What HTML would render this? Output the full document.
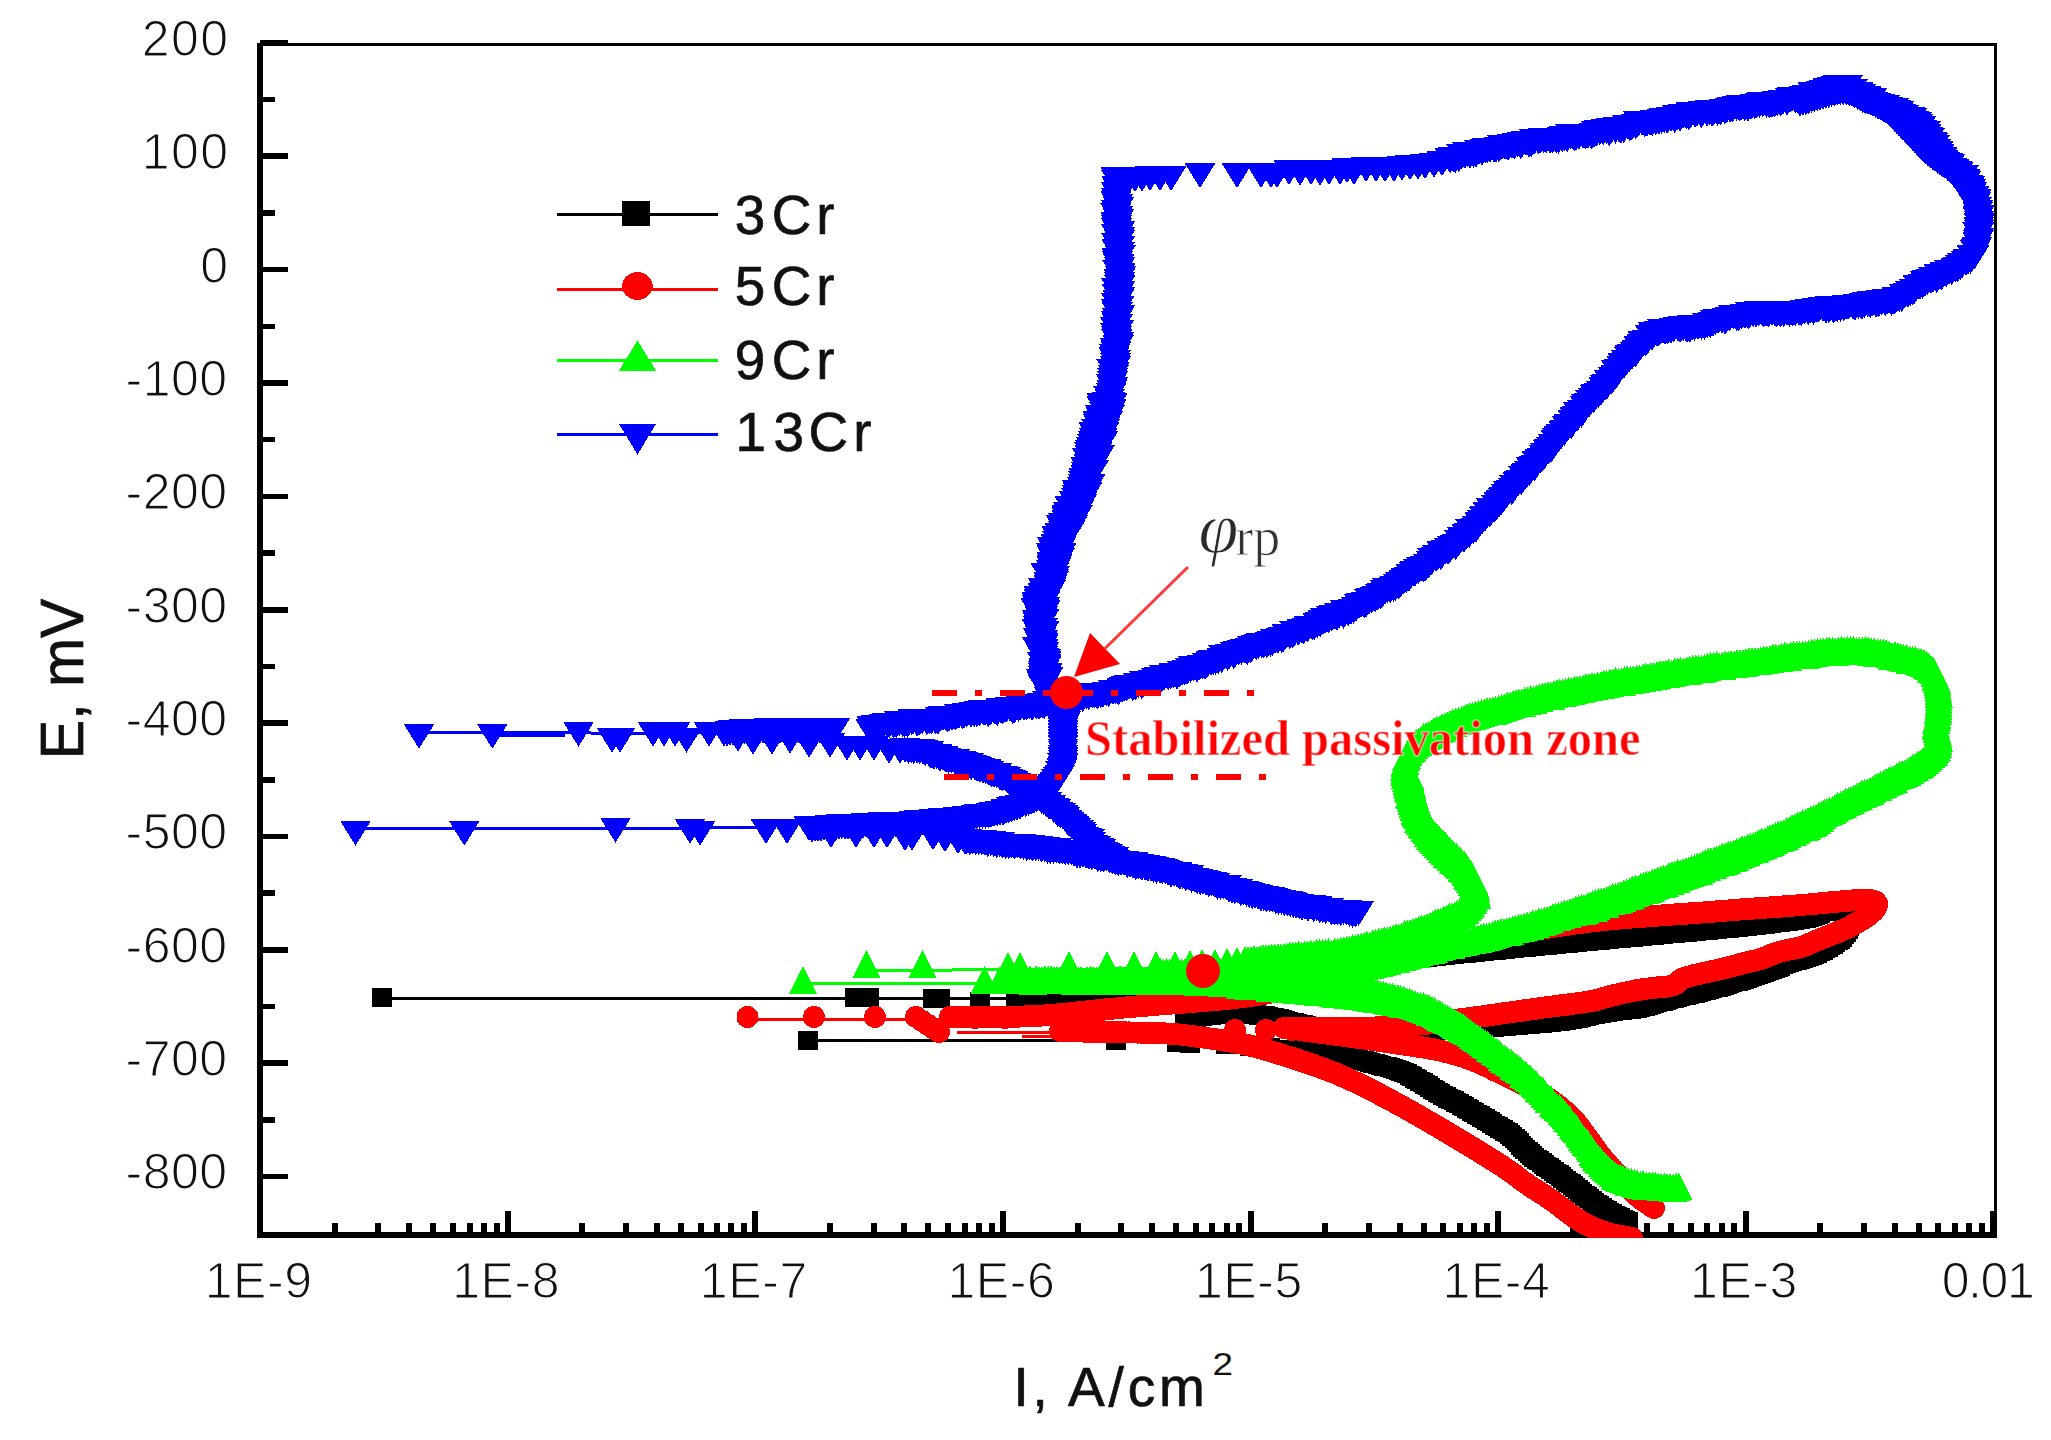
<!DOCTYPE html><html><head><meta charset="utf-8"><title>Polarization curves</title>
<style>html,body{margin:0;padding:0;background:#fff}svg{display:block}text{font-family:"Liberation Sans",sans-serif;fill:#111;stroke:#fff;stroke-width:1.2px}.se{font-family:"Liberation Serif",serif;stroke:none}.b{stroke:#111;stroke-width:.7px}</style></head><body>
<svg width="2051" height="1440" viewBox="0 0 2051 1440">
<rect width="2051" height="1440" fill="#fff"/>
<g fill="#000" shape-rendering="crispEdges"><rect x="256.8" y="42.5" width="6" height="1195.8"/><rect x="256.8" y="1231.8" width="1740.4" height="6.5"/><rect x="256.8" y="42.5" width="1740.4" height="3.5"/><rect x="1994" y="42.5" width="3.2" height="1195.8"/><rect x="260" y="40.1" width="27.5" height="5.6"/><rect x="260" y="96.8" width="15" height="5.6"/><rect x="260" y="153.4" width="27.5" height="5.6"/><rect x="260" y="210.1" width="15" height="5.6"/><rect x="260" y="266.8" width="27.5" height="5.6"/><rect x="260" y="323.5" width="15" height="5.6"/><rect x="260" y="380.1" width="27.5" height="5.6"/><rect x="260" y="436.8" width="15" height="5.6"/><rect x="260" y="493.5" width="27.5" height="5.6"/><rect x="260" y="550.2" width="15" height="5.6"/><rect x="260" y="606.9" width="27.5" height="5.6"/><rect x="260" y="663.5" width="15" height="5.6"/><rect x="260" y="720.2" width="27.5" height="5.6"/><rect x="260" y="776.9" width="15" height="5.6"/><rect x="260" y="833.5" width="27.5" height="5.6"/><rect x="260" y="890.2" width="15" height="5.6"/><rect x="260" y="946.9" width="27.5" height="5.6"/><rect x="260" y="1003.6" width="15" height="5.6"/><rect x="260" y="1060.2" width="27.5" height="5.6"/><rect x="260" y="1116.9" width="15" height="5.6"/><rect x="260" y="1173.6" width="27.5" height="5.6"/><rect x="257.3" y="1211" width="6" height="22"/><rect x="331.8" y="1222.8" width="6" height="10.7"/><rect x="375.4" y="1222.8" width="6" height="10.7"/><rect x="406.3" y="1222.8" width="6" height="10.7"/><rect x="430.3" y="1222.8" width="6" height="10.7"/><rect x="449.9" y="1222.8" width="6" height="10.7"/><rect x="466.5" y="1222.8" width="6" height="10.7"/><rect x="480.9" y="1222.8" width="6" height="10.7"/><rect x="493.5" y="1222.8" width="6" height="10.7"/><rect x="504.9" y="1211" width="6" height="22"/><rect x="579.4" y="1222.8" width="6" height="10.7"/><rect x="623" y="1222.8" width="6" height="10.7"/><rect x="653.9" y="1222.8" width="6" height="10.7"/><rect x="677.9" y="1222.8" width="6" height="10.7"/><rect x="697.5" y="1222.8" width="6" height="10.7"/><rect x="714.1" y="1222.8" width="6" height="10.7"/><rect x="728.4" y="1222.8" width="6" height="10.7"/><rect x="741.1" y="1222.8" width="6" height="10.7"/><rect x="752.4" y="1211" width="6" height="22"/><rect x="826.9" y="1222.8" width="6" height="10.7"/><rect x="870.5" y="1222.8" width="6" height="10.7"/><rect x="901.4" y="1222.8" width="6" height="10.7"/><rect x="925.4" y="1222.8" width="6" height="10.7"/><rect x="945" y="1222.8" width="6" height="10.7"/><rect x="961.6" y="1222.8" width="6" height="10.7"/><rect x="976" y="1222.8" width="6" height="10.7"/><rect x="988.6" y="1222.8" width="6" height="10.7"/><rect x="1000" y="1211" width="6" height="22"/><rect x="1074.5" y="1222.8" width="6" height="10.7"/><rect x="1118.1" y="1222.8" width="6" height="10.7"/><rect x="1149" y="1222.8" width="6" height="10.7"/><rect x="1173" y="1222.8" width="6" height="10.7"/><rect x="1192.6" y="1222.8" width="6" height="10.7"/><rect x="1209.2" y="1222.8" width="6" height="10.7"/><rect x="1223.5" y="1222.8" width="6" height="10.7"/><rect x="1236.2" y="1222.8" width="6" height="10.7"/><rect x="1247.5" y="1211" width="6" height="22"/><rect x="1322" y="1222.8" width="6" height="10.7"/><rect x="1365.6" y="1222.8" width="6" height="10.7"/><rect x="1396.5" y="1222.8" width="6" height="10.7"/><rect x="1420.5" y="1222.8" width="6" height="10.7"/><rect x="1440.1" y="1222.8" width="6" height="10.7"/><rect x="1456.7" y="1222.8" width="6" height="10.7"/><rect x="1471.1" y="1222.8" width="6" height="10.7"/><rect x="1483.7" y="1222.8" width="6" height="10.7"/><rect x="1495" y="1211" width="6" height="22"/><rect x="1569.6" y="1222.8" width="6" height="10.7"/><rect x="1613.2" y="1222.8" width="6" height="10.7"/><rect x="1644.1" y="1222.8" width="6" height="10.7"/><rect x="1668.1" y="1222.8" width="6" height="10.7"/><rect x="1687.7" y="1222.8" width="6" height="10.7"/><rect x="1704.3" y="1222.8" width="6" height="10.7"/><rect x="1718.6" y="1222.8" width="6" height="10.7"/><rect x="1731.3" y="1222.8" width="6" height="10.7"/><rect x="1742.6" y="1211" width="6" height="22"/><rect x="1817.1" y="1222.8" width="6" height="10.7"/><rect x="1860.7" y="1222.8" width="6" height="10.7"/><rect x="1891.6" y="1222.8" width="6" height="10.7"/><rect x="1915.6" y="1222.8" width="6" height="10.7"/><rect x="1935.2" y="1222.8" width="6" height="10.7"/><rect x="1951.8" y="1222.8" width="6" height="10.7"/><rect x="1966.2" y="1222.8" width="6" height="10.7"/><rect x="1978.8" y="1222.8" width="6" height="10.7"/><rect x="1990.2" y="1211" width="6" height="22"/></g>
<g font-size="50" letter-spacing="1.5"><text x="229.6" y="55.8" text-anchor="end">200</text><text x="229.6" y="169.2" text-anchor="end">100</text><text x="229.6" y="282.5" text-anchor="end">0</text><text x="227.6" y="395.8" text-anchor="end" letter-spacing="0.5">-100</text><text x="227.6" y="509.2" text-anchor="end" letter-spacing="0.5">-200</text><text x="227.6" y="622.5" text-anchor="end" letter-spacing="0.5">-300</text><text x="227.6" y="735.9" text-anchor="end" letter-spacing="0.5">-400</text><text x="227.6" y="849.2" text-anchor="end" letter-spacing="0.5">-500</text><text x="227.6" y="962.6" text-anchor="end" letter-spacing="0.5">-600</text><text x="227.6" y="1076" text-anchor="end" letter-spacing="0.5">-700</text><text x="227.6" y="1189.3" text-anchor="end" letter-spacing="0.5">-800</text><text x="258.7" y="1298" text-anchor="middle" letter-spacing="0.6">1E-9</text><text x="506.2" y="1298" text-anchor="middle" letter-spacing="0.6">1E-8</text><text x="753.8" y="1298" text-anchor="middle" letter-spacing="0.6">1E-7</text><text x="1001.4" y="1298" text-anchor="middle" letter-spacing="0.6">1E-6</text><text x="1248.9" y="1298" text-anchor="middle" letter-spacing="0.6">1E-5</text><text x="1496.5" y="1298" text-anchor="middle" letter-spacing="0.6">1E-4</text><text x="1744" y="1298" text-anchor="middle" letter-spacing="0.6">1E-3</text><text x="1987.5" y="1298" text-anchor="middle" letter-spacing="-1.4">0.01</text></g>
<text class="b" font-size="59" transform="translate(83.4,759.2) rotate(-90) scale(1,1.035)">E, mV</text>
<text class="b" font-size="55" x="1013.4" y="1405.8" letter-spacing="3.9">I, A/cm</text>
<text font-size="31" x="1212.5" y="1375" textLength="20.5" lengthAdjust="spacingAndGlyphs" style="stroke:none">2</text>
<defs><clipPath id="cp"><rect x="260" y="44" width="1737" height="1194"/></clipPath></defs>
<g clip-path="url(#cp)" shape-rendering="crispEdges">
<polyline points="382,998.3 1040,998.3" fill="none" stroke="#000" stroke-width="3"/>
<polyline points="808,1040.3 1110,1040.3" fill="none" stroke="#000" stroke-width="3"/>
<path fill="#000" d="M1030,987.5h20v19h-20zM1033,987.5h20v19h-20zM1036,987.5h20v19h-20zM1039,987.4h20v19h-20zM1042,987.4h20v19h-20zM1045,987.4h20v19h-20zM1048,987.4h20v19h-20zM1051,987.3h20v19h-20zM1054,987.3h20v19h-20zM1057,987.3h20v19h-20zM1060,987.3h20v19h-20zM1063,987.2h20v19h-20zM1066,987.2h20v19h-20zM1069,987.2h20v19h-20zM1072,987.1h20v19h-20zM1075,987.1h20v19h-20zM1078,987.1h20v19h-20zM1081,987h20v19h-20zM1084,987h20v19h-20zM1087,986.9h20v19h-20zM1090,986.9h20v19h-20zM1093,986.9h20v19h-20zM1096,986.8h20v19h-20zM1099,986.8h20v19h-20zM1102,986.7h20v19h-20zM1105,986.7h20v19h-20zM1108,986.6h20v19h-20zM1111,986.6h20v19h-20zM1114,986.5h20v19h-20zM1117,986.5h20v19h-20zM1120,986.4h20v19h-20zM1123,986.4h20v19h-20zM1126,986.3h20v19h-20zM1129,986.2h20v19h-20zM1132,986.2h20v19h-20zM1135,986.1h20v19h-20zM1138,986.1h20v19h-20zM1141,985.9h20v19h-20zM1144,985.7h20v19h-20zM1147,985.5h20v19h-20zM1150,985.2h20v19h-20zM1153,985h20v19h-20zM1155.9,984.8h20v19h-20zM1158.9,984.6h20v19h-20zM1161.9,984.4h20v19h-20zM1164.9,984h20v19h-20zM1167.9,983.7h20v19h-20zM1170.9,983.4h20v19h-20zM1173.9,983.1h20v19h-20zM1176.8,982.7h20v19h-20zM1179.8,982.4h20v19h-20zM1182.8,982.1h20v19h-20zM1185.8,981.8h20v19h-20zM1188.8,981.4h20v19h-20zM1191.7,981h20v19h-20zM1194.7,980.5h20v19h-20zM1197.7,980.1h20v19h-20zM1200.6,979.7h20v19h-20zM1203.6,979.3h20v19h-20zM1206.6,978.9h20v19h-20zM1209.6,978.5h20v19h-20zM1212.5,978.1h20v19h-20zM1215.5,977.6h20v19h-20zM1218.5,977.1h20v19h-20zM1221.4,976.7h20v19h-20zM1224.4,976.2h20v19h-20zM1227.3,975.7h20v19h-20zM1230.3,975.2h20v19h-20zM1233.3,974.7h20v19h-20zM1236.2,974.2h20v19h-20zM1239.2,973.8h20v19h-20zM1242.1,973.3h20v19h-20zM1245.1,972.8h20v19h-20zM1248.1,972.3h20v19h-20zM1251,971.8h20v19h-20zM1254,971.4h20v19h-20zM1257,970.9h20v19h-20zM1259.9,970.4h20v19h-20zM1262.9,969.9h20v19h-20zM1265.8,969.4h20v19h-20zM1268.8,968.9h20v19h-20zM1271.8,968.5h20v19h-20zM1274.7,968h20v19h-20zM1277.7,967.5h20v19h-20zM1280.6,967h20v19h-20zM1283.6,966.5h20v19h-20zM1286.6,966.1h20v19h-20zM1289.5,965.6h20v19h-20zM1292.5,965.1h20v19h-20zM1295.4,964.6h20v19h-20zM1298.4,964.1h20v19h-20zM1301.4,963.7h20v19h-20zM1304.3,963.2h20v19h-20zM1307.3,962.7h20v19h-20zM1310.3,962.2h20v19h-20zM1313.2,961.7h20v19h-20zM1316.2,961.2h20v19h-20zM1319.1,960.8h20v19h-20zM1322.1,960.3h20v19h-20zM1325.1,959.8h20v19h-20zM1328,959.3h20v19h-20zM1331,958.8h20v19h-20zM1333.9,958.4h20v19h-20zM1336.9,957.9h20v19h-20zM1339.9,957.4h20v19h-20zM1342.8,956.9h20v19h-20zM1345.8,956.5h20v19h-20zM1348.8,956.1h20v19h-20zM1351.7,955.6h20v19h-20zM1354.7,955.2h20v19h-20zM1357.7,954.7h20v19h-20zM1360.6,954.3h20v19h-20zM1363.6,953.9h20v19h-20zM1366.6,953.5h20v19h-20zM1369.6,953.1h20v19h-20zM1372.5,952.7h20v19h-20zM1375.5,952.3h20v19h-20zM1378.5,951.9h20v19h-20zM1381.4,951.5h20v19h-20zM1384.4,951.1h20v19h-20zM1387.4,950.8h20v19h-20zM1390.4,950.4h20v19h-20zM1393.4,950h20v19h-20zM1396.3,949.7h20v19h-20zM1399.3,949.4h20v19h-20zM1402.3,949.1h20v19h-20zM1405.3,948.8h20v19h-20zM1408.3,948.4h20v19h-20zM1411.3,948.1h20v19h-20zM1414.2,947.8h20v19h-20zM1417.2,947.5h20v19h-20zM1420.2,947.2h20v19h-20zM1423.2,946.9h20v19h-20zM1426.2,946.6h20v19h-20zM1429.2,946.3h20v19h-20zM1432.1,945.9h20v19h-20zM1435.1,945.6h20v19h-20zM1438.1,945.3h20v19h-20zM1441.1,945h20v19h-20zM1444.1,944.7h20v19h-20zM1447.1,944.4h20v19h-20zM1450,944.1h20v19h-20zM1453,943.8h20v19h-20zM1456,943.5h20v19h-20zM1459,943.2h20v19h-20zM1462,942.9h20v19h-20zM1465,942.6h20v19h-20zM1468,942.3h20v19h-20zM1470.9,942h20v19h-20zM1473.9,941.7h20v19h-20zM1476.9,941.4h20v19h-20zM1479.9,941.1h20v19h-20zM1482.9,940.8h20v19h-20zM1485.9,940.5h20v19h-20zM1488.8,940.2h20v19h-20zM1491.8,939.9h20v19h-20zM1494.8,939.6h20v19h-20zM1497.8,939.3h20v19h-20zM1500.8,939h20v19h-20zM1503.8,938.7h20v19h-20zM1506.8,938.4h20v19h-20zM1509.7,938.1h20v19h-20zM1512.7,937.8h20v19h-20zM1515.7,937.5h20v19h-20zM1518.7,937.2h20v19h-20zM1521.7,936.9h20v19h-20zM1524.7,936.6h20v19h-20zM1527.7,936.3h20v19h-20zM1530.6,936h20v19h-20zM1533.6,935.7h20v19h-20zM1536.6,935.5h20v19h-20zM1539.6,935.2h20v19h-20zM1542.6,934.9h20v19h-20zM1545.6,934.6h20v19h-20zM1548.6,934.3h20v19h-20zM1551.5,934h20v19h-20zM1554.5,933.8h20v19h-20zM1557.5,933.5h20v19h-20zM1560.5,933.2h20v19h-20zM1563.5,932.9h20v19h-20zM1566.5,932.6h20v19h-20zM1569.5,932.4h20v19h-20zM1572.5,932.1h20v19h-20zM1575.4,931.8h20v19h-20zM1578.4,931.6h20v19h-20zM1581.4,931.3h20v19h-20zM1584.4,931h20v19h-20zM1587.4,930.8h20v19h-20zM1590.4,930.5h20v19h-20zM1593.4,930.2h20v19h-20zM1596.4,930h20v19h-20zM1599.4,929.7h20v19h-20zM1602.3,929.4h20v19h-20zM1605.3,929.1h20v19h-20zM1608.3,928.9h20v19h-20zM1611.3,928.6h20v19h-20zM1614.3,928.3h20v19h-20zM1617.3,928h20v19h-20zM1620.3,927.8h20v19h-20zM1623.3,927.5h20v19h-20zM1626.2,927.2h20v19h-20zM1629.2,926.9h20v19h-20zM1632.2,926.7h20v19h-20zM1635.2,926.4h20v19h-20zM1638.2,926.1h20v19h-20zM1641.2,925.8h20v19h-20zM1644.2,925.6h20v19h-20zM1647.1,925.3h20v19h-20zM1650.1,925h20v19h-20zM1653.1,924.7h20v19h-20zM1656.1,924.4h20v19h-20zM1659.1,924.2h20v19h-20zM1662.1,923.9h20v19h-20zM1665.1,923.6h20v19h-20zM1668.1,923.3h20v19h-20zM1671,923h20v19h-20zM1674,922.8h20v19h-20zM1677,922.5h20v19h-20zM1680,922.2h20v19h-20zM1683,921.9h20v19h-20zM1686,921.6h20v19h-20zM1689,921.3h20v19h-20zM1692,921.1h20v19h-20zM1694.9,920.8h20v19h-20zM1697.9,920.5h20v19h-20zM1700.9,920.2h20v19h-20zM1703.9,919.9h20v19h-20zM1706.9,919.6h20v19h-20zM1709.9,919.4h20v19h-20zM1712.9,919.1h20v19h-20zM1715.8,918.8h20v19h-20zM1718.8,918.5h20v19h-20zM1721.8,918.2h20v19h-20zM1724.8,917.9h20v19h-20zM1727.8,917.6h20v19h-20zM1730.8,917.3h20v19h-20zM1733.8,917h20v19h-20zM1736.7,916.7h20v19h-20zM1739.7,916.3h20v19h-20zM1742.7,916h20v19h-20zM1745.7,915.7h20v19h-20zM1748.7,915.3h20v19h-20zM1751.6,914.9h20v19h-20zM1754.6,914.6h20v19h-20zM1757.6,914.2h20v19h-20zM1760.6,913.8h20v19h-20zM1763.5,913.4h20v19h-20zM1766.5,913h20v19h-20zM1769.5,912.6h20v19h-20zM1772.5,912.3h20v19h-20zM1775.4,911.9h20v19h-20zM1778.4,911.5h20v19h-20zM1781.4,911.2h20v19h-20zM1784.4,910.8h20v19h-20zM1787.3,910.4h20v19h-20zM1790.3,909.9h20v19h-20zM1793.2,909.3h20v19h-20zM1796.2,908.6h20v19h-20zM1799.1,907.8h20v19h-20zM1801.9,906.9h20v19h-20zM1804.7,905.9h20v19h-20zM1807.5,904.8h20v19h-20zM1810.3,903.6h20v19h-20zM1813,902.3h20v19h-20zM1815.6,900.8h20v19h-20zM1818.2,899.4h20v19h-20zM1820.9,898h20v19h-20zM1823.8,897.6h20v19h-20zM1826.6,898.6h20v19h-20zM1829.3,900h20v19h-20zM1831.7,901.7h20v19h-20zM1834,903.7h20v19h-20zM1835.8,906.1h20v19h-20zM1837.3,908.7h20v19h-20zM1838.3,911.5h20v19h-20zM1838.8,914.4h20v19h-20zM1838.6,917.4h20v19h-20zM1837.7,920.3h20v19h-20zM1836.2,922.8h20v19h-20zM1834.4,925.2h20v19h-20zM1832.4,927.5h20v19h-20zM1830.2,929.5h20v19h-20zM1827.9,931.4h20v19h-20zM1825.4,933.1h20v19h-20zM1822.9,934.8h20v19h-20zM1820.4,936.4h20v19h-20zM1817.8,937.9h20v19h-20zM1815.2,939.4h20v19h-20zM1812.5,940.8h20v19h-20zM1809.9,942.2h20v19h-20zM1807.2,943.5h20v19h-20zM1804.4,944.7h20v19h-20zM1801.6,945.8h20v19h-20zM1798.8,946.8h20v19h-20zM1796,947.9h20v19h-20zM1793.1,948.7h20v19h-20zM1790.2,949.6h20v19h-20zM1787.4,950.5h20v19h-20zM1784.5,951.4h20v19h-20zM1781.7,952.4h20v19h-20zM1778.9,953.4h20v19h-20zM1776,954.4h20v19h-20zM1773.2,955.4h20v19h-20zM1770.4,956.5h20v19h-20zM1767.6,957.5h20v19h-20zM1764.8,958.6h20v19h-20zM1762,959.6h20v19h-20zM1759.2,960.7h20v19h-20zM1756.4,961.7h20v19h-20zM1753.6,962.8h20v19h-20zM1750.7,963.8h20v19h-20zM1747.9,964.8h20v19h-20zM1745.1,965.8h20v19h-20zM1742.2,966.8h20v19h-20zM1739.4,967.7h20v19h-20zM1736.6,968.7h20v19h-20zM1733.7,969.6h20v19h-20zM1730.9,970.6h20v19h-20zM1728,971.5h20v19h-20zM1725.1,972.4h20v19h-20zM1722.3,973.3h20v19h-20zM1719.4,974.2h20v19h-20zM1716.5,975.1h20v19h-20zM1713.7,975.9h20v19h-20zM1710.8,976.8h20v19h-20zM1707.9,977.6h20v19h-20zM1705,978.4h20v19h-20zM1702.1,979.2h20v19h-20zM1699.2,979.9h20v19h-20zM1696.3,980.7h20v19h-20zM1693.4,981.4h20v19h-20zM1690.5,982.1h20v19h-20zM1687.6,982.8h20v19h-20zM1684.7,983.6h20v19h-20zM1681.8,984.3h20v19h-20zM1678.8,985h20v19h-20zM1675.9,985.7h20v19h-20zM1673,986.4h20v19h-20zM1670.1,987.1h20v19h-20zM1667.2,987.8h20v19h-20zM1664.3,988.6h20v19h-20zM1661.4,989.3h20v19h-20zM1658.4,990h20v19h-20zM1655.5,990.7h20v19h-20zM1652.6,991.5h20v19h-20zM1649.7,992.3h20v19h-20zM1646.8,993h20v19h-20zM1643.9,993.9h20v19h-20zM1641.1,994.7h20v19h-20zM1638.2,995.6h20v19h-20zM1635.4,996.5h20v19h-20zM1632.5,997.3h20v19h-20zM1629.5,998h20v19h-20zM1626.6,998.6h20v19h-20zM1623.6,999.1h20v19h-20zM1620.7,999.6h20v19h-20zM1617.7,1000h20v19h-20zM1614.7,1000.4h20v19h-20zM1611.8,1000.7h20v19h-20zM1608.8,1001h20v19h-20zM1605.8,1001.3h20v19h-20zM1602.8,1001.7h20v19h-20zM1599.8,1002.1h20v19h-20zM1596.9,1002.5h20v19h-20zM1593.9,1003h20v19h-20zM1590.9,1003.5h20v19h-20zM1588,1004h20v19h-20zM1585.1,1004.6h20v19h-20zM1582.1,1005.3h20v19h-20zM1579.2,1005.9h20v19h-20zM1576.3,1006.7h20v19h-20zM1573.4,1007.4h20v19h-20zM1570.5,1008.1h20v19h-20zM1567.5,1008.7h20v19h-20zM1564.6,1009.2h20v19h-20zM1561.6,1009.8h20v19h-20zM1558.7,1010.2h20v19h-20zM1555.7,1010.6h20v19h-20zM1552.7,1011.1h20v19h-20zM1549.7,1011.5h20v19h-20zM1546.8,1011.9h20v19h-20zM1543.8,1012.2h20v19h-20zM1540.8,1012.5h20v19h-20zM1537.8,1012.8h20v19h-20zM1534.8,1013.2h20v19h-20zM1531.9,1013.5h20v19h-20zM1528.9,1013.8h20v19h-20zM1525.9,1014.1h20v19h-20zM1522.9,1014.3h20v19h-20zM1519.9,1014.6h20v19h-20zM1516.9,1014.9h20v19h-20zM1513.9,1015.1h20v19h-20zM1511,1015.4h20v19h-20zM1508,1015.6h20v19h-20zM1505,1015.9h20v19h-20zM1502,1016.1h20v19h-20zM1499,1016.4h20v19h-20zM1496,1016.6h20v19h-20zM1493,1016.9h20v19h-20zM1490,1017.1h20v19h-20zM1487,1017.3h20v19h-20zM1484,1017.5h20v19h-20zM1481,1017.8h20v19h-20zM1478.1,1018h20v19h-20zM1475.1,1018.2h20v19h-20zM1472.1,1018.4h20v19h-20zM1469.1,1018.6h20v19h-20zM1466.1,1018.8h20v19h-20zM1463.1,1019h20v19h-20zM1460.1,1019.2h20v19h-20zM1457.1,1019.4h20v19h-20zM1454.1,1019.6h20v19h-20zM1451.1,1019.8h20v19h-20zM1448.1,1020h20v19h-20zM1445.1,1020.2h20v19h-20zM1442.1,1020.4h20v19h-20zM1439.1,1020.6h20v19h-20zM1436.1,1020.7h20v19h-20zM1433.1,1020.9h20v19h-20zM1430.2,1021.1h20v19h-20zM1427.2,1021.3h20v19h-20zM1424.2,1021.5h20v19h-20zM1421.2,1021.6h20v19h-20zM1418.2,1021.7h20v19h-20zM1415.2,1021.8h20v19h-20zM1412.2,1022h20v19h-20zM1409.2,1022.1h20v19h-20zM1406.2,1022.2h20v19h-20zM1403.2,1022.4h20v19h-20zM1400.2,1022.4h20v19h-20zM1397.2,1022.5h20v19h-20zM1394.2,1022.6h20v19h-20zM1391.2,1022.6h20v19h-20zM1388.2,1022.7h20v19h-20zM1385.2,1022.8h20v19h-20zM1382.2,1022.8h20v19h-20zM1379.2,1022.8h20v19h-20zM1376.2,1022.8h20v19h-20zM1373.2,1022.8h20v19h-20zM1370.2,1022.8h20v19h-20zM1367.2,1022.7h20v19h-20zM1364.2,1022.6h20v19h-20zM1361.2,1022.5h20v19h-20zM1358.2,1022.4h20v19h-20zM1355.2,1022.3h20v19h-20zM1352.2,1022.2h20v19h-20zM1349.2,1022.1h20v19h-20zM1346.2,1021.9h20v19h-20zM1343.2,1021.7h20v19h-20zM1340.2,1021.6h20v19h-20zM1337.2,1021.4h20v19h-20zM1334.2,1021.1h20v19h-20zM1331.2,1020.9h20v19h-20zM1328.3,1020.7h20v19h-20zM1325.3,1020.4h20v19h-20zM1322.3,1020.1h20v19h-20zM1319.3,1019.7h20v19h-20zM1316.3,1019.4h20v19h-20zM1313.3,1019h20v19h-20zM1310.4,1018.6h20v19h-20zM1307.4,1018.1h20v19h-20zM1304.4,1017.7h20v19h-20zM1301.5,1017.1h20v19h-20zM1298.5,1016.6h20v19h-20zM1295.6,1016.1h20v19h-20zM1292.7,1015.4h20v19h-20zM1289.7,1014.8h20v19h-20zM1286.8,1014.2h20v19h-20zM1283.9,1013.4h20v19h-20zM1281,1012.7h20v19h-20zM1278.1,1011.9h20v19h-20zM1275.2,1011h20v19h-20zM1272.3,1010.1h20v19h-20zM1269.4,1009.4h20v19h-20zM1266.5,1008.7h20v19h-20zM1263.6,1008h20v19h-20zM1260.7,1007.5h20v19h-20zM1257.7,1006.9h20v19h-20zM1254.7,1006.4h20v19h-20zM1251.8,1006h20v19h-20zM1248.8,1005.6h20v19h-20zM1245.8,1005.2h20v19h-20zM1242.8,1004.9h20v19h-20zM1239.9,1004.7h20v19h-20zM1236.9,1004.5h20v19h-20zM1233.9,1004.3h20v19h-20zM1230.9,1004.2h20v19h-20zM1227.9,1004.1h20v19h-20zM1224.9,1004.1h20v19h-20zM1221.9,1004.2h20v19h-20zM1218.9,1004.2h20v19h-20zM1215.9,1004.4h20v19h-20zM1212.9,1004.6h20v19h-20zM1209.9,1004.8h20v19h-20zM1206.9,1005h20v19h-20zM1203.9,1005.3h20v19h-20zM1200.9,1005.6h20v19h-20zM1197.9,1005.9h20v19h-20zM1195,1006.2h20v19h-20zM1192,1006.6h20v19h-20zM1189,1007.1h20v19h-20zM1186.1,1007.6h20v19h-20zM1183.1,1008.1h20v19h-20zM1180.2,1008.6h20v19h-20zM1177.2,1009.1h20v19h-20zM1175,1009.5h20v19h-20zM1280,1039.5h20v19h-20zM1283,1039.7h20v19h-20zM1286,1039.8h20v19h-20zM1289,1040h20v19h-20zM1292,1040.2h20v19h-20zM1295,1040.3h20v19h-20zM1298,1040.5h20v19h-20zM1301,1040.7h20v19h-20zM1304,1040.9h20v19h-20zM1306.9,1041.2h20v19h-20zM1309.9,1041.5h20v19h-20zM1312.9,1041.9h20v19h-20zM1315.9,1042.4h20v19h-20zM1318.8,1042.9h20v19h-20zM1321.8,1043.4h20v19h-20zM1324.7,1044h20v19h-20zM1327.6,1044.6h20v19h-20zM1330.6,1045.4h20v19h-20zM1333.5,1046.1h20v19h-20zM1336.4,1046.9h20v19h-20zM1339.3,1047.6h20v19h-20zM1342.2,1048.4h20v19h-20zM1345.1,1049.2h20v19h-20zM1348,1049.9h20v19h-20zM1350.9,1050.7h20v19h-20zM1353.8,1051.4h20v19h-20zM1356.7,1052.1h20v19h-20zM1359.6,1052.9h20v19h-20zM1362.5,1053.6h20v19h-20zM1365.4,1054.4h20v19h-20zM1368.3,1055.1h20v19h-20zM1371.2,1055.8h20v19h-20zM1374.1,1056.5h20v19h-20zM1377,1057.3h20v19h-20zM1379.9,1058.2h20v19h-20zM1382.8,1059h20v19h-20zM1385.6,1060h20v19h-20zM1388.5,1061h20v19h-20zM1391.3,1062h20v19h-20zM1394.1,1063.1h20v19h-20zM1396.8,1064.3h20v19h-20zM1399.5,1065.7h20v19h-20zM1402.1,1067.2h20v19h-20zM1404.7,1068.6h20v19h-20zM1407.3,1070.1h20v19h-20zM1409.9,1071.7h20v19h-20zM1412.5,1073.2h20v19h-20zM1415,1074.8h20v19h-20zM1417.5,1076.4h20v19h-20zM1420.1,1078h20v19h-20zM1422.6,1079.7h20v19h-20zM1425.1,1081.2h20v19h-20zM1427.7,1082.8h20v19h-20zM1430.3,1084.3h20v19h-20zM1432.9,1085.8h20v19h-20zM1435.5,1087.2h20v19h-20zM1438.2,1088.6h20v19h-20zM1440.9,1089.9h20v19h-20zM1443.6,1091.3h20v19h-20zM1446.2,1092.7h20v19h-20zM1448.9,1094.1h20v19h-20zM1451.5,1095.6h20v19h-20zM1454.1,1097h20v19h-20zM1456.7,1098.5h20v19h-20zM1459.3,1100.1h20v19h-20zM1461.8,1101.6h20v19h-20zM1464.4,1103.2h20v19h-20zM1467,1104.7h20v19h-20zM1469.6,1106.2h20v19h-20zM1472.1,1107.8h20v19h-20zM1474.7,1109.3h20v19h-20zM1477.3,1110.9h20v19h-20zM1479.9,1112.4h20v19h-20zM1482.4,1114h20v19h-20zM1485,1115.5h20v19h-20zM1487.6,1117h20v19h-20zM1490.1,1118.6h20v19h-20zM1492.7,1120.1h20v19h-20zM1495.3,1121.7h20v19h-20zM1497.7,1123.4h20v19h-20zM1500.1,1125.3h20v19h-20zM1502.3,1127.2h20v19h-20zM1504.6,1129.3h20v19h-20zM1506.7,1131.3h20v19h-20zM1508.9,1133.4h20v19h-20zM1511,1135.5h20v19h-20zM1513.1,1137.6h20v19h-20zM1515.3,1139.7h20v19h-20zM1517.5,1141.7h20v19h-20zM1519.8,1143.7h20v19h-20zM1522.1,1145.7h20v19h-20zM1524.4,1147.6h20v19h-20zM1526.7,1149.5h20v19h-20zM1529.1,1151.3h20v19h-20zM1531.5,1153.1h20v19h-20zM1533.9,1154.9h20v19h-20zM1536.3,1156.7h20v19h-20zM1538.7,1158.4h20v19h-20zM1541.2,1160.1h20v19h-20zM1543.7,1161.9h20v19h-20zM1546.1,1163.6h20v19h-20zM1548.5,1165.4h20v19h-20zM1550.9,1167.2h20v19h-20zM1553.3,1168.9h20v19h-20zM1555.7,1170.8h20v19h-20zM1558.1,1172.6h20v19h-20zM1560.5,1174.4h20v19h-20zM1562.9,1176.2h20v19h-20zM1565.2,1178.1h20v19h-20zM1567.6,1179.9h20v19h-20zM1570,1181.8h20v19h-20zM1572.3,1183.7h20v19h-20zM1574.6,1185.6h20v19h-20zM1577,1187.4h20v19h-20zM1579.3,1189.2h20v19h-20zM1581.7,1191.1h20v19h-20zM1584.1,1192.9h20v19h-20zM1586.6,1194.6h20v19h-20zM1589.1,1196.3h20v19h-20zM1591.5,1198h20v19h-20zM1594.1,1199.6h20v19h-20zM1596.6,1201.2h20v19h-20zM1599.2,1202.7h20v19h-20zM1601.9,1204.1h20v19h-20zM1604.5,1205.5h20v19h-20zM1607.2,1206.9h20v19h-20zM1609.8,1208.3h20v19h-20zM1612.5,1209.7h20v19h-20zM1615.1,1211.1h20v19h-20zM1617.8,1212.4h20v19h-20zM1618,1212.5h20v19h-20zM372,988h20v19h-20zM845,988h20v19h-20zM859,988h20v19h-20zM922.6,989h20v19h-20zM930.4,989h20v19h-20zM970,991.5h20v19h-20zM1006,989h20v19h-20zM1020,988h20v19h-20zM798,1030.8h20v19h-20zM1106,1031h20v19h-20zM1167,1033h20v19h-20zM1180,1033.5h20v19h-20zM1216,1034.5h20v19h-20zM1240,1036.5h20v19h-20zM1260,1038h20v19h-20z"/>
<polyline points="747.5,1019.3 950,1019.3" fill="none" stroke="#f00" stroke-width="3"/>
<polyline points="957,1032.6 1090,1032.6" fill="none" stroke="#f00" stroke-width="3"/>
<polyline points="1022,1036 1086,1036" fill="none" stroke="#f00" stroke-width="3"/>
<path fill="#f00" d="M939,1017a11,11 0 1,0 22,0a11,11 0 1,0 -22,0zM942,1017a11,11 0 1,0 22,0a11,11 0 1,0 -22,0zM945,1017a11,11 0 1,0 22,0a11,11 0 1,0 -22,0zM948,1017a11,11 0 1,0 22,0a11,11 0 1,0 -22,0zM951,1017a11,11 0 1,0 22,0a11,11 0 1,0 -22,0zM954,1017a11,11 0 1,0 22,0a11,11 0 1,0 -22,0zM957,1017a11,11 0 1,0 22,0a11,11 0 1,0 -22,0zM960,1017a11,11 0 1,0 22,0a11,11 0 1,0 -22,0zM963,1017a11,11 0 1,0 22,0a11,11 0 1,0 -22,0zM966,1017a11,11 0 1,0 22,0a11,11 0 1,0 -22,0zM969,1017a11,11 0 1,0 22,0a11,11 0 1,0 -22,0zM972,1017a11,11 0 1,0 22,0a11,11 0 1,0 -22,0zM975,1017a11,11 0 1,0 22,0a11,11 0 1,0 -22,0zM978,1017a11,11 0 1,0 22,0a11,11 0 1,0 -22,0zM981,1017a11,11 0 1,0 22,0a11,11 0 1,0 -22,0zM984,1017a11,11 0 1,0 22,0a11,11 0 1,0 -22,0zM987,1017a11,11 0 1,0 22,0a11,11 0 1,0 -22,0zM990,1017a11,11 0 1,0 22,0a11,11 0 1,0 -22,0zM993,1017a11,11 0 1,0 22,0a11,11 0 1,0 -22,0zM996,1016.9a11,11 0 1,0 22,0a11,11 0 1,0 -22,0zM999,1016.8a11,11 0 1,0 22,0a11,11 0 1,0 -22,0zM1002,1016.8a11,11 0 1,0 22,0a11,11 0 1,0 -22,0zM1005,1016.7a11,11 0 1,0 22,0a11,11 0 1,0 -22,0zM1008,1016.6a11,11 0 1,0 22,0a11,11 0 1,0 -22,0zM1011,1016.5a11,11 0 1,0 22,0a11,11 0 1,0 -22,0zM1014,1016.4a11,11 0 1,0 22,0a11,11 0 1,0 -22,0zM1017,1016.3a11,11 0 1,0 22,0a11,11 0 1,0 -22,0zM1020,1016.1a11,11 0 1,0 22,0a11,11 0 1,0 -22,0zM1023,1016a11,11 0 1,0 22,0a11,11 0 1,0 -22,0zM1026,1015.8a11,11 0 1,0 22,0a11,11 0 1,0 -22,0zM1029,1015.7a11,11 0 1,0 22,0a11,11 0 1,0 -22,0zM1032,1015.5a11,11 0 1,0 22,0a11,11 0 1,0 -22,0zM1035,1015.3a11,11 0 1,0 22,0a11,11 0 1,0 -22,0zM1038,1015.1a11,11 0 1,0 22,0a11,11 0 1,0 -22,0zM1040.9,1014.8a11,11 0 1,0 22,0a11,11 0 1,0 -22,0zM1043.9,1014.6a11,11 0 1,0 22,0a11,11 0 1,0 -22,0zM1046.9,1014.4a11,11 0 1,0 22,0a11,11 0 1,0 -22,0zM1049.9,1014.1a11,11 0 1,0 22,0a11,11 0 1,0 -22,0zM1052.9,1013.8a11,11 0 1,0 22,0a11,11 0 1,0 -22,0zM1055.9,1013.5a11,11 0 1,0 22,0a11,11 0 1,0 -22,0zM1058.9,1013.1a11,11 0 1,0 22,0a11,11 0 1,0 -22,0zM1061.8,1012.8a11,11 0 1,0 22,0a11,11 0 1,0 -22,0zM1064.8,1012.5a11,11 0 1,0 22,0a11,11 0 1,0 -22,0zM1067.8,1012.2a11,11 0 1,0 22,0a11,11 0 1,0 -22,0zM1070.8,1011.9a11,11 0 1,0 22,0a11,11 0 1,0 -22,0zM1073.8,1011.6a11,11 0 1,0 22,0a11,11 0 1,0 -22,0zM1076.8,1011.3a11,11 0 1,0 22,0a11,11 0 1,0 -22,0zM1079.8,1011a11,11 0 1,0 22,0a11,11 0 1,0 -22,0zM1082.7,1010.7a11,11 0 1,0 22,0a11,11 0 1,0 -22,0zM1085.7,1010.4a11,11 0 1,0 22,0a11,11 0 1,0 -22,0zM1088.7,1010.1a11,11 0 1,0 22,0a11,11 0 1,0 -22,0zM1091.7,1009.8a11,11 0 1,0 22,0a11,11 0 1,0 -22,0zM1094.7,1009.4a11,11 0 1,0 22,0a11,11 0 1,0 -22,0zM1097.7,1009.1a11,11 0 1,0 22,0a11,11 0 1,0 -22,0zM1100.6,1008.8a11,11 0 1,0 22,0a11,11 0 1,0 -22,0zM1103.6,1008.5a11,11 0 1,0 22,0a11,11 0 1,0 -22,0zM1106.6,1008.2a11,11 0 1,0 22,0a11,11 0 1,0 -22,0zM1109.6,1007.9a11,11 0 1,0 22,0a11,11 0 1,0 -22,0zM1112.6,1007.6a11,11 0 1,0 22,0a11,11 0 1,0 -22,0zM1115.6,1007.4a11,11 0 1,0 22,0a11,11 0 1,0 -22,0zM1118.6,1007.1a11,11 0 1,0 22,0a11,11 0 1,0 -22,0zM1121.5,1006.8a11,11 0 1,0 22,0a11,11 0 1,0 -22,0zM1124.5,1006.5a11,11 0 1,0 22,0a11,11 0 1,0 -22,0zM1127.5,1006.3a11,11 0 1,0 22,0a11,11 0 1,0 -22,0zM1130.5,1006a11,11 0 1,0 22,0a11,11 0 1,0 -22,0zM1133.5,1005.7a11,11 0 1,0 22,0a11,11 0 1,0 -22,0zM1136.5,1005.5a11,11 0 1,0 22,0a11,11 0 1,0 -22,0zM1139.5,1005.2a11,11 0 1,0 22,0a11,11 0 1,0 -22,0zM1142.5,1005a11,11 0 1,0 22,0a11,11 0 1,0 -22,0zM1145.5,1004.8a11,11 0 1,0 22,0a11,11 0 1,0 -22,0zM1148.4,1004.5a11,11 0 1,0 22,0a11,11 0 1,0 -22,0zM1151.4,1004.3a11,11 0 1,0 22,0a11,11 0 1,0 -22,0zM1154.4,1004.1a11,11 0 1,0 22,0a11,11 0 1,0 -22,0zM1157.4,1003.9a11,11 0 1,0 22,0a11,11 0 1,0 -22,0zM1160.4,1003.6a11,11 0 1,0 22,0a11,11 0 1,0 -22,0zM1163.4,1003.4a11,11 0 1,0 22,0a11,11 0 1,0 -22,0zM1166.4,1003.2a11,11 0 1,0 22,0a11,11 0 1,0 -22,0zM1169.4,1002.9a11,11 0 1,0 22,0a11,11 0 1,0 -22,0zM1172.4,1002.7a11,11 0 1,0 22,0a11,11 0 1,0 -22,0zM1175.4,1002.4a11,11 0 1,0 22,0a11,11 0 1,0 -22,0zM1178.4,1002.2a11,11 0 1,0 22,0a11,11 0 1,0 -22,0zM1181.3,1002a11,11 0 1,0 22,0a11,11 0 1,0 -22,0zM1184.3,1001.7a11,11 0 1,0 22,0a11,11 0 1,0 -22,0zM1187.3,1001.5a11,11 0 1,0 22,0a11,11 0 1,0 -22,0zM1190.3,1001.2a11,11 0 1,0 22,0a11,11 0 1,0 -22,0zM1193.3,1001a11,11 0 1,0 22,0a11,11 0 1,0 -22,0zM1196.3,1000.7a11,11 0 1,0 22,0a11,11 0 1,0 -22,0zM1199.3,1000.5a11,11 0 1,0 22,0a11,11 0 1,0 -22,0zM1202.3,1000.2a11,11 0 1,0 22,0a11,11 0 1,0 -22,0zM1205.3,1000a11,11 0 1,0 22,0a11,11 0 1,0 -22,0zM1208.2,999.7a11,11 0 1,0 22,0a11,11 0 1,0 -22,0zM1211.2,999.4a11,11 0 1,0 22,0a11,11 0 1,0 -22,0zM1214.2,999.1a11,11 0 1,0 22,0a11,11 0 1,0 -22,0zM1217.2,998.8a11,11 0 1,0 22,0a11,11 0 1,0 -22,0zM1220.2,998.4a11,11 0 1,0 22,0a11,11 0 1,0 -22,0zM1223.2,998.1a11,11 0 1,0 22,0a11,11 0 1,0 -22,0zM1226.1,997.7a11,11 0 1,0 22,0a11,11 0 1,0 -22,0zM1229.1,997.4a11,11 0 1,0 22,0a11,11 0 1,0 -22,0zM1232.1,997a11,11 0 1,0 22,0a11,11 0 1,0 -22,0zM1235.1,996.6a11,11 0 1,0 22,0a11,11 0 1,0 -22,0zM1238,996.2a11,11 0 1,0 22,0a11,11 0 1,0 -22,0zM1241,995.8a11,11 0 1,0 22,0a11,11 0 1,0 -22,0zM1244,995.3a11,11 0 1,0 22,0a11,11 0 1,0 -22,0zM1247,994.9a11,11 0 1,0 22,0a11,11 0 1,0 -22,0zM1249.9,994.5a11,11 0 1,0 22,0a11,11 0 1,0 -22,0zM1252.9,994a11,11 0 1,0 22,0a11,11 0 1,0 -22,0zM1255.8,993.5a11,11 0 1,0 22,0a11,11 0 1,0 -22,0zM1258.8,993a11,11 0 1,0 22,0a11,11 0 1,0 -22,0zM1261.8,992.5a11,11 0 1,0 22,0a11,11 0 1,0 -22,0zM1264.7,992a11,11 0 1,0 22,0a11,11 0 1,0 -22,0zM1267.7,991.5a11,11 0 1,0 22,0a11,11 0 1,0 -22,0zM1270.6,990.9a11,11 0 1,0 22,0a11,11 0 1,0 -22,0zM1273.5,990.3a11,11 0 1,0 22,0a11,11 0 1,0 -22,0zM1276.5,989.7a11,11 0 1,0 22,0a11,11 0 1,0 -22,0zM1279.4,989.1a11,11 0 1,0 22,0a11,11 0 1,0 -22,0zM1282.4,988.5a11,11 0 1,0 22,0a11,11 0 1,0 -22,0zM1285.3,987.8a11,11 0 1,0 22,0a11,11 0 1,0 -22,0zM1288.2,987.1a11,11 0 1,0 22,0a11,11 0 1,0 -22,0zM1291.1,986.4a11,11 0 1,0 22,0a11,11 0 1,0 -22,0zM1294,985.7a11,11 0 1,0 22,0a11,11 0 1,0 -22,0zM1297,985a11,11 0 1,0 22,0a11,11 0 1,0 -22,0zM1299.9,984.3a11,11 0 1,0 22,0a11,11 0 1,0 -22,0zM1302.8,983.5a11,11 0 1,0 22,0a11,11 0 1,0 -22,0zM1305.7,982.8a11,11 0 1,0 22,0a11,11 0 1,0 -22,0zM1308.6,982a11,11 0 1,0 22,0a11,11 0 1,0 -22,0zM1311.5,981.2a11,11 0 1,0 22,0a11,11 0 1,0 -22,0zM1314.4,980.4a11,11 0 1,0 22,0a11,11 0 1,0 -22,0zM1317.3,979.6a11,11 0 1,0 22,0a11,11 0 1,0 -22,0zM1320.1,978.8a11,11 0 1,0 22,0a11,11 0 1,0 -22,0zM1323,978a11,11 0 1,0 22,0a11,11 0 1,0 -22,0zM1325.9,977.1a11,11 0 1,0 22,0a11,11 0 1,0 -22,0zM1328.8,976.3a11,11 0 1,0 22,0a11,11 0 1,0 -22,0zM1331.7,975.4a11,11 0 1,0 22,0a11,11 0 1,0 -22,0zM1334.5,974.6a11,11 0 1,0 22,0a11,11 0 1,0 -22,0zM1337.4,973.7a11,11 0 1,0 22,0a11,11 0 1,0 -22,0zM1340.3,972.9a11,11 0 1,0 22,0a11,11 0 1,0 -22,0zM1343.2,972.1a11,11 0 1,0 22,0a11,11 0 1,0 -22,0zM1346,971.2a11,11 0 1,0 22,0a11,11 0 1,0 -22,0zM1348.9,970.4a11,11 0 1,0 22,0a11,11 0 1,0 -22,0zM1351.8,969.6a11,11 0 1,0 22,0a11,11 0 1,0 -22,0zM1354.7,968.7a11,11 0 1,0 22,0a11,11 0 1,0 -22,0zM1357.6,967.9a11,11 0 1,0 22,0a11,11 0 1,0 -22,0zM1360.5,967.1a11,11 0 1,0 22,0a11,11 0 1,0 -22,0zM1363.3,966.2a11,11 0 1,0 22,0a11,11 0 1,0 -22,0zM1366.2,965.4a11,11 0 1,0 22,0a11,11 0 1,0 -22,0zM1369.1,964.6a11,11 0 1,0 22,0a11,11 0 1,0 -22,0zM1372,963.8a11,11 0 1,0 22,0a11,11 0 1,0 -22,0zM1374.9,963a11,11 0 1,0 22,0a11,11 0 1,0 -22,0zM1377.8,962.2a11,11 0 1,0 22,0a11,11 0 1,0 -22,0zM1380.7,961.3a11,11 0 1,0 22,0a11,11 0 1,0 -22,0zM1383.6,960.5a11,11 0 1,0 22,0a11,11 0 1,0 -22,0zM1386.4,959.7a11,11 0 1,0 22,0a11,11 0 1,0 -22,0zM1389.3,958.9a11,11 0 1,0 22,0a11,11 0 1,0 -22,0zM1392.2,958.1a11,11 0 1,0 22,0a11,11 0 1,0 -22,0zM1395.1,957.3a11,11 0 1,0 22,0a11,11 0 1,0 -22,0zM1398,956.5a11,11 0 1,0 22,0a11,11 0 1,0 -22,0zM1400.9,955.7a11,11 0 1,0 22,0a11,11 0 1,0 -22,0zM1403.8,954.9a11,11 0 1,0 22,0a11,11 0 1,0 -22,0zM1406.7,954.1a11,11 0 1,0 22,0a11,11 0 1,0 -22,0zM1409.6,953.3a11,11 0 1,0 22,0a11,11 0 1,0 -22,0zM1412.5,952.5a11,11 0 1,0 22,0a11,11 0 1,0 -22,0zM1415.4,951.8a11,11 0 1,0 22,0a11,11 0 1,0 -22,0zM1418.3,951a11,11 0 1,0 22,0a11,11 0 1,0 -22,0zM1421.2,950.2a11,11 0 1,0 22,0a11,11 0 1,0 -22,0zM1424.1,949.5a11,11 0 1,0 22,0a11,11 0 1,0 -22,0zM1427,948.8a11,11 0 1,0 22,0a11,11 0 1,0 -22,0zM1429.9,948.1a11,11 0 1,0 22,0a11,11 0 1,0 -22,0zM1432.8,947.4a11,11 0 1,0 22,0a11,11 0 1,0 -22,0zM1435.7,946.6a11,11 0 1,0 22,0a11,11 0 1,0 -22,0zM1438.6,945.9a11,11 0 1,0 22,0a11,11 0 1,0 -22,0zM1441.6,945.2a11,11 0 1,0 22,0a11,11 0 1,0 -22,0zM1444.5,944.6a11,11 0 1,0 22,0a11,11 0 1,0 -22,0zM1447.4,943.9a11,11 0 1,0 22,0a11,11 0 1,0 -22,0zM1450.4,943.3a11,11 0 1,0 22,0a11,11 0 1,0 -22,0zM1453.3,942.7a11,11 0 1,0 22,0a11,11 0 1,0 -22,0zM1456.2,942a11,11 0 1,0 22,0a11,11 0 1,0 -22,0zM1459.1,941.4a11,11 0 1,0 22,0a11,11 0 1,0 -22,0zM1462.1,940.7a11,11 0 1,0 22,0a11,11 0 1,0 -22,0zM1465,940.2a11,11 0 1,0 22,0a11,11 0 1,0 -22,0zM1468,939.6a11,11 0 1,0 22,0a11,11 0 1,0 -22,0zM1470.9,939a11,11 0 1,0 22,0a11,11 0 1,0 -22,0zM1473.9,938.5a11,11 0 1,0 22,0a11,11 0 1,0 -22,0zM1476.8,937.9a11,11 0 1,0 22,0a11,11 0 1,0 -22,0zM1479.8,937.3a11,11 0 1,0 22,0a11,11 0 1,0 -22,0zM1482.7,936.8a11,11 0 1,0 22,0a11,11 0 1,0 -22,0zM1485.7,936.2a11,11 0 1,0 22,0a11,11 0 1,0 -22,0zM1488.6,935.7a11,11 0 1,0 22,0a11,11 0 1,0 -22,0zM1491.6,935.2a11,11 0 1,0 22,0a11,11 0 1,0 -22,0zM1494.5,934.7a11,11 0 1,0 22,0a11,11 0 1,0 -22,0zM1497.5,934.3a11,11 0 1,0 22,0a11,11 0 1,0 -22,0zM1500.4,933.8a11,11 0 1,0 22,0a11,11 0 1,0 -22,0zM1503.4,933.3a11,11 0 1,0 22,0a11,11 0 1,0 -22,0zM1506.4,932.8a11,11 0 1,0 22,0a11,11 0 1,0 -22,0zM1509.3,932.3a11,11 0 1,0 22,0a11,11 0 1,0 -22,0zM1512.3,931.8a11,11 0 1,0 22,0a11,11 0 1,0 -22,0zM1515.2,931.3a11,11 0 1,0 22,0a11,11 0 1,0 -22,0zM1518.2,930.8a11,11 0 1,0 22,0a11,11 0 1,0 -22,0zM1521.2,930.3a11,11 0 1,0 22,0a11,11 0 1,0 -22,0zM1524.1,929.9a11,11 0 1,0 22,0a11,11 0 1,0 -22,0zM1527.1,929.4a11,11 0 1,0 22,0a11,11 0 1,0 -22,0zM1530.1,928.9a11,11 0 1,0 22,0a11,11 0 1,0 -22,0zM1533,928.4a11,11 0 1,0 22,0a11,11 0 1,0 -22,0zM1536,928a11,11 0 1,0 22,0a11,11 0 1,0 -22,0zM1538.9,927.5a11,11 0 1,0 22,0a11,11 0 1,0 -22,0zM1541.9,927a11,11 0 1,0 22,0a11,11 0 1,0 -22,0zM1544.9,926.5a11,11 0 1,0 22,0a11,11 0 1,0 -22,0zM1547.8,926.1a11,11 0 1,0 22,0a11,11 0 1,0 -22,0zM1550.8,925.6a11,11 0 1,0 22,0a11,11 0 1,0 -22,0zM1553.8,925.2a11,11 0 1,0 22,0a11,11 0 1,0 -22,0zM1556.7,924.7a11,11 0 1,0 22,0a11,11 0 1,0 -22,0zM1559.7,924.3a11,11 0 1,0 22,0a11,11 0 1,0 -22,0zM1562.7,923.8a11,11 0 1,0 22,0a11,11 0 1,0 -22,0zM1565.6,923.4a11,11 0 1,0 22,0a11,11 0 1,0 -22,0zM1568.6,923a11,11 0 1,0 22,0a11,11 0 1,0 -22,0zM1571.6,922.6a11,11 0 1,0 22,0a11,11 0 1,0 -22,0zM1574.5,922.2a11,11 0 1,0 22,0a11,11 0 1,0 -22,0zM1577.5,921.8a11,11 0 1,0 22,0a11,11 0 1,0 -22,0zM1580.5,921.4a11,11 0 1,0 22,0a11,11 0 1,0 -22,0zM1583.5,921.1a11,11 0 1,0 22,0a11,11 0 1,0 -22,0zM1586.5,920.8a11,11 0 1,0 22,0a11,11 0 1,0 -22,0zM1589.4,920.4a11,11 0 1,0 22,0a11,11 0 1,0 -22,0zM1592.4,920.1a11,11 0 1,0 22,0a11,11 0 1,0 -22,0zM1595.4,919.8a11,11 0 1,0 22,0a11,11 0 1,0 -22,0zM1598.4,919.5a11,11 0 1,0 22,0a11,11 0 1,0 -22,0zM1601.4,919.2a11,11 0 1,0 22,0a11,11 0 1,0 -22,0zM1604.4,919a11,11 0 1,0 22,0a11,11 0 1,0 -22,0zM1607.4,918.7a11,11 0 1,0 22,0a11,11 0 1,0 -22,0zM1610.3,918.4a11,11 0 1,0 22,0a11,11 0 1,0 -22,0zM1613.3,918.2a11,11 0 1,0 22,0a11,11 0 1,0 -22,0zM1616.3,917.9a11,11 0 1,0 22,0a11,11 0 1,0 -22,0zM1619.3,917.7a11,11 0 1,0 22,0a11,11 0 1,0 -22,0zM1622.3,917.5a11,11 0 1,0 22,0a11,11 0 1,0 -22,0zM1625.3,917.3a11,11 0 1,0 22,0a11,11 0 1,0 -22,0zM1628.3,917a11,11 0 1,0 22,0a11,11 0 1,0 -22,0zM1631.3,916.8a11,11 0 1,0 22,0a11,11 0 1,0 -22,0zM1634.3,916.6a11,11 0 1,0 22,0a11,11 0 1,0 -22,0zM1637.3,916.4a11,11 0 1,0 22,0a11,11 0 1,0 -22,0zM1640.3,916.1a11,11 0 1,0 22,0a11,11 0 1,0 -22,0zM1643.2,915.9a11,11 0 1,0 22,0a11,11 0 1,0 -22,0zM1646.2,915.7a11,11 0 1,0 22,0a11,11 0 1,0 -22,0zM1649.2,915.5a11,11 0 1,0 22,0a11,11 0 1,0 -22,0zM1652.2,915.2a11,11 0 1,0 22,0a11,11 0 1,0 -22,0zM1655.2,915a11,11 0 1,0 22,0a11,11 0 1,0 -22,0zM1658.2,914.8a11,11 0 1,0 22,0a11,11 0 1,0 -22,0zM1661.2,914.6a11,11 0 1,0 22,0a11,11 0 1,0 -22,0zM1664.2,914.4a11,11 0 1,0 22,0a11,11 0 1,0 -22,0zM1667.2,914.2a11,11 0 1,0 22,0a11,11 0 1,0 -22,0zM1670.2,914a11,11 0 1,0 22,0a11,11 0 1,0 -22,0zM1673.2,913.8a11,11 0 1,0 22,0a11,11 0 1,0 -22,0zM1676.2,913.6a11,11 0 1,0 22,0a11,11 0 1,0 -22,0zM1679.2,913.3a11,11 0 1,0 22,0a11,11 0 1,0 -22,0zM1682.1,913.1a11,11 0 1,0 22,0a11,11 0 1,0 -22,0zM1685.1,912.9a11,11 0 1,0 22,0a11,11 0 1,0 -22,0zM1688.1,912.7a11,11 0 1,0 22,0a11,11 0 1,0 -22,0zM1691.1,912.5a11,11 0 1,0 22,0a11,11 0 1,0 -22,0zM1694.1,912.3a11,11 0 1,0 22,0a11,11 0 1,0 -22,0zM1697.1,912a11,11 0 1,0 22,0a11,11 0 1,0 -22,0zM1700.1,911.8a11,11 0 1,0 22,0a11,11 0 1,0 -22,0zM1703.1,911.6a11,11 0 1,0 22,0a11,11 0 1,0 -22,0zM1706.1,911.3a11,11 0 1,0 22,0a11,11 0 1,0 -22,0zM1709.1,911.1a11,11 0 1,0 22,0a11,11 0 1,0 -22,0zM1712.1,910.9a11,11 0 1,0 22,0a11,11 0 1,0 -22,0zM1715.1,910.6a11,11 0 1,0 22,0a11,11 0 1,0 -22,0zM1718,910.4a11,11 0 1,0 22,0a11,11 0 1,0 -22,0zM1721,910.1a11,11 0 1,0 22,0a11,11 0 1,0 -22,0zM1724,909.9a11,11 0 1,0 22,0a11,11 0 1,0 -22,0zM1727,909.7a11,11 0 1,0 22,0a11,11 0 1,0 -22,0zM1730,909.4a11,11 0 1,0 22,0a11,11 0 1,0 -22,0zM1733,909.2a11,11 0 1,0 22,0a11,11 0 1,0 -22,0zM1736,909a11,11 0 1,0 22,0a11,11 0 1,0 -22,0zM1739,908.8a11,11 0 1,0 22,0a11,11 0 1,0 -22,0zM1742,908.6a11,11 0 1,0 22,0a11,11 0 1,0 -22,0zM1745,908.3a11,11 0 1,0 22,0a11,11 0 1,0 -22,0zM1748,908.1a11,11 0 1,0 22,0a11,11 0 1,0 -22,0zM1751,907.9a11,11 0 1,0 22,0a11,11 0 1,0 -22,0zM1753.9,907.7a11,11 0 1,0 22,0a11,11 0 1,0 -22,0zM1756.9,907.5a11,11 0 1,0 22,0a11,11 0 1,0 -22,0zM1759.9,907.3a11,11 0 1,0 22,0a11,11 0 1,0 -22,0zM1762.9,907.1a11,11 0 1,0 22,0a11,11 0 1,0 -22,0zM1765.9,906.9a11,11 0 1,0 22,0a11,11 0 1,0 -22,0zM1768.9,906.7a11,11 0 1,0 22,0a11,11 0 1,0 -22,0zM1771.9,906.4a11,11 0 1,0 22,0a11,11 0 1,0 -22,0zM1774.9,906.2a11,11 0 1,0 22,0a11,11 0 1,0 -22,0zM1777.9,906a11,11 0 1,0 22,0a11,11 0 1,0 -22,0zM1780.9,905.8a11,11 0 1,0 22,0a11,11 0 1,0 -22,0zM1783.9,905.5a11,11 0 1,0 22,0a11,11 0 1,0 -22,0zM1786.9,905.3a11,11 0 1,0 22,0a11,11 0 1,0 -22,0zM1789.8,905a11,11 0 1,0 22,0a11,11 0 1,0 -22,0zM1792.8,904.8a11,11 0 1,0 22,0a11,11 0 1,0 -22,0zM1795.8,904.5a11,11 0 1,0 22,0a11,11 0 1,0 -22,0zM1798.8,904.3a11,11 0 1,0 22,0a11,11 0 1,0 -22,0zM1801.8,904a11,11 0 1,0 22,0a11,11 0 1,0 -22,0zM1804.8,903.7a11,11 0 1,0 22,0a11,11 0 1,0 -22,0zM1807.8,903.4a11,11 0 1,0 22,0a11,11 0 1,0 -22,0zM1810.8,903.2a11,11 0 1,0 22,0a11,11 0 1,0 -22,0zM1813.7,902.9a11,11 0 1,0 22,0a11,11 0 1,0 -22,0zM1816.7,902.6a11,11 0 1,0 22,0a11,11 0 1,0 -22,0zM1819.7,902.3a11,11 0 1,0 22,0a11,11 0 1,0 -22,0zM1822.7,902.1a11,11 0 1,0 22,0a11,11 0 1,0 -22,0zM1825.7,901.8a11,11 0 1,0 22,0a11,11 0 1,0 -22,0zM1828.7,901.5a11,11 0 1,0 22,0a11,11 0 1,0 -22,0zM1831.7,901.2a11,11 0 1,0 22,0a11,11 0 1,0 -22,0zM1834.7,900.9a11,11 0 1,0 22,0a11,11 0 1,0 -22,0zM1837.6,900.7a11,11 0 1,0 22,0a11,11 0 1,0 -22,0zM1840.6,900.5a11,11 0 1,0 22,0a11,11 0 1,0 -22,0zM1843.6,900.3a11,11 0 1,0 22,0a11,11 0 1,0 -22,0zM1846.6,900.2a11,11 0 1,0 22,0a11,11 0 1,0 -22,0zM1849.6,900.1a11,11 0 1,0 22,0a11,11 0 1,0 -22,0zM1852.6,900a11,11 0 1,0 22,0a11,11 0 1,0 -22,0zM1855.6,900a11,11 0 1,0 22,0a11,11 0 1,0 -22,0zM1858.6,900a11,11 0 1,0 22,0a11,11 0 1,0 -22,0zM1861.6,900.5a11,11 0 1,0 22,0a11,11 0 1,0 -22,0zM1864.4,901.5a11,11 0 1,0 22,0a11,11 0 1,0 -22,0zM1866.2,903.7a11,11 0 1,0 22,0a11,11 0 1,0 -22,0zM1865.6,906.6a11,11 0 1,0 22,0a11,11 0 1,0 -22,0zM1864.1,909.2a11,11 0 1,0 22,0a11,11 0 1,0 -22,0zM1862.2,911.5a11,11 0 1,0 22,0a11,11 0 1,0 -22,0zM1860,913.5a11,11 0 1,0 22,0a11,11 0 1,0 -22,0zM1857.6,915.3a11,11 0 1,0 22,0a11,11 0 1,0 -22,0zM1855.1,917a11,11 0 1,0 22,0a11,11 0 1,0 -22,0zM1852.6,918.7a11,11 0 1,0 22,0a11,11 0 1,0 -22,0zM1850.1,920.3a11,11 0 1,0 22,0a11,11 0 1,0 -22,0zM1847.5,921.8a11,11 0 1,0 22,0a11,11 0 1,0 -22,0zM1844.9,923.4a11,11 0 1,0 22,0a11,11 0 1,0 -22,0zM1842.3,924.8a11,11 0 1,0 22,0a11,11 0 1,0 -22,0zM1839.7,926.3a11,11 0 1,0 22,0a11,11 0 1,0 -22,0zM1837,927.6a11,11 0 1,0 22,0a11,11 0 1,0 -22,0zM1834.3,929a11,11 0 1,0 22,0a11,11 0 1,0 -22,0zM1831.6,930.2a11,11 0 1,0 22,0a11,11 0 1,0 -22,0zM1828.8,931.4a11,11 0 1,0 22,0a11,11 0 1,0 -22,0zM1826,932.5a11,11 0 1,0 22,0a11,11 0 1,0 -22,0zM1823.3,933.7a11,11 0 1,0 22,0a11,11 0 1,0 -22,0zM1820.4,934.7a11,11 0 1,0 22,0a11,11 0 1,0 -22,0zM1817.6,935.8a11,11 0 1,0 22,0a11,11 0 1,0 -22,0zM1814.8,936.9a11,11 0 1,0 22,0a11,11 0 1,0 -22,0zM1812.1,938a11,11 0 1,0 22,0a11,11 0 1,0 -22,0zM1809.3,939.1a11,11 0 1,0 22,0a11,11 0 1,0 -22,0zM1806.5,940.2a11,11 0 1,0 22,0a11,11 0 1,0 -22,0zM1803.7,941.4a11,11 0 1,0 22,0a11,11 0 1,0 -22,0zM1801,942.6a11,11 0 1,0 22,0a11,11 0 1,0 -22,0zM1798.3,943.8a11,11 0 1,0 22,0a11,11 0 1,0 -22,0zM1795.5,945a11,11 0 1,0 22,0a11,11 0 1,0 -22,0zM1792.7,946.1a11,11 0 1,0 22,0a11,11 0 1,0 -22,0zM1789.8,947a11,11 0 1,0 22,0a11,11 0 1,0 -22,0zM1787,947.9a11,11 0 1,0 22,0a11,11 0 1,0 -22,0zM1784,948.6a11,11 0 1,0 22,0a11,11 0 1,0 -22,0zM1781.1,949.2a11,11 0 1,0 22,0a11,11 0 1,0 -22,0zM1778.1,949.6a11,11 0 1,0 22,0a11,11 0 1,0 -22,0zM1775.2,950.2a11,11 0 1,0 22,0a11,11 0 1,0 -22,0zM1772.3,950.8a11,11 0 1,0 22,0a11,11 0 1,0 -22,0zM1769.4,951.6a11,11 0 1,0 22,0a11,11 0 1,0 -22,0zM1766.5,952.5a11,11 0 1,0 22,0a11,11 0 1,0 -22,0zM1763.7,953.5a11,11 0 1,0 22,0a11,11 0 1,0 -22,0zM1760.9,954.6a11,11 0 1,0 22,0a11,11 0 1,0 -22,0zM1758.2,955.8a11,11 0 1,0 22,0a11,11 0 1,0 -22,0zM1755.4,956.9a11,11 0 1,0 22,0a11,11 0 1,0 -22,0zM1752.6,958a11,11 0 1,0 22,0a11,11 0 1,0 -22,0zM1749.7,958.9a11,11 0 1,0 22,0a11,11 0 1,0 -22,0zM1746.8,959.8a11,11 0 1,0 22,0a11,11 0 1,0 -22,0zM1743.9,960.6a11,11 0 1,0 22,0a11,11 0 1,0 -22,0zM1741,961.2a11,11 0 1,0 22,0a11,11 0 1,0 -22,0zM1738.1,961.9a11,11 0 1,0 22,0a11,11 0 1,0 -22,0zM1735.2,962.6a11,11 0 1,0 22,0a11,11 0 1,0 -22,0zM1732.3,963.3a11,11 0 1,0 22,0a11,11 0 1,0 -22,0zM1729.4,964a11,11 0 1,0 22,0a11,11 0 1,0 -22,0zM1726.5,964.8a11,11 0 1,0 22,0a11,11 0 1,0 -22,0zM1723.6,965.6a11,11 0 1,0 22,0a11,11 0 1,0 -22,0zM1720.7,966.4a11,11 0 1,0 22,0a11,11 0 1,0 -22,0zM1717.8,967.1a11,11 0 1,0 22,0a11,11 0 1,0 -22,0zM1714.9,967.9a11,11 0 1,0 22,0a11,11 0 1,0 -22,0zM1711.9,968.6a11,11 0 1,0 22,0a11,11 0 1,0 -22,0zM1709,969.3a11,11 0 1,0 22,0a11,11 0 1,0 -22,0zM1706.1,970a11,11 0 1,0 22,0a11,11 0 1,0 -22,0zM1703.2,970.6a11,11 0 1,0 22,0a11,11 0 1,0 -22,0zM1700.2,971.3a11,11 0 1,0 22,0a11,11 0 1,0 -22,0zM1697.3,971.9a11,11 0 1,0 22,0a11,11 0 1,0 -22,0zM1694.4,972.6a11,11 0 1,0 22,0a11,11 0 1,0 -22,0zM1691.5,973.2a11,11 0 1,0 22,0a11,11 0 1,0 -22,0zM1688.5,973.9a11,11 0 1,0 22,0a11,11 0 1,0 -22,0zM1685.6,974.5a11,11 0 1,0 22,0a11,11 0 1,0 -22,0zM1682.7,975.2a11,11 0 1,0 22,0a11,11 0 1,0 -22,0zM1679.8,976a11,11 0 1,0 22,0a11,11 0 1,0 -22,0zM1676.9,976.7a11,11 0 1,0 22,0a11,11 0 1,0 -22,0zM1674,977.6a11,11 0 1,0 22,0a11,11 0 1,0 -22,0zM1671.2,978.7a11,11 0 1,0 22,0a11,11 0 1,0 -22,0zM1668.7,980.3a11,11 0 1,0 22,0a11,11 0 1,0 -22,0zM1666.6,982.4a11,11 0 1,0 22,0a11,11 0 1,0 -22,0zM1664.3,984.3a11,11 0 1,0 22,0a11,11 0 1,0 -22,0zM1661.5,985.4a11,11 0 1,0 22,0a11,11 0 1,0 -22,0zM1658.6,986.1a11,11 0 1,0 22,0a11,11 0 1,0 -22,0zM1655.7,986.6a11,11 0 1,0 22,0a11,11 0 1,0 -22,0zM1652.7,986.9a11,11 0 1,0 22,0a11,11 0 1,0 -22,0zM1649.7,987.1a11,11 0 1,0 22,0a11,11 0 1,0 -22,0zM1646.7,987.4a11,11 0 1,0 22,0a11,11 0 1,0 -22,0zM1643.7,987.7a11,11 0 1,0 22,0a11,11 0 1,0 -22,0zM1640.7,988a11,11 0 1,0 22,0a11,11 0 1,0 -22,0zM1637.8,988.4a11,11 0 1,0 22,0a11,11 0 1,0 -22,0zM1634.8,988.8a11,11 0 1,0 22,0a11,11 0 1,0 -22,0zM1631.8,989.2a11,11 0 1,0 22,0a11,11 0 1,0 -22,0zM1628.9,989.7a11,11 0 1,0 22,0a11,11 0 1,0 -22,0zM1625.9,990.2a11,11 0 1,0 22,0a11,11 0 1,0 -22,0zM1623,990.8a11,11 0 1,0 22,0a11,11 0 1,0 -22,0zM1620,991.4a11,11 0 1,0 22,0a11,11 0 1,0 -22,0zM1617.1,992a11,11 0 1,0 22,0a11,11 0 1,0 -22,0zM1614.1,992.6a11,11 0 1,0 22,0a11,11 0 1,0 -22,0zM1611.2,993.3a11,11 0 1,0 22,0a11,11 0 1,0 -22,0zM1608.3,993.9a11,11 0 1,0 22,0a11,11 0 1,0 -22,0zM1605.4,994.6a11,11 0 1,0 22,0a11,11 0 1,0 -22,0zM1602.5,995.3a11,11 0 1,0 22,0a11,11 0 1,0 -22,0zM1599.5,996a11,11 0 1,0 22,0a11,11 0 1,0 -22,0zM1596.6,996.8a11,11 0 1,0 22,0a11,11 0 1,0 -22,0zM1593.7,997.5a11,11 0 1,0 22,0a11,11 0 1,0 -22,0zM1590.9,998.4a11,11 0 1,0 22,0a11,11 0 1,0 -22,0zM1588,999.3a11,11 0 1,0 22,0a11,11 0 1,0 -22,0zM1585.1,1000.1a11,11 0 1,0 22,0a11,11 0 1,0 -22,0zM1582.2,1000.7a11,11 0 1,0 22,0a11,11 0 1,0 -22,0zM1579.2,1001.3a11,11 0 1,0 22,0a11,11 0 1,0 -22,0zM1576.3,1001.7a11,11 0 1,0 22,0a11,11 0 1,0 -22,0zM1573.3,1002.2a11,11 0 1,0 22,0a11,11 0 1,0 -22,0zM1570.3,1002.7a11,11 0 1,0 22,0a11,11 0 1,0 -22,0zM1567.4,1003.1a11,11 0 1,0 22,0a11,11 0 1,0 -22,0zM1564.4,1003.5a11,11 0 1,0 22,0a11,11 0 1,0 -22,0zM1561.4,1003.9a11,11 0 1,0 22,0a11,11 0 1,0 -22,0zM1558.4,1004.3a11,11 0 1,0 22,0a11,11 0 1,0 -22,0zM1555.5,1004.7a11,11 0 1,0 22,0a11,11 0 1,0 -22,0zM1552.5,1005.1a11,11 0 1,0 22,0a11,11 0 1,0 -22,0zM1549.5,1005.4a11,11 0 1,0 22,0a11,11 0 1,0 -22,0zM1546.5,1005.8a11,11 0 1,0 22,0a11,11 0 1,0 -22,0zM1543.6,1006.2a11,11 0 1,0 22,0a11,11 0 1,0 -22,0zM1540.6,1006.6a11,11 0 1,0 22,0a11,11 0 1,0 -22,0zM1537.6,1007a11,11 0 1,0 22,0a11,11 0 1,0 -22,0zM1534.6,1007.4a11,11 0 1,0 22,0a11,11 0 1,0 -22,0zM1531.7,1007.8a11,11 0 1,0 22,0a11,11 0 1,0 -22,0zM1528.7,1008.2a11,11 0 1,0 22,0a11,11 0 1,0 -22,0zM1525.7,1008.6a11,11 0 1,0 22,0a11,11 0 1,0 -22,0zM1522.8,1009a11,11 0 1,0 22,0a11,11 0 1,0 -22,0zM1519.8,1009.4a11,11 0 1,0 22,0a11,11 0 1,0 -22,0zM1516.8,1009.8a11,11 0 1,0 22,0a11,11 0 1,0 -22,0zM1513.8,1010.2a11,11 0 1,0 22,0a11,11 0 1,0 -22,0zM1510.9,1010.7a11,11 0 1,0 22,0a11,11 0 1,0 -22,0zM1507.9,1011.1a11,11 0 1,0 22,0a11,11 0 1,0 -22,0zM1504.9,1011.5a11,11 0 1,0 22,0a11,11 0 1,0 -22,0zM1502,1011.9a11,11 0 1,0 22,0a11,11 0 1,0 -22,0zM1499,1012.4a11,11 0 1,0 22,0a11,11 0 1,0 -22,0zM1496,1012.8a11,11 0 1,0 22,0a11,11 0 1,0 -22,0zM1493.1,1013.2a11,11 0 1,0 22,0a11,11 0 1,0 -22,0zM1490.1,1013.6a11,11 0 1,0 22,0a11,11 0 1,0 -22,0zM1487.1,1014.1a11,11 0 1,0 22,0a11,11 0 1,0 -22,0zM1484.1,1014.5a11,11 0 1,0 22,0a11,11 0 1,0 -22,0zM1481.2,1014.9a11,11 0 1,0 22,0a11,11 0 1,0 -22,0zM1478.2,1015.3a11,11 0 1,0 22,0a11,11 0 1,0 -22,0zM1475.2,1015.8a11,11 0 1,0 22,0a11,11 0 1,0 -22,0zM1472.3,1016.2a11,11 0 1,0 22,0a11,11 0 1,0 -22,0zM1469.3,1016.6a11,11 0 1,0 22,0a11,11 0 1,0 -22,0zM1466.3,1017a11,11 0 1,0 22,0a11,11 0 1,0 -22,0zM1463.3,1017.4a11,11 0 1,0 22,0a11,11 0 1,0 -22,0zM1460.4,1017.8a11,11 0 1,0 22,0a11,11 0 1,0 -22,0zM1457.4,1018.2a11,11 0 1,0 22,0a11,11 0 1,0 -22,0zM1454.4,1018.6a11,11 0 1,0 22,0a11,11 0 1,0 -22,0zM1451.5,1019a11,11 0 1,0 22,0a11,11 0 1,0 -22,0zM1448.5,1019.4a11,11 0 1,0 22,0a11,11 0 1,0 -22,0zM1445.5,1019.8a11,11 0 1,0 22,0a11,11 0 1,0 -22,0zM1442.5,1020.2a11,11 0 1,0 22,0a11,11 0 1,0 -22,0zM1439.6,1020.6a11,11 0 1,0 22,0a11,11 0 1,0 -22,0zM1436.6,1021a11,11 0 1,0 22,0a11,11 0 1,0 -22,0zM1433.6,1021.4a11,11 0 1,0 22,0a11,11 0 1,0 -22,0zM1430.6,1021.8a11,11 0 1,0 22,0a11,11 0 1,0 -22,0zM1427.7,1022.1a11,11 0 1,0 22,0a11,11 0 1,0 -22,0zM1424.7,1022.5a11,11 0 1,0 22,0a11,11 0 1,0 -22,0zM1421.7,1022.9a11,11 0 1,0 22,0a11,11 0 1,0 -22,0zM1418.7,1023.3a11,11 0 1,0 22,0a11,11 0 1,0 -22,0zM1415.8,1023.7a11,11 0 1,0 22,0a11,11 0 1,0 -22,0zM1412.8,1024a11,11 0 1,0 22,0a11,11 0 1,0 -22,0zM1409.8,1024.4a11,11 0 1,0 22,0a11,11 0 1,0 -22,0zM1406.8,1024.8a11,11 0 1,0 22,0a11,11 0 1,0 -22,0zM1403.8,1025.1a11,11 0 1,0 22,0a11,11 0 1,0 -22,0zM1400.9,1025.4a11,11 0 1,0 22,0a11,11 0 1,0 -22,0zM1397.9,1025.7a11,11 0 1,0 22,0a11,11 0 1,0 -22,0zM1394.9,1025.9a11,11 0 1,0 22,0a11,11 0 1,0 -22,0zM1391.9,1026.2a11,11 0 1,0 22,0a11,11 0 1,0 -22,0zM1388.9,1026.4a11,11 0 1,0 22,0a11,11 0 1,0 -22,0zM1385.9,1026.5a11,11 0 1,0 22,0a11,11 0 1,0 -22,0zM1382.9,1026.7a11,11 0 1,0 22,0a11,11 0 1,0 -22,0zM1379.9,1026.9a11,11 0 1,0 22,0a11,11 0 1,0 -22,0zM1376.9,1027a11,11 0 1,0 22,0a11,11 0 1,0 -22,0zM1373.9,1027.1a11,11 0 1,0 22,0a11,11 0 1,0 -22,0zM1370.9,1027.2a11,11 0 1,0 22,0a11,11 0 1,0 -22,0zM1367.9,1027.3a11,11 0 1,0 22,0a11,11 0 1,0 -22,0zM1364.9,1027.4a11,11 0 1,0 22,0a11,11 0 1,0 -22,0zM1361.9,1027.5a11,11 0 1,0 22,0a11,11 0 1,0 -22,0zM1358.9,1027.5a11,11 0 1,0 22,0a11,11 0 1,0 -22,0zM1355.9,1027.6a11,11 0 1,0 22,0a11,11 0 1,0 -22,0zM1352.9,1027.6a11,11 0 1,0 22,0a11,11 0 1,0 -22,0zM1349.9,1027.6a11,11 0 1,0 22,0a11,11 0 1,0 -22,0zM1346.9,1027.7a11,11 0 1,0 22,0a11,11 0 1,0 -22,0zM1343.9,1027.7a11,11 0 1,0 22,0a11,11 0 1,0 -22,0zM1340.9,1027.7a11,11 0 1,0 22,0a11,11 0 1,0 -22,0zM1337.9,1027.8a11,11 0 1,0 22,0a11,11 0 1,0 -22,0zM1334.9,1027.8a11,11 0 1,0 22,0a11,11 0 1,0 -22,0zM1331.9,1027.8a11,11 0 1,0 22,0a11,11 0 1,0 -22,0zM1328.9,1027.8a11,11 0 1,0 22,0a11,11 0 1,0 -22,0zM1325.9,1027.8a11,11 0 1,0 22,0a11,11 0 1,0 -22,0zM1322.9,1027.8a11,11 0 1,0 22,0a11,11 0 1,0 -22,0zM1319.9,1027.8a11,11 0 1,0 22,0a11,11 0 1,0 -22,0zM1316.9,1027.8a11,11 0 1,0 22,0a11,11 0 1,0 -22,0zM1313.9,1027.8a11,11 0 1,0 22,0a11,11 0 1,0 -22,0zM1310.9,1027.8a11,11 0 1,0 22,0a11,11 0 1,0 -22,0zM1307.9,1027.7a11,11 0 1,0 22,0a11,11 0 1,0 -22,0zM1304.9,1027.7a11,11 0 1,0 22,0a11,11 0 1,0 -22,0zM1301.9,1027.7a11,11 0 1,0 22,0a11,11 0 1,0 -22,0zM1298.9,1027.7a11,11 0 1,0 22,0a11,11 0 1,0 -22,0zM1295.9,1027.6a11,11 0 1,0 22,0a11,11 0 1,0 -22,0zM1292.9,1027.6a11,11 0 1,0 22,0a11,11 0 1,0 -22,0zM1289.9,1027.6a11,11 0 1,0 22,0a11,11 0 1,0 -22,0zM1286.9,1027.6a11,11 0 1,0 22,0a11,11 0 1,0 -22,0zM1283.9,1027.7a11,11 0 1,0 22,0a11,11 0 1,0 -22,0zM1280.9,1027.8a11,11 0 1,0 22,0a11,11 0 1,0 -22,0zM1277.9,1027.8a11,11 0 1,0 22,0a11,11 0 1,0 -22,0zM1274.9,1027.9a11,11 0 1,0 22,0a11,11 0 1,0 -22,0zM1273,1028a11,11 0 1,0 22,0a11,11 0 1,0 -22,0zM1289,1030a11,11 0 1,0 22,0a11,11 0 1,0 -22,0zM1292,1030.4a11,11 0 1,0 22,0a11,11 0 1,0 -22,0zM1294.9,1030.8a11,11 0 1,0 22,0a11,11 0 1,0 -22,0zM1297.9,1031.2a11,11 0 1,0 22,0a11,11 0 1,0 -22,0zM1300.9,1031.6a11,11 0 1,0 22,0a11,11 0 1,0 -22,0zM1303.9,1032a11,11 0 1,0 22,0a11,11 0 1,0 -22,0zM1306.8,1032.4a11,11 0 1,0 22,0a11,11 0 1,0 -22,0zM1309.8,1032.8a11,11 0 1,0 22,0a11,11 0 1,0 -22,0zM1312.8,1033.2a11,11 0 1,0 22,0a11,11 0 1,0 -22,0zM1315.8,1033.6a11,11 0 1,0 22,0a11,11 0 1,0 -22,0zM1318.7,1034a11,11 0 1,0 22,0a11,11 0 1,0 -22,0zM1321.7,1034.4a11,11 0 1,0 22,0a11,11 0 1,0 -22,0zM1324.7,1034.8a11,11 0 1,0 22,0a11,11 0 1,0 -22,0zM1327.7,1035.2a11,11 0 1,0 22,0a11,11 0 1,0 -22,0zM1330.6,1035.6a11,11 0 1,0 22,0a11,11 0 1,0 -22,0zM1333.6,1036a11,11 0 1,0 22,0a11,11 0 1,0 -22,0zM1336.6,1036.4a11,11 0 1,0 22,0a11,11 0 1,0 -22,0zM1339.5,1036.8a11,11 0 1,0 22,0a11,11 0 1,0 -22,0zM1342.5,1037.2a11,11 0 1,0 22,0a11,11 0 1,0 -22,0zM1345.5,1037.6a11,11 0 1,0 22,0a11,11 0 1,0 -22,0zM1348.5,1038a11,11 0 1,0 22,0a11,11 0 1,0 -22,0zM1351.4,1038.4a11,11 0 1,0 22,0a11,11 0 1,0 -22,0zM1354.4,1038.9a11,11 0 1,0 22,0a11,11 0 1,0 -22,0zM1357.4,1039.3a11,11 0 1,0 22,0a11,11 0 1,0 -22,0zM1360.3,1039.7a11,11 0 1,0 22,0a11,11 0 1,0 -22,0zM1363.3,1040.2a11,11 0 1,0 22,0a11,11 0 1,0 -22,0zM1366.3,1040.6a11,11 0 1,0 22,0a11,11 0 1,0 -22,0zM1369.2,1041a11,11 0 1,0 22,0a11,11 0 1,0 -22,0zM1372.2,1041.5a11,11 0 1,0 22,0a11,11 0 1,0 -22,0zM1375.2,1041.9a11,11 0 1,0 22,0a11,11 0 1,0 -22,0zM1378.1,1042.4a11,11 0 1,0 22,0a11,11 0 1,0 -22,0zM1381.1,1042.8a11,11 0 1,0 22,0a11,11 0 1,0 -22,0zM1384.1,1043.3a11,11 0 1,0 22,0a11,11 0 1,0 -22,0zM1387,1043.7a11,11 0 1,0 22,0a11,11 0 1,0 -22,0zM1390,1044.2a11,11 0 1,0 22,0a11,11 0 1,0 -22,0zM1393,1044.6a11,11 0 1,0 22,0a11,11 0 1,0 -22,0zM1395.9,1045a11,11 0 1,0 22,0a11,11 0 1,0 -22,0zM1398.9,1045.5a11,11 0 1,0 22,0a11,11 0 1,0 -22,0zM1401.9,1045.9a11,11 0 1,0 22,0a11,11 0 1,0 -22,0zM1404.8,1046.4a11,11 0 1,0 22,0a11,11 0 1,0 -22,0zM1407.8,1046.8a11,11 0 1,0 22,0a11,11 0 1,0 -22,0zM1410.8,1047.3a11,11 0 1,0 22,0a11,11 0 1,0 -22,0zM1413.7,1047.7a11,11 0 1,0 22,0a11,11 0 1,0 -22,0zM1416.7,1048.2a11,11 0 1,0 22,0a11,11 0 1,0 -22,0zM1419.7,1048.8a11,11 0 1,0 22,0a11,11 0 1,0 -22,0zM1422.6,1049.3a11,11 0 1,0 22,0a11,11 0 1,0 -22,0zM1425.5,1049.9a11,11 0 1,0 22,0a11,11 0 1,0 -22,0zM1428.5,1050.5a11,11 0 1,0 22,0a11,11 0 1,0 -22,0zM1431.4,1051.2a11,11 0 1,0 22,0a11,11 0 1,0 -22,0zM1434.3,1051.9a11,11 0 1,0 22,0a11,11 0 1,0 -22,0zM1437.2,1052.6a11,11 0 1,0 22,0a11,11 0 1,0 -22,0zM1440.1,1053.3a11,11 0 1,0 22,0a11,11 0 1,0 -22,0zM1443,1054.1a11,11 0 1,0 22,0a11,11 0 1,0 -22,0zM1445.9,1055a11,11 0 1,0 22,0a11,11 0 1,0 -22,0zM1448.8,1055.8a11,11 0 1,0 22,0a11,11 0 1,0 -22,0zM1451.6,1056.7a11,11 0 1,0 22,0a11,11 0 1,0 -22,0zM1454.5,1057.7a11,11 0 1,0 22,0a11,11 0 1,0 -22,0zM1457.3,1058.7a11,11 0 1,0 22,0a11,11 0 1,0 -22,0zM1460.1,1059.8a11,11 0 1,0 22,0a11,11 0 1,0 -22,0zM1462.9,1060.9a11,11 0 1,0 22,0a11,11 0 1,0 -22,0zM1465.7,1062a11,11 0 1,0 22,0a11,11 0 1,0 -22,0zM1468.5,1063.1a11,11 0 1,0 22,0a11,11 0 1,0 -22,0zM1471.2,1064.4a11,11 0 1,0 22,0a11,11 0 1,0 -22,0zM1473.9,1065.6a11,11 0 1,0 22,0a11,11 0 1,0 -22,0zM1476.7,1066.8a11,11 0 1,0 22,0a11,11 0 1,0 -22,0zM1479.4,1068.2a11,11 0 1,0 22,0a11,11 0 1,0 -22,0zM1482,1069.5a11,11 0 1,0 22,0a11,11 0 1,0 -22,0zM1484.7,1070.9a11,11 0 1,0 22,0a11,11 0 1,0 -22,0zM1487.4,1072.2a11,11 0 1,0 22,0a11,11 0 1,0 -22,0zM1490.1,1073.5a11,11 0 1,0 22,0a11,11 0 1,0 -22,0zM1492.8,1074.8a11,11 0 1,0 22,0a11,11 0 1,0 -22,0zM1495.5,1076.2a11,11 0 1,0 22,0a11,11 0 1,0 -22,0zM1498.2,1077.5a11,11 0 1,0 22,0a11,11 0 1,0 -22,0zM1500.9,1078.8a11,11 0 1,0 22,0a11,11 0 1,0 -22,0zM1503.6,1080.1a11,11 0 1,0 22,0a11,11 0 1,0 -22,0zM1506.3,1081.4a11,11 0 1,0 22,0a11,11 0 1,0 -22,0zM1509,1082.7a11,11 0 1,0 22,0a11,11 0 1,0 -22,0zM1511.7,1083.9a11,11 0 1,0 22,0a11,11 0 1,0 -22,0zM1514.4,1085.2a11,11 0 1,0 22,0a11,11 0 1,0 -22,0zM1517.2,1086.5a11,11 0 1,0 22,0a11,11 0 1,0 -22,0zM1519.8,1087.9a11,11 0 1,0 22,0a11,11 0 1,0 -22,0zM1522.5,1089.3a11,11 0 1,0 22,0a11,11 0 1,0 -22,0zM1525.1,1090.7a11,11 0 1,0 22,0a11,11 0 1,0 -22,0zM1527.7,1092.3a11,11 0 1,0 22,0a11,11 0 1,0 -22,0zM1530.2,1093.8a11,11 0 1,0 22,0a11,11 0 1,0 -22,0zM1532.8,1095.4a11,11 0 1,0 22,0a11,11 0 1,0 -22,0zM1535.3,1097.1a11,11 0 1,0 22,0a11,11 0 1,0 -22,0zM1537.7,1098.8a11,11 0 1,0 22,0a11,11 0 1,0 -22,0zM1540.2,1100.5a11,11 0 1,0 22,0a11,11 0 1,0 -22,0zM1542.6,1102.2a11,11 0 1,0 22,0a11,11 0 1,0 -22,0zM1545,1104a11,11 0 1,0 22,0a11,11 0 1,0 -22,0zM1547.4,1105.8a11,11 0 1,0 22,0a11,11 0 1,0 -22,0zM1549.8,1107.7a11,11 0 1,0 22,0a11,11 0 1,0 -22,0zM1552.1,1109.7a11,11 0 1,0 22,0a11,11 0 1,0 -22,0zM1554.4,1111.6a11,11 0 1,0 22,0a11,11 0 1,0 -22,0zM1556.6,1113.6a11,11 0 1,0 22,0a11,11 0 1,0 -22,0zM1558.7,1115.7a11,11 0 1,0 22,0a11,11 0 1,0 -22,0zM1560.9,1117.8a11,11 0 1,0 22,0a11,11 0 1,0 -22,0zM1562.9,1120a11,11 0 1,0 22,0a11,11 0 1,0 -22,0zM1564.9,1122.2a11,11 0 1,0 22,0a11,11 0 1,0 -22,0zM1566.8,1124.5a11,11 0 1,0 22,0a11,11 0 1,0 -22,0zM1568.6,1126.9a11,11 0 1,0 22,0a11,11 0 1,0 -22,0zM1570.4,1129.3a11,11 0 1,0 22,0a11,11 0 1,0 -22,0zM1572.2,1131.7a11,11 0 1,0 22,0a11,11 0 1,0 -22,0zM1574,1134.1a11,11 0 1,0 22,0a11,11 0 1,0 -22,0zM1575.8,1136.6a11,11 0 1,0 22,0a11,11 0 1,0 -22,0zM1577.6,1139a11,11 0 1,0 22,0a11,11 0 1,0 -22,0zM1579.3,1141.4a11,11 0 1,0 22,0a11,11 0 1,0 -22,0zM1581.1,1143.8a11,11 0 1,0 22,0a11,11 0 1,0 -22,0zM1582.8,1146.3a11,11 0 1,0 22,0a11,11 0 1,0 -22,0zM1584.6,1148.7a11,11 0 1,0 22,0a11,11 0 1,0 -22,0zM1586.3,1151.2a11,11 0 1,0 22,0a11,11 0 1,0 -22,0zM1588.1,1153.6a11,11 0 1,0 22,0a11,11 0 1,0 -22,0zM1589.9,1155.9a11,11 0 1,0 22,0a11,11 0 1,0 -22,0zM1591.8,1158.3a11,11 0 1,0 22,0a11,11 0 1,0 -22,0zM1593.7,1160.6a11,11 0 1,0 22,0a11,11 0 1,0 -22,0zM1595.7,1162.9a11,11 0 1,0 22,0a11,11 0 1,0 -22,0zM1597.7,1165.1a11,11 0 1,0 22,0a11,11 0 1,0 -22,0zM1599.8,1167.3a11,11 0 1,0 22,0a11,11 0 1,0 -22,0zM1601.9,1169.4a11,11 0 1,0 22,0a11,11 0 1,0 -22,0zM1603.9,1171.6a11,11 0 1,0 22,0a11,11 0 1,0 -22,0zM1606,1173.8a11,11 0 1,0 22,0a11,11 0 1,0 -22,0zM1608,1176a11,11 0 1,0 22,0a11,11 0 1,0 -22,0zM1610,1178.2a11,11 0 1,0 22,0a11,11 0 1,0 -22,0zM1612,1180.5a11,11 0 1,0 22,0a11,11 0 1,0 -22,0zM1613.9,1182.8a11,11 0 1,0 22,0a11,11 0 1,0 -22,0zM1615.9,1185.1a11,11 0 1,0 22,0a11,11 0 1,0 -22,0zM1617.8,1187.4a11,11 0 1,0 22,0a11,11 0 1,0 -22,0zM1619.8,1189.6a11,11 0 1,0 22,0a11,11 0 1,0 -22,0zM1621.8,1191.8a11,11 0 1,0 22,0a11,11 0 1,0 -22,0zM1624,1193.9a11,11 0 1,0 22,0a11,11 0 1,0 -22,0zM1626.2,1195.9a11,11 0 1,0 22,0a11,11 0 1,0 -22,0zM1628.5,1197.8a11,11 0 1,0 22,0a11,11 0 1,0 -22,0zM1630.9,1199.7a11,11 0 1,0 22,0a11,11 0 1,0 -22,0zM1633.3,1201.4a11,11 0 1,0 22,0a11,11 0 1,0 -22,0zM1635.8,1203.1a11,11 0 1,0 22,0a11,11 0 1,0 -22,0zM1638.3,1204.8a11,11 0 1,0 22,0a11,11 0 1,0 -22,0zM1640.8,1206.5a11,11 0 1,0 22,0a11,11 0 1,0 -22,0zM1643,1208a11,11 0 1,0 22,0a11,11 0 1,0 -22,0zM1049,1031a11,11 0 1,0 22,0a11,11 0 1,0 -22,0zM1052,1031.1a11,11 0 1,0 22,0a11,11 0 1,0 -22,0zM1055,1031.1a11,11 0 1,0 22,0a11,11 0 1,0 -22,0zM1058,1031.2a11,11 0 1,0 22,0a11,11 0 1,0 -22,0zM1061,1031.3a11,11 0 1,0 22,0a11,11 0 1,0 -22,0zM1064,1031.4a11,11 0 1,0 22,0a11,11 0 1,0 -22,0zM1067,1031.4a11,11 0 1,0 22,0a11,11 0 1,0 -22,0zM1070,1031.5a11,11 0 1,0 22,0a11,11 0 1,0 -22,0zM1073,1031.6a11,11 0 1,0 22,0a11,11 0 1,0 -22,0zM1076,1031.7a11,11 0 1,0 22,0a11,11 0 1,0 -22,0zM1079,1031.7a11,11 0 1,0 22,0a11,11 0 1,0 -22,0zM1082,1031.8a11,11 0 1,0 22,0a11,11 0 1,0 -22,0zM1085,1031.9a11,11 0 1,0 22,0a11,11 0 1,0 -22,0zM1088,1031.9a11,11 0 1,0 22,0a11,11 0 1,0 -22,0zM1091,1032a11,11 0 1,0 22,0a11,11 0 1,0 -22,0zM1094,1032a11,11 0 1,0 22,0a11,11 0 1,0 -22,0zM1097,1032.1a11,11 0 1,0 22,0a11,11 0 1,0 -22,0zM1100,1032.1a11,11 0 1,0 22,0a11,11 0 1,0 -22,0zM1103,1032.2a11,11 0 1,0 22,0a11,11 0 1,0 -22,0zM1106,1032.2a11,11 0 1,0 22,0a11,11 0 1,0 -22,0zM1109,1032.3a11,11 0 1,0 22,0a11,11 0 1,0 -22,0zM1112,1032.3a11,11 0 1,0 22,0a11,11 0 1,0 -22,0zM1115,1032.4a11,11 0 1,0 22,0a11,11 0 1,0 -22,0zM1118,1032.4a11,11 0 1,0 22,0a11,11 0 1,0 -22,0zM1121,1032.5a11,11 0 1,0 22,0a11,11 0 1,0 -22,0zM1124,1032.5a11,11 0 1,0 22,0a11,11 0 1,0 -22,0zM1127,1032.6a11,11 0 1,0 22,0a11,11 0 1,0 -22,0zM1130,1032.6a11,11 0 1,0 22,0a11,11 0 1,0 -22,0zM1133,1032.7a11,11 0 1,0 22,0a11,11 0 1,0 -22,0zM1136,1032.8a11,11 0 1,0 22,0a11,11 0 1,0 -22,0zM1139,1032.8a11,11 0 1,0 22,0a11,11 0 1,0 -22,0zM1142,1032.9a11,11 0 1,0 22,0a11,11 0 1,0 -22,0zM1145,1033a11,11 0 1,0 22,0a11,11 0 1,0 -22,0zM1148,1033.1a11,11 0 1,0 22,0a11,11 0 1,0 -22,0zM1151,1033.3a11,11 0 1,0 22,0a11,11 0 1,0 -22,0zM1154,1033.4a11,11 0 1,0 22,0a11,11 0 1,0 -22,0zM1157,1033.6a11,11 0 1,0 22,0a11,11 0 1,0 -22,0zM1160,1033.8a11,11 0 1,0 22,0a11,11 0 1,0 -22,0zM1162.9,1034a11,11 0 1,0 22,0a11,11 0 1,0 -22,0zM1165.9,1034.3a11,11 0 1,0 22,0a11,11 0 1,0 -22,0zM1168.9,1034.5a11,11 0 1,0 22,0a11,11 0 1,0 -22,0zM1171.9,1034.9a11,11 0 1,0 22,0a11,11 0 1,0 -22,0zM1174.9,1035.2a11,11 0 1,0 22,0a11,11 0 1,0 -22,0zM1177.9,1035.6a11,11 0 1,0 22,0a11,11 0 1,0 -22,0zM1180.8,1036a11,11 0 1,0 22,0a11,11 0 1,0 -22,0zM1183.8,1036.4a11,11 0 1,0 22,0a11,11 0 1,0 -22,0zM1186.8,1036.8a11,11 0 1,0 22,0a11,11 0 1,0 -22,0zM1189.8,1037.2a11,11 0 1,0 22,0a11,11 0 1,0 -22,0zM1192.7,1037.6a11,11 0 1,0 22,0a11,11 0 1,0 -22,0zM1195.7,1038a11,11 0 1,0 22,0a11,11 0 1,0 -22,0zM1198.7,1038.5a11,11 0 1,0 22,0a11,11 0 1,0 -22,0zM1201.6,1038.9a11,11 0 1,0 22,0a11,11 0 1,0 -22,0zM1204.6,1039.3a11,11 0 1,0 22,0a11,11 0 1,0 -22,0zM1207.6,1039.7a11,11 0 1,0 22,0a11,11 0 1,0 -22,0zM1210.5,1040.2a11,11 0 1,0 22,0a11,11 0 1,0 -22,0zM1213.5,1040.6a11,11 0 1,0 22,0a11,11 0 1,0 -22,0zM1216.5,1041.1a11,11 0 1,0 22,0a11,11 0 1,0 -22,0zM1219.4,1041.6a11,11 0 1,0 22,0a11,11 0 1,0 -22,0zM1222.4,1042.1a11,11 0 1,0 22,0a11,11 0 1,0 -22,0zM1225.3,1042.6a11,11 0 1,0 22,0a11,11 0 1,0 -22,0zM1228.3,1043.2a11,11 0 1,0 22,0a11,11 0 1,0 -22,0zM1231.2,1043.8a11,11 0 1,0 22,0a11,11 0 1,0 -22,0zM1234.2,1044.5a11,11 0 1,0 22,0a11,11 0 1,0 -22,0zM1237.1,1045.1a11,11 0 1,0 22,0a11,11 0 1,0 -22,0zM1240,1045.8a11,11 0 1,0 22,0a11,11 0 1,0 -22,0zM1242.9,1046.5a11,11 0 1,0 22,0a11,11 0 1,0 -22,0zM1245.8,1047.3a11,11 0 1,0 22,0a11,11 0 1,0 -22,0zM1248.7,1048.1a11,11 0 1,0 22,0a11,11 0 1,0 -22,0zM1251.6,1048.9a11,11 0 1,0 22,0a11,11 0 1,0 -22,0zM1254.5,1049.8a11,11 0 1,0 22,0a11,11 0 1,0 -22,0zM1257.3,1050.6a11,11 0 1,0 22,0a11,11 0 1,0 -22,0zM1260.2,1051.5a11,11 0 1,0 22,0a11,11 0 1,0 -22,0zM1263.1,1052.4a11,11 0 1,0 22,0a11,11 0 1,0 -22,0zM1266,1053.2a11,11 0 1,0 22,0a11,11 0 1,0 -22,0zM1268.8,1054.1a11,11 0 1,0 22,0a11,11 0 1,0 -22,0zM1271.7,1055a11,11 0 1,0 22,0a11,11 0 1,0 -22,0zM1274.5,1055.9a11,11 0 1,0 22,0a11,11 0 1,0 -22,0zM1277.4,1056.8a11,11 0 1,0 22,0a11,11 0 1,0 -22,0zM1280.3,1057.7a11,11 0 1,0 22,0a11,11 0 1,0 -22,0zM1283.1,1058.6a11,11 0 1,0 22,0a11,11 0 1,0 -22,0zM1286,1059.5a11,11 0 1,0 22,0a11,11 0 1,0 -22,0zM1288.8,1060.5a11,11 0 1,0 22,0a11,11 0 1,0 -22,0zM1291.7,1061.4a11,11 0 1,0 22,0a11,11 0 1,0 -22,0zM1294.5,1062.3a11,11 0 1,0 22,0a11,11 0 1,0 -22,0zM1297.4,1063.3a11,11 0 1,0 22,0a11,11 0 1,0 -22,0zM1300.2,1064.2a11,11 0 1,0 22,0a11,11 0 1,0 -22,0zM1303.1,1065.2a11,11 0 1,0 22,0a11,11 0 1,0 -22,0zM1305.9,1066.2a11,11 0 1,0 22,0a11,11 0 1,0 -22,0zM1308.7,1067.2a11,11 0 1,0 22,0a11,11 0 1,0 -22,0zM1311.5,1068.3a11,11 0 1,0 22,0a11,11 0 1,0 -22,0zM1314.3,1069.3a11,11 0 1,0 22,0a11,11 0 1,0 -22,0zM1317.1,1070.4a11,11 0 1,0 22,0a11,11 0 1,0 -22,0zM1319.9,1071.5a11,11 0 1,0 22,0a11,11 0 1,0 -22,0zM1322.7,1072.6a11,11 0 1,0 22,0a11,11 0 1,0 -22,0zM1325.5,1073.7a11,11 0 1,0 22,0a11,11 0 1,0 -22,0zM1328.3,1074.9a11,11 0 1,0 22,0a11,11 0 1,0 -22,0zM1331,1076.1a11,11 0 1,0 22,0a11,11 0 1,0 -22,0zM1333.8,1077.3a11,11 0 1,0 22,0a11,11 0 1,0 -22,0zM1336.5,1078.5a11,11 0 1,0 22,0a11,11 0 1,0 -22,0zM1339.2,1079.8a11,11 0 1,0 22,0a11,11 0 1,0 -22,0zM1341.9,1081a11,11 0 1,0 22,0a11,11 0 1,0 -22,0zM1344.7,1082.3a11,11 0 1,0 22,0a11,11 0 1,0 -22,0zM1347.4,1083.6a11,11 0 1,0 22,0a11,11 0 1,0 -22,0zM1350.1,1084.9a11,11 0 1,0 22,0a11,11 0 1,0 -22,0zM1352.8,1086.2a11,11 0 1,0 22,0a11,11 0 1,0 -22,0zM1355.5,1087.5a11,11 0 1,0 22,0a11,11 0 1,0 -22,0zM1358.1,1088.9a11,11 0 1,0 22,0a11,11 0 1,0 -22,0zM1360.8,1090.3a11,11 0 1,0 22,0a11,11 0 1,0 -22,0zM1363.5,1091.6a11,11 0 1,0 22,0a11,11 0 1,0 -22,0zM1366.1,1093a11,11 0 1,0 22,0a11,11 0 1,0 -22,0zM1368.8,1094.4a11,11 0 1,0 22,0a11,11 0 1,0 -22,0zM1371.5,1095.8a11,11 0 1,0 22,0a11,11 0 1,0 -22,0zM1374.1,1097.2a11,11 0 1,0 22,0a11,11 0 1,0 -22,0zM1376.8,1098.6a11,11 0 1,0 22,0a11,11 0 1,0 -22,0zM1379.4,1100a11,11 0 1,0 22,0a11,11 0 1,0 -22,0zM1382,1101.4a11,11 0 1,0 22,0a11,11 0 1,0 -22,0zM1384.7,1102.9a11,11 0 1,0 22,0a11,11 0 1,0 -22,0zM1387.3,1104.3a11,11 0 1,0 22,0a11,11 0 1,0 -22,0zM1389.9,1105.8a11,11 0 1,0 22,0a11,11 0 1,0 -22,0zM1392.6,1107.2a11,11 0 1,0 22,0a11,11 0 1,0 -22,0zM1395.2,1108.7a11,11 0 1,0 22,0a11,11 0 1,0 -22,0zM1397.8,1110.1a11,11 0 1,0 22,0a11,11 0 1,0 -22,0zM1400.4,1111.6a11,11 0 1,0 22,0a11,11 0 1,0 -22,0zM1403,1113.1a11,11 0 1,0 22,0a11,11 0 1,0 -22,0zM1405.6,1114.6a11,11 0 1,0 22,0a11,11 0 1,0 -22,0zM1408.2,1116.1a11,11 0 1,0 22,0a11,11 0 1,0 -22,0zM1410.8,1117.6a11,11 0 1,0 22,0a11,11 0 1,0 -22,0zM1413.4,1119.1a11,11 0 1,0 22,0a11,11 0 1,0 -22,0zM1416,1120.6a11,11 0 1,0 22,0a11,11 0 1,0 -22,0zM1418.6,1122.1a11,11 0 1,0 22,0a11,11 0 1,0 -22,0zM1421.2,1123.6a11,11 0 1,0 22,0a11,11 0 1,0 -22,0zM1423.8,1125.1a11,11 0 1,0 22,0a11,11 0 1,0 -22,0zM1426.4,1126.6a11,11 0 1,0 22,0a11,11 0 1,0 -22,0zM1429,1128.1a11,11 0 1,0 22,0a11,11 0 1,0 -22,0zM1431.6,1129.6a11,11 0 1,0 22,0a11,11 0 1,0 -22,0zM1434.2,1131.2a11,11 0 1,0 22,0a11,11 0 1,0 -22,0zM1436.7,1132.7a11,11 0 1,0 22,0a11,11 0 1,0 -22,0zM1439.3,1134.2a11,11 0 1,0 22,0a11,11 0 1,0 -22,0zM1441.9,1135.8a11,11 0 1,0 22,0a11,11 0 1,0 -22,0zM1444.5,1137.3a11,11 0 1,0 22,0a11,11 0 1,0 -22,0zM1447.1,1138.8a11,11 0 1,0 22,0a11,11 0 1,0 -22,0zM1449.6,1140.4a11,11 0 1,0 22,0a11,11 0 1,0 -22,0zM1452.2,1141.9a11,11 0 1,0 22,0a11,11 0 1,0 -22,0zM1454.8,1143.5a11,11 0 1,0 22,0a11,11 0 1,0 -22,0zM1457.3,1145a11,11 0 1,0 22,0a11,11 0 1,0 -22,0zM1459.9,1146.6a11,11 0 1,0 22,0a11,11 0 1,0 -22,0zM1462.5,1148.1a11,11 0 1,0 22,0a11,11 0 1,0 -22,0zM1465,1149.7a11,11 0 1,0 22,0a11,11 0 1,0 -22,0zM1467.6,1151.3a11,11 0 1,0 22,0a11,11 0 1,0 -22,0zM1470.1,1152.8a11,11 0 1,0 22,0a11,11 0 1,0 -22,0zM1472.7,1154.4a11,11 0 1,0 22,0a11,11 0 1,0 -22,0zM1475.2,1156a11,11 0 1,0 22,0a11,11 0 1,0 -22,0zM1477.8,1157.6a11,11 0 1,0 22,0a11,11 0 1,0 -22,0zM1480.3,1159.2a11,11 0 1,0 22,0a11,11 0 1,0 -22,0zM1482.9,1160.8a11,11 0 1,0 22,0a11,11 0 1,0 -22,0zM1485.4,1162.4a11,11 0 1,0 22,0a11,11 0 1,0 -22,0zM1487.9,1164a11,11 0 1,0 22,0a11,11 0 1,0 -22,0zM1490.4,1165.6a11,11 0 1,0 22,0a11,11 0 1,0 -22,0zM1492.9,1167.3a11,11 0 1,0 22,0a11,11 0 1,0 -22,0zM1495.4,1169a11,11 0 1,0 22,0a11,11 0 1,0 -22,0zM1497.9,1170.7a11,11 0 1,0 22,0a11,11 0 1,0 -22,0zM1500.4,1172.4a11,11 0 1,0 22,0a11,11 0 1,0 -22,0zM1502.8,1174.1a11,11 0 1,0 22,0a11,11 0 1,0 -22,0zM1505.2,1175.9a11,11 0 1,0 22,0a11,11 0 1,0 -22,0zM1507.5,1177.8a11,11 0 1,0 22,0a11,11 0 1,0 -22,0zM1509.9,1179.6a11,11 0 1,0 22,0a11,11 0 1,0 -22,0zM1512.3,1181.4a11,11 0 1,0 22,0a11,11 0 1,0 -22,0zM1514.8,1183.1a11,11 0 1,0 22,0a11,11 0 1,0 -22,0zM1517.3,1184.8a11,11 0 1,0 22,0a11,11 0 1,0 -22,0zM1519.8,1186.5a11,11 0 1,0 22,0a11,11 0 1,0 -22,0zM1522.3,1188.2a11,11 0 1,0 22,0a11,11 0 1,0 -22,0zM1524.8,1189.8a11,11 0 1,0 22,0a11,11 0 1,0 -22,0zM1527.3,1191.4a11,11 0 1,0 22,0a11,11 0 1,0 -22,0zM1529.9,1193a11,11 0 1,0 22,0a11,11 0 1,0 -22,0zM1532.4,1194.6a11,11 0 1,0 22,0a11,11 0 1,0 -22,0zM1534.9,1196.3a11,11 0 1,0 22,0a11,11 0 1,0 -22,0zM1537.3,1198a11,11 0 1,0 22,0a11,11 0 1,0 -22,0zM1539.8,1199.7a11,11 0 1,0 22,0a11,11 0 1,0 -22,0zM1542.2,1201.4a11,11 0 1,0 22,0a11,11 0 1,0 -22,0zM1544.7,1203.2a11,11 0 1,0 22,0a11,11 0 1,0 -22,0zM1547.1,1205a11,11 0 1,0 22,0a11,11 0 1,0 -22,0zM1549.5,1206.8a11,11 0 1,0 22,0a11,11 0 1,0 -22,0zM1551.9,1208.6a11,11 0 1,0 22,0a11,11 0 1,0 -22,0zM1554.3,1210.4a11,11 0 1,0 22,0a11,11 0 1,0 -22,0zM1556.6,1212.3a11,11 0 1,0 22,0a11,11 0 1,0 -22,0zM1559,1214.1a11,11 0 1,0 22,0a11,11 0 1,0 -22,0zM1561.4,1215.8a11,11 0 1,0 22,0a11,11 0 1,0 -22,0zM1563.9,1217.6a11,11 0 1,0 22,0a11,11 0 1,0 -22,0zM1566.4,1219.2a11,11 0 1,0 22,0a11,11 0 1,0 -22,0zM1568.9,1220.8a11,11 0 1,0 22,0a11,11 0 1,0 -22,0zM1571.5,1222.4a11,11 0 1,0 22,0a11,11 0 1,0 -22,0zM1574.1,1223.8a11,11 0 1,0 22,0a11,11 0 1,0 -22,0zM1576.7,1225.3a11,11 0 1,0 22,0a11,11 0 1,0 -22,0zM1579.4,1226.6a11,11 0 1,0 22,0a11,11 0 1,0 -22,0zM1582.2,1227.8a11,11 0 1,0 22,0a11,11 0 1,0 -22,0zM1584.9,1229a11,11 0 1,0 22,0a11,11 0 1,0 -22,0zM1587.7,1230a11,11 0 1,0 22,0a11,11 0 1,0 -22,0zM1590.6,1231.1a11,11 0 1,0 22,0a11,11 0 1,0 -22,0zM1593.4,1232a11,11 0 1,0 22,0a11,11 0 1,0 -22,0zM1596.3,1232.9a11,11 0 1,0 22,0a11,11 0 1,0 -22,0zM1599.2,1233.7a11,11 0 1,0 22,0a11,11 0 1,0 -22,0zM1602.1,1234.4a11,11 0 1,0 22,0a11,11 0 1,0 -22,0zM1605,1235a11,11 0 1,0 22,0a11,11 0 1,0 -22,0zM1608,1235.6a11,11 0 1,0 22,0a11,11 0 1,0 -22,0zM1610.9,1236.1a11,11 0 1,0 22,0a11,11 0 1,0 -22,0zM1613.9,1236.7a11,11 0 1,0 22,0a11,11 0 1,0 -22,0zM1616.8,1237.2a11,11 0 1,0 22,0a11,11 0 1,0 -22,0zM1619.8,1237.8a11,11 0 1,0 22,0a11,11 0 1,0 -22,0zM1621,1238a11,11 0 1,0 22,0a11,11 0 1,0 -22,0zM736.5,1017a11,11 0 1,0 22,0a11,11 0 1,0 -22,0zM803,1017a11,11 0 1,0 22,0a11,11 0 1,0 -22,0zM864,1017a11,11 0 1,0 22,0a11,11 0 1,0 -22,0zM905,1017a11,11 0 1,0 22,0a11,11 0 1,0 -22,0zM911,1021a11,11 0 1,0 22,0a11,11 0 1,0 -22,0zM917,1025a11,11 0 1,0 22,0a11,11 0 1,0 -22,0zM923,1029a11,11 0 1,0 22,0a11,11 0 1,0 -22,0zM928,1032a11,11 0 1,0 22,0a11,11 0 1,0 -22,0zM947,1017a11,11 0 1,0 22,0a11,11 0 1,0 -22,0zM964,1018a11,11 0 1,0 22,0a11,11 0 1,0 -22,0zM979,1017a11,11 0 1,0 22,0a11,11 0 1,0 -22,0zM994,1018a11,11 0 1,0 22,0a11,11 0 1,0 -22,0zM1224,1030a11,11 0 1,0 22,0a11,11 0 1,0 -22,0zM1255,1030a11,11 0 1,0 22,0a11,11 0 1,0 -22,0zM1281,1030a11,11 0 1,0 22,0a11,11 0 1,0 -22,0z"/>
<polyline points="803,983 1000,983" fill="none" stroke="#0f0" stroke-width="3"/>
<polyline points="866.5,970.6 1245,968" fill="none" stroke="#0f0" stroke-width="3"/>
<path fill="#0f0" d="M1231,973.9h28l-14,-28zM1234,974.3h28l-14,-28zM1237,973.7h28l-14,-28zM1240,973.1h28l-14,-28zM1243,973.6h28l-14,-28zM1245.9,972.8h28l-14,-28zM1248.9,972.1h28l-14,-28zM1251.9,971.9h28l-14,-28zM1254.9,972h28l-14,-28zM1257.9,971.3h28l-14,-28zM1260.9,971.3h28l-14,-28zM1263.9,971.2h28l-14,-28zM1266.9,971.4h28l-14,-28zM1269.9,970.8h28l-14,-28zM1272.8,970.2h28l-14,-28zM1275.8,969.4h28l-14,-28zM1278.8,969.7h28l-14,-28zM1281.8,969.5h28l-14,-28zM1284.8,968.7h28l-14,-28zM1287.8,969.4h28l-14,-28zM1290.8,968.8h28l-14,-28zM1293.8,968.9h28l-14,-28zM1296.7,967.3h28l-14,-28zM1299.7,968.3h28l-14,-28zM1302.7,966.9h28l-14,-28zM1305.7,966.9h28l-14,-28zM1308.7,966.9h28l-14,-28zM1311.7,966.9h28l-14,-28zM1314.7,966h28l-14,-28zM1317.7,967.3h28l-14,-28zM1320.7,966.1h28l-14,-28zM1323.6,966.3h28l-14,-28zM1326.6,964.7h28l-14,-28zM1329.6,964.6h28l-14,-28zM1332.5,963.8h28l-14,-28zM1335.4,963.3h28l-14,-28zM1338.4,962.2h28l-14,-28zM1341.3,962.3h28l-14,-28zM1344.2,961h28l-14,-28zM1347.1,960.4h28l-14,-28zM1350,959.6h28l-14,-28zM1352.9,958.6h28l-14,-28zM1355.8,959.2h28l-14,-28zM1358.7,957.7h28l-14,-28zM1361.6,957.3h28l-14,-28zM1364.6,955.7h28l-14,-28zM1367.5,955.5h28l-14,-28zM1370.4,954.6h28l-14,-28zM1373.3,954.4h28l-14,-28zM1376.2,953.2h28l-14,-28zM1379.1,952.7h28l-14,-28zM1381.9,951.2h28l-14,-28zM1384.8,951.2h28l-14,-28zM1387.7,950.2h28l-14,-28zM1390.5,948.3h28l-14,-28zM1393.3,947.8h28l-14,-28zM1396.2,947h28l-14,-28zM1399,946.4h28l-14,-28zM1401.8,945.1h28l-14,-28zM1404.6,943.8h28l-14,-28zM1407.4,942.7h28l-14,-28zM1410.2,942.4h28l-14,-28zM1413,940.7h28l-14,-28zM1415.8,940.1h28l-14,-28zM1418.6,938.8h28l-14,-28zM1421.4,936.6h28l-14,-28zM1424.1,936.2h28l-14,-28zM1426.9,935.4h28l-14,-28zM1429.7,933.4h28l-14,-28zM1432.4,933.1h28l-14,-28zM1435.2,930.8h28l-14,-28zM1437.9,930.3h28l-14,-28zM1440.7,929.3h28l-14,-28zM1443.4,927.7h28l-14,-28zM1446.1,926.7h28l-14,-28zM1448.7,925h28l-14,-28zM1451.1,923.6h28l-14,-28zM1453.3,920.6h28l-14,-28zM1455.4,919h28l-14,-28zM1457.2,917.4h28l-14,-28zM1458.7,913.6h28l-14,-28zM1459.7,910.8h28l-14,-28zM1460,908.3h28l-14,-28zM1459.8,905.1h28l-14,-28zM1459.3,901.9h28l-14,-28zM1458.5,899.8h28l-14,-28zM1457.5,896.1h28l-14,-28zM1456.2,893.1h28l-14,-28zM1454.7,891h28l-14,-28zM1453.1,888.7h28l-14,-28zM1451.3,886.1h28l-14,-28zM1449.5,883.4h28l-14,-28zM1447.6,881.7h28l-14,-28zM1445.5,879.1h28l-14,-28zM1443.5,877.1h28l-14,-28zM1441.4,874.8h28l-14,-28zM1439.2,873.5h28l-14,-28zM1437,871.3h28l-14,-28zM1434.9,869h28l-14,-28zM1432.7,867.5h28l-14,-28zM1430.5,865.3h28l-14,-28zM1428.4,862.5h28l-14,-28zM1426.2,859.8h28l-14,-28zM1424.1,857.7h28l-14,-28zM1422,855.8h28l-14,-28zM1419.9,854.3h28l-14,-28zM1417.9,851.9h28l-14,-28zM1415.9,850h28l-14,-28zM1414,846.9h28l-14,-28zM1412.2,844.4h28l-14,-28zM1410.4,842.1h28l-14,-28zM1408.8,839.4h28l-14,-28zM1407.2,838.2h28l-14,-28zM1405.7,835.2h28l-14,-28zM1404.2,832.9h28l-14,-28zM1402.9,829.1h28l-14,-28zM1401.6,827.2h28l-14,-28zM1400.5,824.6h28l-14,-28zM1399.4,820.9h28l-14,-28zM1398.5,818.2h28l-14,-28zM1397.6,815h28l-14,-28zM1396.7,812.4h28l-14,-28zM1395.9,809.3h28l-14,-28zM1395.1,807.7h28l-14,-28zM1394.4,803.3h28l-14,-28zM1393.7,801.3h28l-14,-28zM1393,798.3h28l-14,-28zM1392.4,795.2h28l-14,-28zM1391.8,792.2h28l-14,-28zM1391.3,788.7h28l-14,-28zM1390.8,785.8h28l-14,-28zM1390.5,784.2h28l-14,-28zM1390.4,780.5h28l-14,-28zM1390.6,777.2h28l-14,-28zM1391.1,774.5h28l-14,-28zM1391.9,770.9h28l-14,-28zM1393,769.4h28l-14,-28zM1394.4,766.2h28l-14,-28zM1396.1,763.1h28l-14,-28zM1398,762h28l-14,-28zM1400.1,758.8h28l-14,-28zM1402.4,756.5h28l-14,-28zM1404.7,756.1h28l-14,-28zM1407.1,754.3h28l-14,-28zM1409.6,751.2h28l-14,-28zM1412.1,750.2h28l-14,-28zM1414.6,749h28l-14,-28zM1417.2,747.6h28l-14,-28zM1419.9,745h28l-14,-28zM1422.5,743.7h28l-14,-28zM1425.2,743.4h28l-14,-28zM1427.9,741.6h28l-14,-28zM1430.6,740.4h28l-14,-28zM1433.4,739.4h28l-14,-28zM1436.1,738.1h28l-14,-28zM1438.9,736.6h28l-14,-28zM1441.7,735.2h28l-14,-28zM1444.5,735.3h28l-14,-28zM1447.3,734.1h28l-14,-28zM1450.1,732.6h28l-14,-28zM1452.9,731h28l-14,-28zM1455.8,730.1h28l-14,-28zM1458.6,729.8h28l-14,-28zM1461.5,728.8h28l-14,-28zM1464.4,728.1h28l-14,-28zM1467.3,727h28l-14,-28zM1470.2,726.3h28l-14,-28zM1473.1,725h28l-14,-28zM1476,725.4h28l-14,-28zM1478.9,724.7h28l-14,-28zM1481.7,724h28l-14,-28zM1484.6,723h28l-14,-28zM1487.5,722h28l-14,-28zM1490.4,721.3h28l-14,-28zM1493.3,719.8h28l-14,-28zM1496.2,719.2h28l-14,-28zM1499.1,718.3h28l-14,-28zM1502,717.2h28l-14,-28zM1504.9,716.7h28l-14,-28zM1507.8,716.8h28l-14,-28zM1510.7,714.9h28l-14,-28zM1513.6,715h28l-14,-28zM1516.6,713.3h28l-14,-28zM1519.5,713.7h28l-14,-28zM1522.4,712.4h28l-14,-28zM1525.3,711.8h28l-14,-28zM1528.2,710.4h28l-14,-28zM1531.1,710.3h28l-14,-28zM1534,709.1h28l-14,-28zM1536.9,709.5h28l-14,-28zM1539.9,707.8h28l-14,-28zM1542.8,707.1h28l-14,-28zM1545.7,706.6h28l-14,-28zM1548.6,707.1h28l-14,-28zM1551.6,706.2h28l-14,-28zM1554.5,705h28l-14,-28zM1557.4,705.1h28l-14,-28zM1560.4,704h28l-14,-28zM1563.3,703.3h28l-14,-28zM1566.2,703h28l-14,-28zM1569.2,702.3h28l-14,-28zM1572.1,700.8h28l-14,-28zM1575,701h28l-14,-28zM1578,699.6h28l-14,-28zM1580.9,700.3h28l-14,-28zM1583.9,699.4h28l-14,-28zM1586.8,699h28l-14,-28zM1589.8,697.8h28l-14,-28zM1592.7,697.9h28l-14,-28zM1595.7,696.6h28l-14,-28zM1598.6,696.4h28l-14,-28zM1601.6,695.3h28l-14,-28zM1604.6,695.9h28l-14,-28zM1607.5,695.5h28l-14,-28zM1610.5,694h28l-14,-28zM1613.4,693.5h28l-14,-28zM1616.4,694.1h28l-14,-28zM1619.4,693.3h28l-14,-28zM1622.3,693h28l-14,-28zM1625.3,692.3h28l-14,-28zM1628.3,692.1h28l-14,-28zM1631.2,690.4h28l-14,-28zM1634.2,691.1h28l-14,-28zM1637.1,690.3h28l-14,-28zM1640.1,690.1h28l-14,-28zM1643.1,689.1h28l-14,-28zM1646,688h28l-14,-28zM1649,688h28l-14,-28zM1651.9,687.6h28l-14,-28zM1654.9,686.7h28l-14,-28zM1657.9,687.3h28l-14,-28zM1660.8,685.9h28l-14,-28zM1663.8,685.4h28l-14,-28zM1666.7,685.1h28l-14,-28zM1669.7,685.3h28l-14,-28zM1672.7,684.6h28l-14,-28zM1675.6,684.3h28l-14,-28zM1678.6,683h28l-14,-28zM1681.6,682.7h28l-14,-28zM1684.5,683.1h28l-14,-28zM1687.5,682.7h28l-14,-28zM1690.5,681.6h28l-14,-28zM1693.4,681.2h28l-14,-28zM1696.4,680.2h28l-14,-28zM1699.4,679.8h28l-14,-28zM1702.3,679.1h28l-14,-28zM1705.3,680.2h28l-14,-28zM1708.3,679.6h28l-14,-28zM1711.3,678.4h28l-14,-28zM1714.2,678.4h28l-14,-28zM1717.2,677.9h28l-14,-28zM1720.2,678.2h28l-14,-28zM1723.1,677.3h28l-14,-28zM1726.1,676.9h28l-14,-28zM1729.1,677h28l-14,-28zM1732.1,676.1h28l-14,-28zM1735,675.3h28l-14,-28zM1738,675.4h28l-14,-28zM1741,674.7h28l-14,-28zM1744,675h28l-14,-28zM1746.9,674.4h28l-14,-28zM1749.9,673.5h28l-14,-28zM1752.9,673.4h28l-14,-28zM1755.8,673h28l-14,-28zM1758.8,671.5h28l-14,-28zM1761.8,671.2h28l-14,-28zM1764.8,672h28l-14,-28zM1767.7,671.1h28l-14,-28zM1770.7,669.8h28l-14,-28zM1773.7,670.6h28l-14,-28zM1776.6,669.4h28l-14,-28zM1779.6,669h28l-14,-28zM1782.6,668.8h28l-14,-28zM1785.6,668.8h28l-14,-28zM1788.5,668.5h28l-14,-28zM1791.5,668.6h28l-14,-28zM1794.5,667.8h28l-14,-28zM1797.5,666.5h28l-14,-28zM1800.5,667.3h28l-14,-28zM1803.4,666.2h28l-14,-28zM1806.4,666.1h28l-14,-28zM1809.4,665.3h28l-14,-28zM1812.4,665h28l-14,-28zM1815.4,664.6h28l-14,-28zM1818.4,664.9h28l-14,-28zM1821.4,665.6h28l-14,-28zM1824.4,664.4h28l-14,-28zM1827.4,664.1h28l-14,-28zM1830.4,664.4h28l-14,-28zM1833.4,664h28l-14,-28zM1836.4,664.2h28l-14,-28zM1839.4,664h28l-14,-28zM1842.4,665h28l-14,-28zM1845.4,664.9h28l-14,-28zM1848.4,665h28l-14,-28zM1851.4,664.1h28l-14,-28zM1854.3,664.9h28l-14,-28zM1857.3,665.6h28l-14,-28zM1860.3,665.3h28l-14,-28zM1863.3,666.8h28l-14,-28zM1866.2,666.2h28l-14,-28zM1869.2,666.7h28l-14,-28zM1872.1,666.9h28l-14,-28zM1875.1,668.4h28l-14,-28zM1878,669.6h28l-14,-28zM1880.9,669.1h28l-14,-28zM1883.9,670.2h28l-14,-28zM1886.8,671.1h28l-14,-28zM1889.7,672h28l-14,-28zM1892.6,671.8h28l-14,-28zM1895.6,673.6h28l-14,-28zM1898.5,673.9h28l-14,-28zM1901.4,674.1h28l-14,-28zM1904.3,675.4h28l-14,-28zM1907.1,675.9h28l-14,-28zM1909.9,677h28l-14,-28zM1912.5,679.3h28l-14,-28zM1914.9,680.4h28l-14,-28zM1917.2,683h28l-14,-28zM1919.1,684.4h28l-14,-28zM1920.6,687.1h28l-14,-28zM1921.9,690.5h28l-14,-28zM1922.9,692.9h28l-14,-28zM1923.5,695.9h28l-14,-28zM1923.9,699.3h28l-14,-28zM1924.2,702.2h28l-14,-28zM1924.4,705h28l-14,-28zM1924.6,707.7h28l-14,-28zM1924.7,711.3h28l-14,-28zM1924.7,714.2h28l-14,-28zM1924.6,717.3h28l-14,-28zM1924.4,720h28l-14,-28zM1924.2,722.8h28l-14,-28zM1923.9,725h28l-14,-28zM1923.5,729.1h28l-14,-28zM1922.9,731.1h28l-14,-28zM1922.2,733.8h28l-14,-28zM1921.9,738.2h28l-14,-28zM1922.1,740.2h28l-14,-28zM1922.8,742.7h28l-14,-28zM1923.8,745.9h28l-14,-28zM1924.6,749.3h28l-14,-28zM1924.9,751.7h28l-14,-28zM1924.7,754.9h28l-14,-28zM1924,758.4h28l-14,-28zM1922.9,761.2h28l-14,-28zM1921.4,762.9h28l-14,-28zM1919.7,765.5h28l-14,-28zM1917.6,768h28l-14,-28zM1915.4,770.4h28l-14,-28zM1913.1,772.4h28l-14,-28zM1910.8,773.8h28l-14,-28zM1908.4,776.1h28l-14,-28zM1906,777.5h28l-14,-28zM1903.6,778.5h28l-14,-28zM1901.1,781.3h28l-14,-28zM1898.6,782.3h28l-14,-28zM1896,784.1h28l-14,-28zM1893.4,786h28l-14,-28zM1890.7,787.3h28l-14,-28zM1888.1,788h28l-14,-28zM1885.4,788.9h28l-14,-28zM1882.7,790.4h28l-14,-28zM1880,792.6h28l-14,-28zM1877.3,793.6h28l-14,-28zM1874.7,794.5h28l-14,-28zM1872,796h28l-14,-28zM1869.3,798.1h28l-14,-28zM1866.6,798.9h28l-14,-28zM1863.9,800.7h28l-14,-28zM1861.2,801.3h28l-14,-28zM1858.6,803.4h28l-14,-28zM1855.9,804.8h28l-14,-28zM1853.2,806.4h28l-14,-28zM1850.5,807.4h28l-14,-28zM1847.8,807.9h28l-14,-28zM1845.1,810.3h28l-14,-28zM1842.5,811.3h28l-14,-28zM1839.8,812.2h28l-14,-28zM1837.1,814h28l-14,-28zM1834.4,814.8h28l-14,-28zM1831.7,815.9h28l-14,-28zM1829,818.4h28l-14,-28zM1826.4,819.1h28l-14,-28zM1823.7,819.9h28l-14,-28zM1821,822.3h28l-14,-28zM1818.3,824h28l-14,-28zM1815.6,825h28l-14,-28zM1813,826.4h28l-14,-28zM1810.3,826.6h28l-14,-28zM1807.6,828.6h28l-14,-28zM1804.9,829.5h28l-14,-28zM1802.2,831.9h28l-14,-28zM1799.5,833.3h28l-14,-28zM1796.8,833.8h28l-14,-28zM1794.1,835h28l-14,-28zM1791.4,837h28l-14,-28zM1788.7,837h28l-14,-28zM1786,839.2h28l-14,-28zM1783.3,839.6h28l-14,-28zM1780.6,842.1h28l-14,-28zM1777.9,842.2h28l-14,-28zM1775.2,844.2h28l-14,-28zM1772.4,845.1h28l-14,-28zM1769.7,847.3h28l-14,-28zM1767,848.1h28l-14,-28zM1764.2,848.7h28l-14,-28zM1761.5,850.2h28l-14,-28zM1758.8,851.7h28l-14,-28zM1756,852.3h28l-14,-28zM1753.3,854.1h28l-14,-28zM1750.5,855.5h28l-14,-28zM1747.8,855.7h28l-14,-28zM1745,856.8h28l-14,-28zM1742.2,858.5h28l-14,-28zM1739.4,860h28l-14,-28zM1736.6,860.9h28l-14,-28zM1733.7,861.7h28l-14,-28zM1730.9,863.4h28l-14,-28zM1728.1,863.1h28l-14,-28zM1725.3,865.6h28l-14,-28zM1722.5,865.7h28l-14,-28zM1719.7,867.5h28l-14,-28zM1716.9,868.4h28l-14,-28zM1714.1,868.4h28l-14,-28zM1711.2,870.6h28l-14,-28zM1708.4,870.4h28l-14,-28zM1705.6,872.9h28l-14,-28zM1702.8,873.5h28l-14,-28zM1700,874.5h28l-14,-28zM1697.2,874.9h28l-14,-28zM1694.4,875.6h28l-14,-28zM1691.6,876.8h28l-14,-28zM1688.7,878.8h28l-14,-28zM1685.9,880h28l-14,-28zM1683.1,880.6h28l-14,-28zM1680.3,882h28l-14,-28zM1677.5,883.3h28l-14,-28zM1674.7,884.2h28l-14,-28zM1671.9,885.2h28l-14,-28zM1669.1,886h28l-14,-28zM1666.3,887.3h28l-14,-28zM1663.4,887.1h28l-14,-28zM1660.6,888.6h28l-14,-28zM1657.8,889.1h28l-14,-28zM1655,890.2h28l-14,-28zM1652.2,892.5h28l-14,-28zM1649.4,892.4h28l-14,-28zM1646.5,893.6h28l-14,-28zM1643.7,894.5h28l-14,-28zM1640.9,896.2h28l-14,-28zM1638.1,896.5h28l-14,-28zM1635.3,898.7h28l-14,-28zM1632.4,898.5h28l-14,-28zM1629.6,899.9h28l-14,-28zM1626.8,900.7h28l-14,-28zM1624,903h28l-14,-28zM1621.2,902.5h28l-14,-28zM1618.3,903.7h28l-14,-28zM1615.5,905.5h28l-14,-28zM1612.7,906.2h28l-14,-28zM1609.9,907.5h28l-14,-28zM1607,909h28l-14,-28zM1604.2,909.8h28l-14,-28zM1601.4,910.8h28l-14,-28zM1598.5,910.6h28l-14,-28zM1595.7,912.9h28l-14,-28zM1592.9,913.9h28l-14,-28zM1590.1,915h28l-14,-28zM1587.2,915.6h28l-14,-28zM1584.4,915.9h28l-14,-28zM1581.6,917h28l-14,-28zM1578.7,918.1h28l-14,-28zM1575.9,919.4h28l-14,-28zM1573.1,920.6h28l-14,-28zM1570.2,922h28l-14,-28zM1567.4,921.8h28l-14,-28zM1564.5,922.9h28l-14,-28zM1561.7,923.6h28l-14,-28zM1558.8,925.7h28l-14,-28zM1556,926.4h28l-14,-28zM1553.2,927.5h28l-14,-28zM1550.3,927.9h28l-14,-28zM1547.5,929.3h28l-14,-28zM1544.6,929.9h28l-14,-28zM1541.7,930.7h28l-14,-28zM1538.9,931h28l-14,-28zM1536,932.7h28l-14,-28zM1533.2,934.1h28l-14,-28zM1530.3,934.9h28l-14,-28zM1527.5,935.9h28l-14,-28zM1524.6,935.6h28l-14,-28zM1521.7,937.6h28l-14,-28zM1518.8,937.4h28l-14,-28zM1516,939.5h28l-14,-28zM1513.1,939.5h28l-14,-28zM1510.2,940.7h28l-14,-28zM1507.3,941.6h28l-14,-28zM1504.5,941.7h28l-14,-28zM1501.6,943.2h28l-14,-28zM1498.7,943.3h28l-14,-28zM1495.8,944.8h28l-14,-28zM1492.9,945.6h28l-14,-28zM1490,946.4h28l-14,-28zM1487.1,946.2h28l-14,-28zM1484.2,946.9h28l-14,-28zM1481.3,947.9h28l-14,-28zM1478.4,949.2h28l-14,-28zM1475.5,950.2h28l-14,-28zM1472.6,951.1h28l-14,-28zM1469.7,950.7h28l-14,-28zM1466.8,951.9h28l-14,-28zM1463.8,952.6h28l-14,-28zM1460.9,952.7h28l-14,-28zM1458,953.8h28l-14,-28zM1455,953.9h28l-14,-28zM1452.1,954.8h28l-14,-28zM1449.2,956.3h28l-14,-28zM1446.2,956.1h28l-14,-28zM1443.3,956.6h28l-14,-28zM1440.4,957.2h28l-14,-28zM1437.4,958.5h28l-14,-28zM1434.5,958.6h28l-14,-28zM1431.6,959.1h28l-14,-28zM1428.7,960.2h28l-14,-28zM1425.8,961.2h28l-14,-28zM1422.8,961.1h28l-14,-28zM1419.9,963.1h28l-14,-28zM1417,964h28l-14,-28zM1414.1,964.4h28l-14,-28zM1411.2,965.2h28l-14,-28zM1408.3,965.3h28l-14,-28zM1405.4,965.6h28l-14,-28zM1402.5,967.5h28l-14,-28zM1399.6,967.6h28l-14,-28zM1396.7,968.1h28l-14,-28zM1393.8,968.9h28l-14,-28zM1390.9,969.9h28l-14,-28zM1388,970.8h28l-14,-28zM1385.1,970.9h28l-14,-28zM1382.2,972.9h28l-14,-28zM1379.3,972.4h28l-14,-28zM1376.4,973.3h28l-14,-28zM1373.5,975.1h28l-14,-28zM1370.6,974.9h28l-14,-28zM1367.7,975.6h28l-14,-28zM1364.7,976.7h28l-14,-28zM1361.8,976.7h28l-14,-28zM1358.9,977.9h28l-14,-28zM1355.9,978.6h28l-14,-28zM1353,978.6h28l-14,-28zM1350,979.6h28l-14,-28zM1347,980.8h28l-14,-28zM1344.1,979.9h28l-14,-28zM1341.1,981h28l-14,-28zM1338.1,980.8h28l-14,-28zM1335.2,981.3h28l-14,-28zM1332.2,981.8h28l-14,-28zM1329.2,982.5h28l-14,-28zM1326.2,982.2h28l-14,-28zM1323.3,983h28l-14,-28zM1320.3,983.8h28l-14,-28zM1317.3,983.3h28l-14,-28zM1314.3,984.1h28l-14,-28zM1311.3,983.6h28l-14,-28zM1308.3,984.7h28l-14,-28zM1305.3,984.8h28l-14,-28zM1302.3,985.2h28l-14,-28zM1299.4,985.3h28l-14,-28zM1296.4,985.7h28l-14,-28zM1293.4,986.1h28l-14,-28zM1290.4,986.2h28l-14,-28zM1287.4,985.8h28l-14,-28zM1284.4,985.6h28l-14,-28zM1281.4,986.4h28l-14,-28zM1278.4,985.7h28l-14,-28zM1275.4,985.7h28l-14,-28zM1272.4,986h28l-14,-28zM1269.4,987h28l-14,-28zM1266.4,987.4h28l-14,-28zM1263.4,987.1h28l-14,-28zM1260.4,987.6h28l-14,-28zM1257.4,986.9h28l-14,-28zM1254.4,987.7h28l-14,-28zM1251.4,987.8h28l-14,-28zM1248.4,986.6h28l-14,-28zM1245.4,986.6h28l-14,-28zM1242.4,987h28l-14,-28zM1239.4,987.8h28l-14,-28zM1236.4,986.9h28l-14,-28zM1233.4,987.4h28l-14,-28zM1230.4,986.9h28l-14,-28zM1227.4,987.6h28l-14,-28zM1224.4,987.2h28l-14,-28zM1221.4,986.9h28l-14,-28zM1218.4,987.3h28l-14,-28zM1215.4,986.5h28l-14,-28zM1212.4,987.6h28l-14,-28zM1209.4,986.2h28l-14,-28zM1206.4,986.9h28l-14,-28zM1203.4,986h28l-14,-28zM1200.4,986.1h28l-14,-28zM1197.4,986.5h28l-14,-28zM1194.4,987.2h28l-14,-28zM1191.4,987.1h28l-14,-28zM1188.4,986.1h28l-14,-28zM1185.4,986.3h28l-14,-28zM1182.4,987.1h28l-14,-28zM1179.4,985.6h28l-14,-28zM1176.4,986h28l-14,-28zM1173.4,986.9h28l-14,-28zM1170.4,986.4h28l-14,-28zM1167.4,986.8h28l-14,-28zM1164.4,986.4h28l-14,-28zM1161.4,985.9h28l-14,-28zM1158.4,986.5h28l-14,-28zM1155.4,987h28l-14,-28zM1152.4,985.8h28l-14,-28zM1149.4,987h28l-14,-28zM1146.4,985.8h28l-14,-28zM1146,985.9h28l-14,-28zM986,993.6h28l-14,-28zM989,994.1h28l-14,-28zM992,994.2h28l-14,-28zM995,993.8h28l-14,-28zM998,994.3h28l-14,-28zM1001,993.8h28l-14,-28zM1004,994.2h28l-14,-28zM1007,993.3h28l-14,-28zM1010,994.3h28l-14,-28zM1013,993.8h28l-14,-28zM1016,993.4h28l-14,-28zM1019,994.6h28l-14,-28zM1022,993.4h28l-14,-28zM1025,993.7h28l-14,-28zM1028,994.3h28l-14,-28zM1031,993.4h28l-14,-28zM1034,993.5h28l-14,-28zM1037,993.3h28l-14,-28zM1040,993.8h28l-14,-28zM1043,994h28l-14,-28zM1046,994h28l-14,-28zM1049,994.2h28l-14,-28zM1052,993.4h28l-14,-28zM1055,993.1h28l-14,-28zM1058,993.4h28l-14,-28zM1061,994.7h28l-14,-28zM1064,994.5h28l-14,-28zM1067,994.1h28l-14,-28zM1070,994.7h28l-14,-28zM1073,994.4h28l-14,-28zM1076,993.5h28l-14,-28zM1079,994.1h28l-14,-28zM1082,994.5h28l-14,-28zM1085,993.5h28l-14,-28zM1088,994h28l-14,-28zM1091,993.6h28l-14,-28zM1094,993.2h28l-14,-28zM1097,994.3h28l-14,-28zM1100,993.6h28l-14,-28zM1103,994.3h28l-14,-28zM1106,993.3h28l-14,-28zM1109,994.7h28l-14,-28zM1112,993.5h28l-14,-28zM1115,994.1h28l-14,-28zM1118,994h28l-14,-28zM1121,993.7h28l-14,-28zM1124,993.5h28l-14,-28zM1127,993.5h28l-14,-28zM1130,994.5h28l-14,-28zM1133,994.7h28l-14,-28zM1136,994h28l-14,-28zM1139,993.8h28l-14,-28zM1142,994.4h28l-14,-28zM1145,993.8h28l-14,-28zM1148,994.2h28l-14,-28zM1151,994h28l-14,-28zM1154,994.9h28l-14,-28zM1157,994.6h28l-14,-28zM1160,994.9h28l-14,-28zM1163,995h28l-14,-28zM1166,994h28l-14,-28zM1169,994.8h28l-14,-28zM1172,994.3h28l-14,-28zM1175,994.3h28l-14,-28zM1178,994.5h28l-14,-28zM1181,994.9h28l-14,-28zM1184,995.5h28l-14,-28zM1187,995.6h28l-14,-28zM1190,995h28l-14,-28zM1193,995.8h28l-14,-28zM1196,996.3h28l-14,-28zM1199,995.5h28l-14,-28zM1202,995.5h28l-14,-28zM1205,995.6h28l-14,-28zM1208,996.7h28l-14,-28zM1211,997.1h28l-14,-28zM1214,996.2h28l-14,-28zM1217,997h28l-14,-28zM1220,997h28l-14,-28zM1222.9,996.2h28l-14,-28zM1225.9,996.5h28l-14,-28zM1228.9,997.9h28l-14,-28zM1231.9,996.9h28l-14,-28zM1234.9,997.6h28l-14,-28zM1237.9,997.6h28l-14,-28zM1240.9,998h28l-14,-28zM1243.9,997.5h28l-14,-28zM1246.9,998.1h28l-14,-28zM1249.9,998.1h28l-14,-28zM1252.9,998.2h28l-14,-28zM1255.9,998.8h28l-14,-28zM1258.9,999.4h28l-14,-28zM1261.9,999h28l-14,-28zM1264.9,1000h28l-14,-28zM1267.9,998.8h28l-14,-28zM1270.9,999.8h28l-14,-28zM1273.9,999h28l-14,-28zM1276.9,1000.5h28l-14,-28zM1279.9,1000h28l-14,-28zM1282.9,999.9h28l-14,-28zM1285.9,1000.7h28l-14,-28zM1288.9,1000.4h28l-14,-28zM1291.8,1000.5h28l-14,-28zM1294.8,1001.6h28l-14,-28zM1297.8,1000.6h28l-14,-28zM1300.8,1000.6h28l-14,-28zM1303.8,1000.6h28l-14,-28zM1306.8,1001.6h28l-14,-28zM1309.8,1001.2h28l-14,-28zM1312.8,1002.3h28l-14,-28zM1315.8,1001.8h28l-14,-28zM1318.8,1001.9h28l-14,-28zM1321.8,1001.9h28l-14,-28zM1324.8,1003.1h28l-14,-28zM1327.8,1003.6h28l-14,-28zM1330.8,1003.9h28l-14,-28zM1333.8,1003.1h28l-14,-28zM1336.7,1004.1h28l-14,-28zM1339.7,1003.4h28l-14,-28zM1342.7,1005h28l-14,-28zM1345.7,1005.1h28l-14,-28zM1348.7,1004.6h28l-14,-28zM1351.7,1005.3h28l-14,-28zM1354.6,1005.2h28l-14,-28zM1357.6,1005.9h28l-14,-28zM1360.6,1007h28l-14,-28zM1363.5,1006.7h28l-14,-28zM1366.4,1008.3h28l-14,-28zM1369.4,1008.5h28l-14,-28zM1372.3,1009.6h28l-14,-28zM1375.2,1010.6h28l-14,-28zM1378.1,1010.4h28l-14,-28zM1381,1012h28l-14,-28zM1383.8,1012.1h28l-14,-28zM1386.7,1012.9h28l-14,-28zM1389.6,1013.4h28l-14,-28zM1392.5,1015.5h28l-14,-28zM1395.4,1016h28l-14,-28zM1398.2,1017.1h28l-14,-28zM1401.1,1018.2h28l-14,-28zM1403.9,1019.3h28l-14,-28zM1406.7,1020h28l-14,-28zM1409.5,1020.3h28l-14,-28zM1412.3,1021.6h28l-14,-28zM1415,1022.4h28l-14,-28zM1417.8,1024h28l-14,-28zM1420.5,1025.3h28l-14,-28zM1423.1,1027.5h28l-14,-28zM1425.8,1027.8h28l-14,-28zM1428.4,1030.2h28l-14,-28zM1431,1031.5h28l-14,-28zM1433.6,1033.3h28l-14,-28zM1436.2,1034.2h28l-14,-28zM1438.8,1036.3h28l-14,-28zM1441.3,1038h28l-14,-28zM1443.9,1038.7h28l-14,-28zM1446.4,1039.9h28l-14,-28zM1449,1041.4h28l-14,-28zM1451.5,1043.4h28l-14,-28zM1454,1044.7h28l-14,-28zM1456.5,1046.6h28l-14,-28zM1459,1048.6h28l-14,-28zM1461.5,1051.1h28l-14,-28zM1464,1052.3h28l-14,-28zM1466.5,1053.7h28l-14,-28zM1468.9,1055.9h28l-14,-28zM1471.3,1057.9h28l-14,-28zM1473.7,1058.5h28l-14,-28zM1476.1,1061.5h28l-14,-28zM1478.5,1062.8h28l-14,-28zM1480.8,1065.3h28l-14,-28zM1483.1,1066.1h28l-14,-28zM1485.5,1068.2h28l-14,-28zM1487.9,1070.6h28l-14,-28zM1490.2,1072.7h28l-14,-28zM1492.6,1074.1h28l-14,-28zM1495,1076.1h28l-14,-28zM1497.4,1076.9h28l-14,-28zM1499.8,1079.9h28l-14,-28zM1502.2,1080.9h28l-14,-28zM1504.5,1083.4h28l-14,-28zM1506.9,1084.4h28l-14,-28zM1509.2,1087.6h28l-14,-28zM1511.5,1088.5h28l-14,-28zM1513.7,1091.4h28l-14,-28zM1516,1092.4h28l-14,-28zM1518.1,1095.2h28l-14,-28zM1520.3,1097h28l-14,-28zM1522.4,1099.2h28l-14,-28zM1524.6,1101.8h28l-14,-28zM1526.7,1103.3h28l-14,-28zM1528.8,1104.9h28l-14,-28zM1530.8,1107.6h28l-14,-28zM1532.9,1110.3h28l-14,-28zM1534.9,1112.6h28l-14,-28zM1537,1113.4h28l-14,-28zM1539,1116.9h28l-14,-28zM1541.1,1119.2h28l-14,-28zM1543.2,1121.3h28l-14,-28zM1545.4,1122.1h28l-14,-28zM1547.5,1125.3h28l-14,-28zM1549.5,1127.2h28l-14,-28zM1551.5,1128.9h28l-14,-28zM1553.4,1131.6h28l-14,-28zM1555.4,1133.2h28l-14,-28zM1557.2,1136h28l-14,-28zM1559.1,1139h28l-14,-28zM1560.9,1140.6h28l-14,-28zM1562.8,1142.8h28l-14,-28zM1564.6,1146.4h28l-14,-28zM1566.4,1148.3h28l-14,-28zM1568.1,1150.9h28l-14,-28zM1569.9,1153.3h28l-14,-28zM1571.7,1155.9h28l-14,-28zM1573.4,1157.1h28l-14,-28zM1575.2,1160.2h28l-14,-28zM1576.9,1162h28l-14,-28zM1578.6,1165.5h28l-14,-28zM1580.4,1167.5h28l-14,-28zM1582.2,1170.8h28l-14,-28zM1584.1,1172.7h28l-14,-28zM1586,1174.1h28l-14,-28zM1588,1176.7h28l-14,-28zM1590,1178.8h28l-14,-28zM1592.1,1180.8h28l-14,-28zM1594.2,1182.9h28l-14,-28zM1596.4,1185.4h28l-14,-28zM1598.8,1187.2h28l-14,-28zM1601.2,1189.8h28l-14,-28zM1603.7,1191.3h28l-14,-28zM1606.3,1191.6h28l-14,-28zM1609.1,1192.8h28l-14,-28zM1611.8,1193.9h28l-14,-28zM1614.6,1196.3h28l-14,-28zM1617.5,1196.3h28l-14,-28zM1620.4,1197h28l-14,-28zM1623.3,1197.7h28l-14,-28zM1626.3,1199h28l-14,-28zM1629.2,1198.1h28l-14,-28zM1632.2,1199.6h28l-14,-28zM1635.2,1199.7h28l-14,-28zM1638.2,1199.7h28l-14,-28zM1641.2,1199.7h28l-14,-28zM1644.2,1200.4h28l-14,-28zM1647.2,1201h28l-14,-28zM1650.2,1200.2h28l-14,-28zM1653.2,1201h28l-14,-28zM1656.2,1201h28l-14,-28zM1659.2,1201.5h28l-14,-28zM1662.2,1200.8h28l-14,-28zM1664.7,1200.4h28l-14,-28zM1226,998.5h28l-14,-28zM1229,998h28l-14,-28zM1232,998.6h28l-14,-28zM1235,999.6h28l-14,-28zM1237.9,999.3h28l-14,-28zM1240.9,999.7h28l-14,-28zM1243.9,999.5h28l-14,-28zM1246.9,1000.2h28l-14,-28zM1249.9,999.9h28l-14,-28zM1252.9,1000.4h28l-14,-28zM1255.9,1001.5h28l-14,-28zM1258.9,1000.8h28l-14,-28zM1261.8,1001.9h28l-14,-28zM1264.8,1001.9h28l-14,-28zM1267.8,1001.4h28l-14,-28zM1270.8,1002.6h28l-14,-28zM1273.8,1002h28l-14,-28zM1276.8,1002.3h28l-14,-28zM1279.8,1003.3h28l-14,-28zM1282.8,1003.9h28l-14,-28zM1285.8,1004.1h28l-14,-28zM1288.7,1004.4h28l-14,-28zM1291.7,1003.5h28l-14,-28zM1294.7,1004.8h28l-14,-28zM1297.7,1003.9h28l-14,-28zM1300.7,1005.2h28l-14,-28zM1303.7,1005.9h28l-14,-28zM1306.7,1004.7h28l-14,-28zM1309.6,1004.9h28l-14,-28zM1312.6,1006.2h28l-14,-28zM1315.6,1005.8h28l-14,-28zM1318.6,1006.8h28l-14,-28zM1321.6,1007.7h28l-14,-28zM1324.6,1008.1h28l-14,-28zM1327.5,1007.5h28l-14,-28zM1330.5,1007.6h28l-14,-28zM1333.5,1009.2h28l-14,-28zM1336.5,1008.3h28l-14,-28zM1339.4,1008.7h28l-14,-28zM1342.4,1010h28l-14,-28zM1345.4,1010.1h28l-14,-28zM1348.4,1009.7h28l-14,-28zM1351.3,1011.3h28l-14,-28zM1354.3,1011.2h28l-14,-28zM1357.3,1011.8h28l-14,-28zM1360.2,1011.9h28l-14,-28zM1363.2,1013.1h28l-14,-28zM1366.2,1013h28l-14,-28zM1369.2,1012.8h28l-14,-28zM1372.1,1014.1h28l-14,-28zM1375.1,1014.7h28l-14,-28zM1378.1,1014.7h28l-14,-28zM1381,1015.6h28l-14,-28zM1384,1015.9h28l-14,-28zM1386.9,1016.6h28l-14,-28zM1389.9,1017.5h28l-14,-28zM1392.8,1018.2h28l-14,-28zM1395.7,1017.9h28l-14,-28zM1398.6,1018.6h28l-14,-28zM1401.5,1020.2h28l-14,-28zM1404.4,1021.1h28l-14,-28zM1407.2,1021.9h28l-14,-28zM1410,1023h28l-14,-28zM1412.8,1023.9h28l-14,-28zM1415.6,1025.5h28l-14,-28zM1418.3,1025.8h28l-14,-28zM1421,1026.8h28l-14,-28zM1423.6,1029.3h28l-14,-28zM1426.3,1030.7h28l-14,-28zM1429,1032.3h28l-14,-28zM1431.6,1032.9h28l-14,-28zM1434.3,1033.8h28l-14,-28zM1436.9,1035.2h28l-14,-28zM1439.6,1036.6h28l-14,-28zM1442.2,1038.6h28l-14,-28zM1444.8,1039.7h28l-14,-28zM1447.5,1041.8h28l-14,-28zM1450.1,1043h28l-14,-28zM1452,1043.6h28l-14,-28zM1806,832h28l-14,-28zM1803.3,834.3h28l-14,-28zM1800.6,835.8h28l-14,-28zM1798,836.5h28l-14,-28zM1795.3,838.1h28l-14,-28zM1792.6,839.6h28l-14,-28zM1789.9,841.1h28l-14,-28zM1787.2,841h28l-14,-28zM1784.5,842.4h28l-14,-28zM1781.8,843.5h28l-14,-28zM1779,845.6h28l-14,-28zM1776.3,846.2h28l-14,-28zM1773.6,847.9h28l-14,-28zM1770.9,849.8h28l-14,-28zM1768.2,850.5h28l-14,-28zM1765.4,852.4h28l-14,-28zM1762.7,852.4h28l-14,-28zM1760,854.3h28l-14,-28zM1757.2,855.9h28l-14,-28zM1754.5,857.4h28l-14,-28zM1751.7,857.3h28l-14,-28zM1749,858.5h28l-14,-28zM1746.2,860.2h28l-14,-28zM1743.4,860.8h28l-14,-28zM1740.6,862.5h28l-14,-28zM1737.9,863.2h28l-14,-28zM1735.1,864.3h28l-14,-28zM1732.3,866h28l-14,-28zM1729.5,867.4h28l-14,-28zM1726.7,868.1h28l-14,-28zM1723.9,869h28l-14,-28zM1721.1,870.8h28l-14,-28zM1718.3,871.5h28l-14,-28zM1715.5,871.8h28l-14,-28zM1712.7,873.8h28l-14,-28zM1709.9,875.1h28l-14,-28zM1707.1,875.7h28l-14,-28zM1704.2,876.3h28l-14,-28zM1701.4,877h28l-14,-28zM1698.6,878.6h28l-14,-28zM1695.8,879.4h28l-14,-28zM1693,881.1h28l-14,-28zM1690.2,881.2h28l-14,-28zM1687.4,882.5h28l-14,-28zM1684.6,884.6h28l-14,-28zM1681.7,885h28l-14,-28zM1678.9,885.7h28l-14,-28zM1676.1,886.6h28l-14,-28zM1673.3,887.5h28l-14,-28zM1670.5,888.7h28l-14,-28zM1667.7,890.1h28l-14,-28zM1664.9,891.4h28l-14,-28zM1662,892.8h28l-14,-28zM1659.2,893.2h28l-14,-28zM1656.4,894.5h28l-14,-28zM1653.6,895.4h28l-14,-28zM1650.8,897h28l-14,-28zM1648,898h28l-14,-28zM1645.1,897.5h28l-14,-28zM1642.3,898.8h28l-14,-28zM1639.5,899.7h28l-14,-28zM1636.7,901.6h28l-14,-28zM1633.8,903h28l-14,-28zM1631,903.6h28l-14,-28zM1628.2,903.5h28l-14,-28zM1625.3,905.2h28l-14,-28zM1622.5,906h28l-14,-28zM1619.7,906.5h28l-14,-28zM1616.8,908.9h28l-14,-28zM1614,909.8h28l-14,-28zM1611.2,909.7h28l-14,-28zM1608.3,911.7h28l-14,-28zM1605.5,912.8h28l-14,-28zM1602.7,913.7h28l-14,-28zM1599.8,913.8h28l-14,-28zM1597,914.9h28l-14,-28zM1594.1,915.3h28l-14,-28zM1591.3,917.7h28l-14,-28zM1588.4,918.3h28l-14,-28zM1585.6,918.2h28l-14,-28zM1582.7,920h28l-14,-28zM1579.9,921.5h28l-14,-28zM1577,921.9h28l-14,-28zM1574.2,922.1h28l-14,-28zM1571.3,923.6h28l-14,-28zM1568.5,925.1h28l-14,-28zM1566,924.8h28l-14,-28zM1463,908.8h28l-14,-28zM1462.7,906.8h28l-14,-28zM1462.4,903.4h28l-14,-28zM1461.9,900.5h28l-14,-28zM1461.1,897.6h28l-14,-28zM1460.1,894h28l-14,-28zM1458.9,891.5h28l-14,-28zM1457.5,888.9h28l-14,-28zM1455.9,886.3h28l-14,-28zM1454.2,884.2h28l-14,-28zM1452.4,881.6h28l-14,-28zM1450.5,879.1h28l-14,-28zM1448.5,877.9h28l-14,-28zM1446.4,875.2h28l-14,-28zM1444.3,873.2h28l-14,-28zM1442.2,870.2h28l-14,-28zM1440,868.6h28l-14,-28zM1437.8,867.1h28l-14,-28zM1435.7,864.4h28l-14,-28zM1433.5,863.3h28l-14,-28zM1431.4,859.9h28l-14,-28zM1429.3,858.1h28l-14,-28zM1427.2,856.5h28l-14,-28zM1425.2,853.5h28l-14,-28zM1423.2,851.2h28l-14,-28zM1421.2,849.7h28l-14,-28zM1419.3,847.4h28l-14,-28zM1417.5,844.8h28l-14,-28zM1415.8,841.7h28l-14,-28zM1414.1,840.2h28l-14,-28zM1412.5,836.8h28l-14,-28zM1411,834.6h28l-14,-28zM1409.5,831.4h28l-14,-28zM1408.1,828.6h28l-14,-28zM1406.9,826.5h28l-14,-28zM1405.7,823.3h28l-14,-28zM1404.6,822h28l-14,-28zM1403.6,818h28l-14,-28zM1402.7,815h28l-14,-28zM1401.8,812.9h28l-14,-28zM1400.9,809.2h28l-14,-28zM1400.1,806.9h28l-14,-28zM1399.3,804.6h28l-14,-28zM1398.6,801.1h28l-14,-28zM1398,797.6h28l-14,-28zM1397.3,795.2h28l-14,-28zM1396.7,791.9h28l-14,-28zM1396,789.8h28l-14,-28zM1396,788.8h28l-14,-28zM789.2,994h28l-14,-28zM970.5,994h28l-14,-28zM852.5,978.3h28l-14,-28zM908.5,978.3h28l-14,-28zM994,980.3h28l-14,-28zM1006,980.3h28l-14,-28zM1055,979.3h28l-14,-28zM1093,979.3h28l-14,-28zM1120,979.3h28l-14,-28zM1142,979.3h28l-14,-28zM1161,979.3h28l-14,-28zM1176,978.3h28l-14,-28zM1188,976.8h28l-14,-28zM1201,976.8h28l-14,-28zM1213,976.3h28l-14,-28zM1223,975.3h28l-14,-28z"/>
<polyline points="355.5,828 700,828 770,827" fill="none" stroke="#00f" stroke-width="3"/>
<polyline points="419,732.4 578.5,732.4 612,734 724,732" fill="none" stroke="#00f" stroke-width="3"/>
<polyline points="500,735 565,735" fill="none" stroke="#00f" stroke-width="3"/>
<path fill="#00f" d="M1343,901.1h31l-15.5,25zM1340,902.2h31l-15.5,25zM1337,902.7h31l-15.5,25zM1334,901.9h31l-15.5,25zM1331,900.2h31l-15.5,25zM1328,899.7h31l-15.5,25zM1325.1,901h31l-15.5,25zM1322.1,900.6h31l-15.5,25zM1319.1,900.3h31l-15.5,25zM1316.1,900.5h31l-15.5,25zM1313.2,897.7h31l-15.5,25zM1310.2,899.1h31l-15.5,25zM1307.2,898.4h31l-15.5,25zM1304.3,898.5h31l-15.5,25zM1301.3,896.3h31l-15.5,25zM1298.3,897.1h31l-15.5,25zM1295.4,895.1h31l-15.5,25zM1292.4,896.6h31l-15.5,25zM1289.5,894.8h31l-15.5,25zM1286.5,895.4h31l-15.5,25zM1283.6,894.3h31l-15.5,25zM1280.6,893.9h31l-15.5,25zM1277.7,893.1h31l-15.5,25zM1274.7,892.4h31l-15.5,25zM1271.8,891.4h31l-15.5,25zM1268.9,891.2h31l-15.5,25zM1265.9,889.8h31l-15.5,25zM1263,889.8h31l-15.5,25zM1260.1,889h31l-15.5,25zM1257.2,887.7h31l-15.5,25zM1254.2,887.2h31l-15.5,25zM1251.3,887.6h31l-15.5,25zM1248.4,886.4h31l-15.5,25zM1245.5,886.6h31l-15.5,25zM1242.6,884.6h31l-15.5,25zM1239.7,883.9h31l-15.5,25zM1236.8,884.2h31l-15.5,25zM1233.9,883.2h31l-15.5,25zM1231,881.8h31l-15.5,25zM1228.1,880.6h31l-15.5,25zM1225.2,880.9h31l-15.5,25zM1222.3,878.9h31l-15.5,25zM1219.4,879.4h31l-15.5,25zM1216.5,878.4h31l-15.5,25zM1213.6,877.6h31l-15.5,25zM1210.7,875.3h31l-15.5,25zM1207.8,874.5h31l-15.5,25zM1204.9,874.8h31l-15.5,25zM1202,875.1h31l-15.5,25zM1199.1,872.6h31l-15.5,25zM1196.2,871.5h31l-15.5,25zM1193.3,872.2h31l-15.5,25zM1190.4,870.5h31l-15.5,25zM1187.6,870h31l-15.5,25zM1184.7,870.2h31l-15.5,25zM1181.8,869.4h31l-15.5,25zM1178.9,867.5h31l-15.5,25zM1176,868.1h31l-15.5,25zM1173.1,865.4h31l-15.5,25zM1170.2,866.4h31l-15.5,25zM1167.3,864.2h31l-15.5,25zM1164.4,864.8h31l-15.5,25zM1161.5,862.4h31l-15.5,25zM1158.6,862.1h31l-15.5,25zM1155.6,862.6h31l-15.5,25zM1152.7,860.7h31l-15.5,25zM1149.8,859.6h31l-15.5,25zM1146.9,859.2h31l-15.5,25zM1144,857.6h31l-15.5,25zM1141.1,858.8h31l-15.5,25zM1138.1,857.9h31l-15.5,25zM1135.2,856.1h31l-15.5,25zM1132.3,856.6h31l-15.5,25zM1129.3,855.1h31l-15.5,25zM1126.4,855.9h31l-15.5,25zM1123.4,853.8h31l-15.5,25zM1120.5,854h31l-15.5,25zM1117.6,852.1h31l-15.5,25zM1114.6,853h31l-15.5,25zM1111.7,852h31l-15.5,25zM1108.8,850.7h31l-15.5,25zM1105.8,850.5h31l-15.5,25zM1102.9,851h31l-15.5,25zM1100,850.5h31l-15.5,25zM1097.1,849.6h31l-15.5,25zM1094.1,848.3h31l-15.5,25zM1091.2,846.4h31l-15.5,25zM1088.2,847.7h31l-15.5,25zM1085.3,847.1h31l-15.5,25zM1082.3,847.1h31l-15.5,25zM1079.4,845.1h31l-15.5,25zM1076.4,845.2h31l-15.5,25zM1073.5,845.2h31l-15.5,25zM1070.5,843.6h31l-15.5,25zM1067.5,842.5h31l-15.5,25zM1064.6,843.5h31l-15.5,25zM1061.6,843.6h31l-15.5,25zM1058.7,841.9h31l-15.5,25zM1055.7,840.3h31l-15.5,25zM1052.7,840.1h31l-15.5,25zM1049.8,840.4h31l-15.5,25zM1046.8,839.6h31l-15.5,25zM1043.8,839.7h31l-15.5,25zM1040.9,838.4h31l-15.5,25zM1037.9,838.8h31l-15.5,25zM1034.9,839.2h31l-15.5,25zM1032,838.8h31l-15.5,25zM1029,837.1h31l-15.5,25zM1026,837.3h31l-15.5,25zM1023,835.7h31l-15.5,25zM1020.1,836h31l-15.5,25zM1017.1,836.4h31l-15.5,25zM1014.1,835.3h31l-15.5,25zM1011.1,836.2h31l-15.5,25zM1008.1,834.9h31l-15.5,25zM1005.1,834.4h31l-15.5,25zM1002.2,833.7h31l-15.5,25zM999.2,834.6h31l-15.5,25zM996.2,833.7h31l-15.5,25zM993.2,834.3h31l-15.5,25zM990.2,834.2h31l-15.5,25zM987.2,833.7h31l-15.5,25zM984.2,832.2h31l-15.5,25zM981.2,833h31l-15.5,25zM978.3,832.3h31l-15.5,25zM975.3,831.3h31l-15.5,25zM972.3,832.1h31l-15.5,25zM969.3,830.9h31l-15.5,25zM966.3,830.3h31l-15.5,25zM963.3,830.2h31l-15.5,25zM960.3,830.2h31l-15.5,25zM957.3,829.5h31l-15.5,25zM954.4,830.4h31l-15.5,25zM951.4,829.4h31l-15.5,25zM949.5,829.8h31l-15.5,25zM796.5,817.5h31l-15.5,25zM799.5,816.6h31l-15.5,25zM802.5,817.1h31l-15.5,25zM805.5,816.7h31l-15.5,25zM808.5,816.1h31l-15.5,25zM811.4,816.3h31l-15.5,25zM814.4,815.2h31l-15.5,25zM817.4,814.9h31l-15.5,25zM820.4,815.8h31l-15.5,25zM823.4,814.7h31l-15.5,25zM826.4,814.4h31l-15.5,25zM829.4,814.7h31l-15.5,25zM832.4,815h31l-15.5,25zM835.4,814.7h31l-15.5,25zM838.4,814.2h31l-15.5,25zM841.4,813.6h31l-15.5,25zM844.4,813.7h31l-15.5,25zM847.4,813.5h31l-15.5,25zM850.4,813h31l-15.5,25zM853.4,813h31l-15.5,25zM856.4,813h31l-15.5,25zM859.4,813.6h31l-15.5,25zM862.4,813.4h31l-15.5,25zM865.4,812.8h31l-15.5,25zM868.4,812.4h31l-15.5,25zM871.3,812.9h31l-15.5,25zM874.3,812.1h31l-15.5,25zM877.3,812.8h31l-15.5,25zM880.3,812.2h31l-15.5,25zM883.3,811.5h31l-15.5,25zM886.3,811.7h31l-15.5,25zM889.3,811.5h31l-15.5,25zM892.3,811.9h31l-15.5,25zM895.3,811.5h31l-15.5,25zM898.3,810.7h31l-15.5,25zM901.3,810.7h31l-15.5,25zM904.3,810.3h31l-15.5,25zM907.3,810.3h31l-15.5,25zM910.3,810.2h31l-15.5,25zM913.3,810.3h31l-15.5,25zM916.3,810.2h31l-15.5,25zM919.3,809.2h31l-15.5,25zM922.2,809.6h31l-15.5,25zM925.2,808.9h31l-15.5,25zM928.2,808.3h31l-15.5,25zM931.2,808.5h31l-15.5,25zM934.2,808.5h31l-15.5,25zM937.2,808.2h31l-15.5,25zM940.2,807.9h31l-15.5,25zM943.1,807h31l-15.5,25zM946.1,806.8h31l-15.5,25zM949.1,806.6h31l-15.5,25zM952.1,806h31l-15.5,25zM955,806.1h31l-15.5,25zM958,805.7h31l-15.5,25zM961,805h31l-15.5,25zM964,804h31l-15.5,25zM966.9,803.8h31l-15.5,25zM969.9,803.9h31l-15.5,25zM972.9,803.5h31l-15.5,25zM975.8,802.8h31l-15.5,25zM978.8,801.8h31l-15.5,25zM981.7,801.5h31l-15.5,25zM984.7,800.6h31l-15.5,25zM987.6,800.8h31l-15.5,25zM990.5,799h31l-15.5,25zM993.3,798.6h31l-15.5,25zM996.1,797.3h31l-15.5,25zM998.8,796.1h31l-15.5,25zM1001.6,795.5h31l-15.5,25zM1004.4,794.5h31l-15.5,25zM1007.3,792.4h31l-15.5,25zM1010.1,792.2h31l-15.5,25zM1012.9,790.8h31l-15.5,25zM1015.7,789.8h31l-15.5,25zM1018.5,788.5h31l-15.5,25zM1021.2,787.7h31l-15.5,25zM1023.8,786h31l-15.5,25zM1026.3,784.6h31l-15.5,25zM1028.8,782.3h31l-15.5,25zM1031.1,781.1h31l-15.5,25zM1033.4,779.2h31l-15.5,25zM1035.4,776.1h31l-15.5,25zM1037.4,773.9h31l-15.5,25zM1039.2,771.5h31l-15.5,25zM1041,769.3h31l-15.5,25zM1042.7,767h31l-15.5,25zM1044.1,764.8h31l-15.5,25zM1045.3,761.3h31l-15.5,25zM1046.4,758.3h31l-15.5,25zM1047.1,755.5h31l-15.5,25zM1047.4,753.4h31l-15.5,25zM1047.5,749.7h31l-15.5,25zM1047.5,747.3h31l-15.5,25zM1047.5,744.6h31l-15.5,25zM1047.5,740.8h31l-15.5,25zM1047.5,738.6h31l-15.5,25zM1047.5,735h31l-15.5,25zM1047.5,732.4h31l-15.5,25zM1047.5,729h31l-15.5,25zM1047.5,725.9h31l-15.5,25zM1047.5,722.9h31l-15.5,25zM1047.5,720.1h31l-15.5,25zM1047.5,717.1h31l-15.5,25zM1047.5,714.1h31l-15.5,25zM1047.5,713.2h31l-15.5,25zM1046.5,713.7h31l-15.5,25zM1050.5,710.8h31l-15.5,25zM1046.8,707.9h31l-15.5,25zM1047.5,705.1h31l-15.5,25zM1040.7,702.3h31l-15.5,25zM1043.9,699.7h31l-15.5,25zM1038.4,697.1h31l-15.5,25zM1040.6,694.4h31l-15.5,25zM1034.1,691.8h31l-15.5,25zM1035.1,689.1h31l-15.5,25zM1033.8,686.5h31l-15.5,25zM1035.3,683.7h31l-15.5,25zM1035.2,680.9h31l-15.5,25zM1032.3,678.1h31l-15.5,25zM1028,675.2h31l-15.5,25zM1027,672.3h31l-15.5,25zM1026,669.3h31l-15.5,25zM1028.2,666.4h31l-15.5,25zM1027.9,663.4h31l-15.5,25zM1027.6,660.5h31l-15.5,25zM1028,657.5h31l-15.5,25zM1031.1,654.5h31l-15.5,25zM1026.5,651.5h31l-15.5,25zM1030.4,648.6h31l-15.5,25zM1027.5,645.6h31l-15.5,25zM1025.1,642.6h31l-15.5,25zM1023.9,639.6h31l-15.5,25zM1021.6,636.6h31l-15.5,25zM1027.9,633.7h31l-15.5,25zM1024.1,630.7h31l-15.5,25zM1022.5,627.7h31l-15.5,25zM1024.1,624.7h31l-15.5,25zM1027.1,621.7h31l-15.5,25zM1021.3,618.7h31l-15.5,25zM1022.5,615.8h31l-15.5,25zM1022.7,612.8h31l-15.5,25zM1021.5,609.8h31l-15.5,25zM1024.8,606.8h31l-15.5,25zM1026.7,603.8h31l-15.5,25zM1022,600.8h31l-15.5,25zM1020.1,597.8h31l-15.5,25zM1021.5,594.8h31l-15.5,25zM1021.2,591.9h31l-15.5,25zM1023.5,589h31l-15.5,25zM1023.3,586.1h31l-15.5,25zM1027.6,583.2h31l-15.5,25zM1031,580.4h31l-15.5,25zM1027.4,577.5h31l-15.5,25zM1033,574.7h31l-15.5,25zM1033.1,571.8h31l-15.5,25zM1035.6,568.9h31l-15.5,25zM1033.6,566.1h31l-15.5,25zM1030.4,563.2h31l-15.5,25zM1036,560.3h31l-15.5,25zM1036.9,557.4h31l-15.5,25zM1035.9,554.5h31l-15.5,25zM1036.2,551.6h31l-15.5,25zM1038.1,548.7h31l-15.5,25zM1036.4,545.7h31l-15.5,25zM1035.6,542.8h31l-15.5,25zM1039.6,539.9h31l-15.5,25zM1037.3,537h31l-15.5,25zM1040.5,536.7h31l-15.5,25zM1036.4,536.7h31l-15.5,25zM1040.3,534h31l-15.5,25zM1042.2,531.3h31l-15.5,25zM1043.6,528.7h31l-15.5,25zM1041.3,526h31l-15.5,25zM1044.4,523.3h31l-15.5,25zM1047.7,520.7h31l-15.5,25zM1048.2,518h31l-15.5,25zM1045.9,515.3h31l-15.5,25zM1047.7,512.6h31l-15.5,25zM1051.2,509.9h31l-15.5,25zM1051.7,507.2h31l-15.5,25zM1051.1,504.5h31l-15.5,25zM1052.4,501.7h31l-15.5,25zM1056.3,499h31l-15.5,25zM1054.4,496.2h31l-15.5,25zM1060.2,493.5h31l-15.5,25zM1058.6,490.7h31l-15.5,25zM1061.1,487.9h31l-15.5,25zM1062,485.1h31l-15.5,25zM1062.6,482.3h31l-15.5,25zM1061.7,479.5h31l-15.5,25zM1066.6,476.7h31l-15.5,25zM1067.8,473.8h31l-15.5,25zM1068,471h31l-15.5,25zM1068.4,468.1h31l-15.5,25zM1070.4,465.3h31l-15.5,25zM1071,462.4h31l-15.5,25zM1071.4,459.6h31l-15.5,25zM1070,456.7h31l-15.5,25zM1073.3,453.9h31l-15.5,25zM1074.4,451h31l-15.5,25zM1071.9,448.1h31l-15.5,25zM1074.7,445.2h31l-15.5,25zM1074.4,442.4h31l-15.5,25zM1074.3,439.5h31l-15.5,25zM1075.5,436.6h31l-15.5,25zM1076.9,433.7h31l-15.5,25zM1077.6,430.8h31l-15.5,25zM1078.9,428h31l-15.5,25zM1079.9,425.1h31l-15.5,25zM1078.7,422.2h31l-15.5,25zM1081.3,419.3h31l-15.5,25zM1085,416.4h31l-15.5,25zM1082.3,413.5h31l-15.5,25zM1082.3,410.6h31l-15.5,25zM1085.5,407.7h31l-15.5,25zM1084.6,404.8h31l-15.5,25zM1089,402h31l-15.5,25zM1089.9,399.1h31l-15.5,25zM1086.4,396.2h31l-15.5,25zM1086.7,393.3h31l-15.5,25zM1091,391.7h31l-15.5,25zM1044.2,536.7h31l-15.5,25zM1043.6,534h31l-15.5,25zM1045.6,531.3h31l-15.5,25zM1046.6,528.7h31l-15.5,25zM1049.9,526h31l-15.5,25zM1051.5,523.3h31l-15.5,25zM1054.4,520.7h31l-15.5,25zM1054,518h31l-15.5,25zM1057.1,515.3h31l-15.5,25zM1054.3,512.6h31l-15.5,25zM1058.6,509.9h31l-15.5,25zM1059.6,507.2h31l-15.5,25zM1062.3,504.5h31l-15.5,25zM1061.1,501.7h31l-15.5,25zM1063.8,499h31l-15.5,25zM1061.8,496.2h31l-15.5,25zM1066.4,493.5h31l-15.5,25zM1066.9,490.7h31l-15.5,25zM1065.2,487.9h31l-15.5,25zM1068.2,485.1h31l-15.5,25zM1071.5,482.3h31l-15.5,25zM1070,479.5h31l-15.5,25zM1072,476.7h31l-15.5,25zM1074.7,473.8h31l-15.5,25zM1071.1,471h31l-15.5,25zM1071.8,468.1h31l-15.5,25zM1074.7,465.3h31l-15.5,25zM1075.7,462.4h31l-15.5,25zM1078.4,459.6h31l-15.5,25zM1076.6,456.7h31l-15.5,25zM1078.8,453.9h31l-15.5,25zM1080.4,451h31l-15.5,25zM1079.6,448.1h31l-15.5,25zM1083.9,445.2h31l-15.5,25zM1081.4,442.4h31l-15.5,25zM1081,439.5h31l-15.5,25zM1083.5,436.6h31l-15.5,25zM1085.7,433.7h31l-15.5,25zM1087.2,430.8h31l-15.5,25zM1086.7,427.9h31l-15.5,25zM1086.5,425h31l-15.5,25zM1088.5,422.1h31l-15.5,25zM1088.9,419.2h31l-15.5,25zM1089.4,416.3h31l-15.5,25zM1088.2,413.4h31l-15.5,25zM1092.4,410.5h31l-15.5,25zM1089.7,407.6h31l-15.5,25zM1094.2,404.7h31l-15.5,25zM1094.3,401.8h31l-15.5,25zM1095.6,398.9h31l-15.5,25zM1093.3,396h31l-15.5,25zM1096.8,393h31l-15.5,25zM1094.2,391.7h31l-15.5,25zM1092,391.7h31l-15.5,25zM1094.1,388.7h31l-15.5,25zM1092.9,385.8h31l-15.5,25zM1095.8,382.8h31l-15.5,25zM1096.3,379.9h31l-15.5,25zM1097.2,376.9h31l-15.5,25zM1095.6,374h31l-15.5,25zM1097.2,371h31l-15.5,25zM1097.2,368h31l-15.5,25zM1097.8,365.1h31l-15.5,25zM1098.5,362.1h31l-15.5,25zM1096.2,359.1h31l-15.5,25zM1100,356.2h31l-15.5,25zM1100.1,353.2h31l-15.5,25zM1099.9,350.2h31l-15.5,25zM1098.6,347.2h31l-15.5,25zM1098.9,344.3h31l-15.5,25zM1100.4,341.3h31l-15.5,25zM1099.9,338.3h31l-15.5,25zM1102.7,335.3h31l-15.5,25zM1102.9,332.3h31l-15.5,25zM1101.3,329.3h31l-15.5,25zM1100.9,326.3h31l-15.5,25zM1100.3,323.3h31l-15.5,25zM1102.9,320.3h31l-15.5,25zM1100,317.3h31l-15.5,25zM1102,314.3h31l-15.5,25zM1100.8,311.3h31l-15.5,25zM1101.9,308.4h31l-15.5,25zM1104.1,305.4h31l-15.5,25zM1101.8,302.4h31l-15.5,25zM1101.1,299.4h31l-15.5,25zM1103.4,296.4h31l-15.5,25zM1101.2,293.4h31l-15.5,25zM1102.8,290.4h31l-15.5,25zM1104.1,287.4h31l-15.5,25zM1101.8,284.4h31l-15.5,25zM1104.2,281.4h31l-15.5,25zM1101,278.4h31l-15.5,25zM1104.3,275.4h31l-15.5,25zM1104.1,272.4h31l-15.5,25zM1103.6,269.4h31l-15.5,25zM1105.1,266.4h31l-15.5,25zM1104.5,263.4h31l-15.5,25zM1102.4,260.4h31l-15.5,25zM1103.9,257.4h31l-15.5,25zM1103.4,254.4h31l-15.5,25zM1102.1,251.4h31l-15.5,25zM1101.6,248.4h31l-15.5,25zM1104.6,245.4h31l-15.5,25zM1103.8,242.4h31l-15.5,25zM1101.5,239.4h31l-15.5,25zM1104,236.4h31l-15.5,25zM1101.3,233.4h31l-15.5,25zM1104,230.4h31l-15.5,25zM1104.1,227.4h31l-15.5,25zM1101.2,224.4h31l-15.5,25zM1104.2,221.4h31l-15.5,25zM1100.9,218.4h31l-15.5,25zM1100.9,215.4h31l-15.5,25zM1100.8,212.4h31l-15.5,25zM1103.1,209.4h31l-15.5,25zM1102,206.4h31l-15.5,25zM1100.4,203.4h31l-15.5,25zM1101.2,200.4h31l-15.5,25zM1103,197.4h31l-15.5,25zM1102.2,194.4h31l-15.5,25zM1100.5,191.4h31l-15.5,25zM1101.1,188.4h31l-15.5,25zM1102.8,185.4h31l-15.5,25zM1101.1,182.4h31l-15.5,25zM1103.2,179.4h31l-15.5,25zM1101.6,176.4h31l-15.5,25zM1103.3,173.4h31l-15.5,25zM1101.4,170.4h31l-15.5,25zM1103,167.4h31l-15.5,25zM1100.5,167h31l-15.5,25zM1045.5,536.7h31l-15.5,25zM1043.3,539.6h31l-15.5,25zM1045.9,542.5h31l-15.5,25zM1042.7,545.4h31l-15.5,25zM1043.9,548.2h31l-15.5,25zM1040.1,551.1h31l-15.5,25zM1041.7,554h31l-15.5,25zM1040.6,556.9h31l-15.5,25zM1039.3,559.8h31l-15.5,25zM1038.2,562.7h31l-15.5,25zM1039.2,565.6h31l-15.5,25zM1038.4,568.5h31l-15.5,25zM1037.7,571.3h31l-15.5,25zM1036.6,574.2h31l-15.5,25zM1035.5,577.1h31l-15.5,25zM1035.1,579.9h31l-15.5,25zM1033.5,582.8h31l-15.5,25zM1030.7,585.6h31l-15.5,25zM1029.2,588.5h31l-15.5,25zM1029.4,591.4h31l-15.5,25zM1027.6,594.3h31l-15.5,25zM1029.2,597.2h31l-15.5,25zM1029.6,600.2h31l-15.5,25zM1026.8,603.1h31l-15.5,25zM1027.3,606.1h31l-15.5,25zM1028.5,609.1h31l-15.5,25zM1026,612.1h31l-15.5,25zM1024.8,615.1h31l-15.5,25zM1026.8,618.1h31l-15.5,25zM1028.5,621.1h31l-15.5,25zM1026,624.1h31l-15.5,25zM1025.5,627.1h31l-15.5,25zM1027.3,630.1h31l-15.5,25zM1026.8,633.1h31l-15.5,25zM1026.6,636.1h31l-15.5,25zM1027.4,639.1h31l-15.5,25zM1028.2,642.1h31l-15.5,25zM1026.4,645h31l-15.5,25zM1028,648h31l-15.5,25zM1030.6,651h31l-15.5,25zM1030.6,654h31l-15.5,25zM1030.1,656.9h31l-15.5,25zM1028.6,659.9h31l-15.5,25zM1031.6,662.8h31l-15.5,25zM1030.9,665.8h31l-15.5,25zM1032.8,666.7h31l-15.5,25zM1784.5,91.7h31l-15.5,25zM1787.4,90.5h31l-15.5,25zM1790.3,90h31l-15.5,25zM1793.1,89.4h31l-15.5,25zM1796,88h31l-15.5,25zM1798.9,87.1h31l-15.5,25zM1801.8,86.2h31l-15.5,25zM1804.6,85.6h31l-15.5,25zM1807.5,84.7h31l-15.5,25zM1810.4,84h31l-15.5,25zM1813.2,82.9h31l-15.5,25zM1816.1,81.8h31l-15.5,25zM1818.9,81.4h31l-15.5,25zM1821.9,80.7h31l-15.5,25zM1824.8,80h31l-15.5,25zM1827.8,80.4h31l-15.5,25zM1830.8,80.3h31l-15.5,25zM1833.7,81.4h31l-15.5,25zM1836.5,82h31l-15.5,25zM1839.2,83.6h31l-15.5,25zM1842,84.9h31l-15.5,25zM1844.6,86.4h31l-15.5,25zM1847.2,87.9h31l-15.5,25zM1849.8,89h31l-15.5,25zM1852.4,90.1h31l-15.5,25zM1852.5,90.2h31l-15.5,25zM1434.6,148.3h31l-15.5,25zM1437.8,147.3h31l-15.5,25zM1439.8,148h31l-15.5,25zM1443.3,147.1h31l-15.5,25zM1446.1,144h31l-15.5,25zM1449.4,143.8h31l-15.5,25zM1451.8,142.3h31l-15.5,25zM1454.4,143.7h31l-15.5,25zM1458.1,142.8h31l-15.5,25zM1460.5,142.4h31l-15.5,25zM1463.7,139.9h31l-15.5,25zM1466.4,140.5h31l-15.5,25zM1469.7,138.5h31l-15.5,25zM1471.9,138.3h31l-15.5,25zM1474.5,137.7h31l-15.5,25zM1478.5,137.8h31l-15.5,25zM1480.5,137.7h31l-15.5,25zM1483.4,137.2h31l-15.5,25zM1486.4,134.5h31l-15.5,25zM1489.5,135.3h31l-15.5,25zM1492.5,136h31l-15.5,25zM1496.5,133.5h31l-15.5,25zM1499.1,134.3h31l-15.5,25zM1501.8,132.5h31l-15.5,25zM1505.4,134.2h31l-15.5,25zM1506.9,131.8h31l-15.5,25zM1510.3,130.9h31l-15.5,25zM1513.5,132.7h31l-15.5,25zM1515.8,132.1h31l-15.5,25zM1519.2,129h31l-15.5,25zM1523.1,129.4h31l-15.5,25zM1525,128.5h31l-15.5,25zM1528.2,128.1h31l-15.5,25zM1530.9,128.1h31l-15.5,25zM1534.5,128.4h31l-15.5,25zM1537,128.2h31l-15.5,25zM1540.7,128.4h31l-15.5,25zM1543,128.7h31l-15.5,25zM1546.7,127.1h31l-15.5,25zM1549.2,126h31l-15.5,25zM1551.6,127.3h31l-15.5,25zM1555.3,124.4h31l-15.5,25zM1558.8,126.6h31l-15.5,25zM1560.4,125.6h31l-15.5,25zM1563.7,124.6h31l-15.5,25zM1567.6,123.6h31l-15.5,25zM1570,124.2h31l-15.5,25zM1572.5,123.7h31l-15.5,25zM1575.9,124.5h31l-15.5,25zM1578.5,123.1h31l-15.5,25zM1581.2,121.3h31l-15.5,25zM1584.3,120.4h31l-15.5,25zM1587.9,120h31l-15.5,25zM1591.3,119.2h31l-15.5,25zM1593.9,121h31l-15.5,25zM1596.1,118.4h31l-15.5,25zM1600,118.6h31l-15.5,25zM1603.2,117.4h31l-15.5,25zM1605.3,118.7h31l-15.5,25zM1608.1,118h31l-15.5,25zM1611.8,114.7h31l-15.5,25zM1614.2,116.2h31l-15.5,25zM1616.4,115.2h31l-15.5,25zM1620.4,114.2h31l-15.5,25zM1623,111.4h31l-15.5,25zM1626.5,110.8h31l-15.5,25zM1629.2,112.2h31l-15.5,25zM1631.4,111.5h31l-15.5,25zM1634.5,111.2h31l-15.5,25zM1636.8,111.3h31l-15.5,25zM1640.3,110.4h31l-15.5,25zM1643.4,109.9h31l-15.5,25zM1646.1,108.7h31l-15.5,25zM1648.7,108.1h31l-15.5,25zM1651.7,108.8h31l-15.5,25zM1655.7,107h31l-15.5,25zM1659.1,108.2h31l-15.5,25zM1662,105h31l-15.5,25zM1664.6,106.6h31l-15.5,25zM1667.4,103.9h31l-15.5,25zM1670.9,104.7h31l-15.5,25zM1673.3,105.5h31l-15.5,25zM1675.8,102.4h31l-15.5,25zM1679.7,102.7h31l-15.5,25zM1681.3,101.8h31l-15.5,25zM1685.8,103.1h31l-15.5,25zM1687.5,100.7h31l-15.5,25zM1691.5,101.8h31l-15.5,25zM1694,99.6h31l-15.5,25zM1696.7,101.7h31l-15.5,25zM1699,99.5h31l-15.5,25zM1702,101h31l-15.5,25zM1705.1,100.4h31l-15.5,25zM1709.2,99.2h31l-15.5,25zM1710.9,98.7h31l-15.5,25zM1714.6,97.7h31l-15.5,25zM1717,97.3h31l-15.5,25zM1721,95.7h31l-15.5,25zM1724.1,96.3h31l-15.5,25zM1726.1,95.3h31l-15.5,25zM1729.4,96.3h31l-15.5,25zM1732.6,96.7h31l-15.5,25zM1735.5,95.2h31l-15.5,25zM1739.2,93.8h31l-15.5,25zM1740.6,93.8h31l-15.5,25zM1744.1,92.7h31l-15.5,25zM1747.2,92.1h31l-15.5,25zM1751,93.1h31l-15.5,25zM1753.9,93.3h31l-15.5,25zM1756.6,93h31l-15.5,25zM1758.9,92.5h31l-15.5,25zM1761.7,91.4h31l-15.5,25zM1765.3,91.6h31l-15.5,25zM1767.5,89.7h31l-15.5,25zM1771.5,90.6h31l-15.5,25zM1774.7,87.8h31l-15.5,25zM1776.4,87.1h31l-15.5,25zM1780.2,88.5h31l-15.5,25zM1783,88h31l-15.5,25zM1785.7,86.6h31l-15.5,25zM1789.3,86.2h31l-15.5,25zM1791.7,85.3h31l-15.5,25zM1794.4,85.1h31l-15.5,25zM1797.4,82.2h31l-15.5,25zM1800.1,82.4h31l-15.5,25zM1802.9,82h31l-15.5,25zM1805.7,80.6h31l-15.5,25zM1808.7,79.6h31l-15.5,25zM1812.4,77.9h31l-15.5,25zM1813.8,79h31l-15.5,25zM1817.2,77.2h31l-15.5,25zM1820.4,76.1h31l-15.5,25zM1822.8,74.5h31l-15.5,25zM1826.8,77.2h31l-15.5,25zM1828.8,76h31l-15.5,25zM1831.8,75.4h31l-15.5,25zM1835.4,79.2h31l-15.5,25zM1837.1,78.6h31l-15.5,25zM1840.5,81.7h31l-15.5,25zM1842.8,81.7h31l-15.5,25zM1845.2,84.3h31l-15.5,25zM1848.8,85.8h31l-15.5,25zM1850.3,86.4h31l-15.5,25zM1854.3,88.3h31l-15.5,25zM1856,88h31l-15.5,25zM1857.9,91.5h31l-15.5,25zM1860.5,93.3h31l-15.5,25zM1864.1,93.7h31l-15.5,25zM1867.1,96.4h31l-15.5,25zM1869.5,94.9h31l-15.5,25zM1872.3,96.8h31l-15.5,25zM1874.6,99.4h31l-15.5,25zM1878.2,97.9h31l-15.5,25zM1880.2,99.7h31l-15.5,25zM1883.5,100.8h31l-15.5,25zM1886,103.7h31l-15.5,25zM1888.2,104.7h31l-15.5,25zM1891.1,106.9h31l-15.5,25zM1894.6,106.5h31l-15.5,25zM1896.5,107.5h31l-15.5,25zM1898.6,111h31l-15.5,25zM1901.2,112.1h31l-15.5,25zM1902.3,113.5h31l-15.5,25zM1905.3,115.8h31l-15.5,25zM1906.9,119.5h31l-15.5,25zM1909.8,121.4h31l-15.5,25zM1910.6,124h31l-15.5,25zM1912.5,127h31l-15.5,25zM1914,127.8h31l-15.5,25zM1916.1,132.4h31l-15.5,25zM1917.2,132.7h31l-15.5,25zM1918.7,135.3h31l-15.5,25zM1920.5,138.5h31l-15.5,25zM1922.8,141h31l-15.5,25zM1924.1,143.5h31l-15.5,25zM1926.4,147.4h31l-15.5,25zM1927.8,149.8h31l-15.5,25zM1929.6,152.2h31l-15.5,25zM1932.2,153.3h31l-15.5,25zM1934.1,154h31l-15.5,25zM1936.1,157.9h31l-15.5,25zM1938.7,159.2h31l-15.5,25zM1941.1,160.7h31l-15.5,25zM1942.9,161.6h31l-15.5,25zM1945.2,165.3h31l-15.5,25zM1947.6,165.4h31l-15.5,25zM1949.7,169.1h31l-15.5,25zM1950.5,170.9h31l-15.5,25zM1952.2,175.3h31l-15.5,25zM1954.2,176.4h31l-15.5,25zM1955.2,178.9h31l-15.5,25zM1956.5,181.8h31l-15.5,25zM1958.6,185.9h31l-15.5,25zM1959.6,189h31l-15.5,25zM1960.5,189.4h31l-15.5,25zM1960.2,192.4h31l-15.5,25zM1961.1,196.6h31l-15.5,25zM1962.4,199.7h31l-15.5,25zM1962.2,201.6h31l-15.5,25zM1963.3,206.2h31l-15.5,25zM1962.5,206.9h31l-15.5,25zM1963.6,210.6h31l-15.5,25zM1963.5,213.2h31l-15.5,25zM1963.2,216.9h31l-15.5,25zM1963.6,219.7h31l-15.5,25zM1962.3,222.4h31l-15.5,25zM1963.3,227.9h31l-15.5,25zM1962.9,230h31l-15.5,25zM1962,231.6h31l-15.5,25zM1961.2,236.9h31l-15.5,25zM1960.4,238.6h31l-15.5,25zM1959.8,240h31l-15.5,25zM1958.5,245.1h31l-15.5,25zM1956.5,245.1h31l-15.5,25zM1955.1,248.8h31l-15.5,25zM1952.6,249.2h31l-15.5,25zM1950.7,250.7h31l-15.5,25zM1947,252.7h31l-15.5,25zM1944.9,254.9h31l-15.5,25zM1942.3,257h31l-15.5,25zM1940.2,257.5h31l-15.5,25zM1936.1,260h31l-15.5,25zM1933.4,259.7h31l-15.5,25zM1930.9,262h31l-15.5,25zM1929.3,261.8h31l-15.5,25zM1925.8,265.5h31l-15.5,25zM1923.8,264.4h31l-15.5,25zM1921.1,268h31l-15.5,25zM1917.9,267.3h31l-15.5,25zM1915.6,269.1h31l-15.5,25zM1912.1,269.9h31l-15.5,25zM1909.8,271.1h31l-15.5,25zM1907.1,273.7h31l-15.5,25zM1904.6,274.5h31l-15.5,25zM1902.4,274.9h31l-15.5,25zM1899,279.1h31l-15.5,25zM1897.3,280.6h31l-15.5,25zM1894.7,281.1h31l-15.5,25zM1892.4,283.1h31l-15.5,25zM1888.8,283.8h31l-15.5,25zM1886.2,287.2h31l-15.5,25zM1883.8,287h31l-15.5,25zM1881.3,287h31l-15.5,25zM1878.7,290h31l-15.5,25zM1875.9,290.9h31l-15.5,25zM1872.2,289h31l-15.5,25zM1869.9,291.1h31l-15.5,25zM1866.3,290.3h31l-15.5,25zM1863,292.3h31l-15.5,25zM1860.5,292.6h31l-15.5,25zM1857.3,291.4h31l-15.5,25zM1854.7,293.2h31l-15.5,25zM1852.3,292.4h31l-15.5,25zM1849,293.1h31l-15.5,25zM1846.3,294.7h31l-15.5,25zM1842.9,293.8h31l-15.5,25zM1839.4,295.9h31l-15.5,25zM1837.3,294.5h31l-15.5,25zM1833.2,294.6h31l-15.5,25zM1831.6,294.5h31l-15.5,25zM1828.4,296.4h31l-15.5,25zM1825,296.8h31l-15.5,25zM1821.8,297.2h31l-15.5,25zM1818.3,298.6h31l-15.5,25zM1815.3,296.4h31l-15.5,25zM1813.3,298.3h31l-15.5,25zM1810.5,298.7h31l-15.5,25zM1807.7,296.8h31l-15.5,25zM1803.2,297.7h31l-15.5,25zM1801.5,297.6h31l-15.5,25zM1798.1,299.8h31l-15.5,25zM1794.5,299.2h31l-15.5,25zM1792.7,300.1h31l-15.5,25zM1788.9,299.5h31l-15.5,25zM1785.7,301.2h31l-15.5,25zM1783.5,300.5h31l-15.5,25zM1779.8,300.9h31l-15.5,25zM1777.1,301.3h31l-15.5,25zM1773.9,301.8h31l-15.5,25zM1771.4,300.6h31l-15.5,25zM1768.2,301.9h31l-15.5,25zM1765.1,302.6h31l-15.5,25zM1761.3,302.6h31l-15.5,25zM1759.5,301.5h31l-15.5,25zM1756.7,300.6h31l-15.5,25zM1752.9,302.6h31l-15.5,25zM1750.7,301.7h31l-15.5,25zM1747.9,302.7h31l-15.5,25zM1743.4,301.2h31l-15.5,25zM1740.5,302.9h31l-15.5,25zM1737.9,302.2h31l-15.5,25zM1735.1,301.9h31l-15.5,25zM1732.9,304.7h31l-15.5,25zM1729.3,303.8h31l-15.5,25zM1725.9,304.7h31l-15.5,25zM1723,306.3h31l-15.5,25zM1721.1,306.1h31l-15.5,25zM1717.9,304.7h31l-15.5,25zM1714,306.5h31l-15.5,25zM1711.1,307.7h31l-15.5,25zM1709.6,309.9h31l-15.5,25zM1706.7,308.8h31l-15.5,25zM1702.7,309h31l-15.5,25zM1699.9,309.9h31l-15.5,25zM1697.4,311.5h31l-15.5,25zM1694.7,313.2h31l-15.5,25zM1691.7,313.1h31l-15.5,25zM1689,315h31l-15.5,25zM1686,314.9h31l-15.5,25zM1682.7,314.8h31l-15.5,25zM1679,315.8h31l-15.5,25zM1677,315.3h31l-15.5,25zM1674.4,317.9h31l-15.5,25zM1671.4,317.9h31l-15.5,25zM1667.8,316.1h31l-15.5,25zM1664.5,318.2h31l-15.5,25zM1662.6,316.5h31l-15.5,25zM1658.1,317.5h31l-15.5,25zM1655.6,318.5h31l-15.5,25zM1652.3,319.6h31l-15.5,25zM1649.6,320.1h31l-15.5,25zM1646.6,318.5h31l-15.5,25zM1643.4,321.2h31l-15.5,25zM1641.3,321.7h31l-15.5,25zM1637.9,322.4h31l-15.5,25zM1636.6,325.7h31l-15.5,25zM1634.7,324.8h31l-15.5,25zM1631.6,329.8h31l-15.5,25zM1629.8,331.7h31l-15.5,25zM1627.2,330.9h31l-15.5,25zM1626.2,333.8h31l-15.5,25zM1623.5,336.3h31l-15.5,25zM1621.5,340.3h31l-15.5,25zM1620.1,342.3h31l-15.5,25zM1616.9,344.3h31l-15.5,25zM1614.5,345.3h31l-15.5,25zM1614,347h31l-15.5,25zM1611.1,350.3h31l-15.5,25zM1608.9,353h31l-15.5,25zM1607.6,353.3h31l-15.5,25zM1606.1,355.5h31l-15.5,25zM1603.8,358.6h31l-15.5,25zM1600.9,360h31l-15.5,25zM1600.3,364.6h31l-15.5,25zM1597.5,366.8h31l-15.5,25zM1596.3,369.5h31l-15.5,25zM1593.6,369.7h31l-15.5,25zM1591.6,374.2h31l-15.5,25zM1590,375.4h31l-15.5,25zM1588.2,376.8h31l-15.5,25zM1585.7,380.5h31l-15.5,25zM1583.1,382.7h31l-15.5,25zM1580.8,383.9h31l-15.5,25zM1579.7,384.9h31l-15.5,25zM1578.2,388.1h31l-15.5,25zM1575.1,390.2h31l-15.5,25zM1573.7,392.5h31l-15.5,25zM1570.7,393.6h31l-15.5,25zM1569.9,396h31l-15.5,25zM1567.1,400.4h31l-15.5,25zM1566.1,402.9h31l-15.5,25zM1563,402.3h31l-15.5,25zM1561.9,406.4h31l-15.5,25zM1559.3,406.8h31l-15.5,25zM1557.4,409.8h31l-15.5,25zM1555.7,414.4h31l-15.5,25zM1553.1,413.8h31l-15.5,25zM1552,416.2h31l-15.5,25zM1549.3,419.5h31l-15.5,25zM1548.6,421.4h31l-15.5,25zM1545.6,424.2h31l-15.5,25zM1543.4,426.3h31l-15.5,25zM1542.4,428.4h31l-15.5,25zM1540.6,430.2h31l-15.5,25zM1537.6,433.9h31l-15.5,25zM1536.2,437.1h31l-15.5,25zM1533.7,438.9h31l-15.5,25zM1532.6,439.9h31l-15.5,25zM1529.7,442.9h31l-15.5,25zM1528.7,444.7h31l-15.5,25zM1526.2,447.6h31l-15.5,25zM1524.4,448.9h31l-15.5,25zM1521.6,451.2h31l-15.5,25zM1520.1,454.8h31l-15.5,25zM1518.8,455.9h31l-15.5,25zM1515.6,457h31l-15.5,25zM1514,460.8h31l-15.5,25zM1511.4,462.8h31l-15.5,25zM1510.5,464.1h31l-15.5,25zM1508.4,466.4h31l-15.5,25zM1505.9,470h31l-15.5,25zM1503.1,470.5h31l-15.5,25zM1502.4,471.8h31l-15.5,25zM1499.3,475.4h31l-15.5,25zM1497.9,478.1h31l-15.5,25zM1496.2,480.4h31l-15.5,25zM1492.7,480.7h31l-15.5,25zM1490.7,484h31l-15.5,25zM1488.6,486.5h31l-15.5,25zM1487.5,487.6h31l-15.5,25zM1485.7,490.4h31l-15.5,25zM1483.8,492.4h31l-15.5,25zM1481.2,495.1h31l-15.5,25zM1478.5,498h31l-15.5,25zM1475.9,498.4h31l-15.5,25zM1474.3,502.6h31l-15.5,25zM1472.5,502h31l-15.5,25zM1470,506h31l-15.5,25zM1468.7,506.5h31l-15.5,25zM1466.6,509.5h31l-15.5,25zM1464,511.7h31l-15.5,25zM1461.8,515.7h31l-15.5,25zM1460.4,517.6h31l-15.5,25zM1458,519h31l-15.5,25zM1454.9,518.9h31l-15.5,25zM1453.8,523h31l-15.5,25zM1451.3,523.9h31l-15.5,25zM1448.5,527.9h31l-15.5,25zM1446.6,526.9h31l-15.5,25zM1444,529.9h31l-15.5,25zM1441.2,533.7h31l-15.5,25zM1440.1,535h31l-15.5,25zM1436.3,535.5h31l-15.5,25zM1434,538.2h31l-15.5,25zM1432.6,540.1h31l-15.5,25zM1430.2,539.7h31l-15.5,25zM1426.4,541.3h31l-15.5,25zM1425.3,545.4h31l-15.5,25zM1422.3,545.2h31l-15.5,25zM1420.4,546.5h31l-15.5,25zM1417,547.8h31l-15.5,25zM1415.6,550.9h31l-15.5,25zM1412.8,553.8h31l-15.5,25zM1410.1,556.1h31l-15.5,25zM1407.9,557.7h31l-15.5,25zM1405.8,556.7h31l-15.5,25zM1403,558.9h31l-15.5,25zM1399.9,561h31l-15.5,25zM1398.5,561.8h31l-15.5,25zM1395.1,563.8h31l-15.5,25zM1393.5,566.6h31l-15.5,25zM1390.6,568.4h31l-15.5,25zM1388.2,569.5h31l-15.5,25zM1385.1,572.4h31l-15.5,25zM1383,574.4h31l-15.5,25zM1379.9,575.9h31l-15.5,25zM1378,576.6h31l-15.5,25zM1374.9,578.1h31l-15.5,25zM1371.8,578.1h31l-15.5,25zM1369.5,579.7h31l-15.5,25zM1366.5,583h31l-15.5,25zM1365,584.2h31l-15.5,25zM1361.5,586h31l-15.5,25zM1359.8,587.1h31l-15.5,25zM1356.3,588.3h31l-15.5,25zM1353.9,588.8h31l-15.5,25zM1350.8,592.1h31l-15.5,25zM1348.9,593.7h31l-15.5,25zM1345.5,593h31l-15.5,25zM1343.4,593.7h31l-15.5,25zM1340.4,596.5h31l-15.5,25zM1338,599.1h31l-15.5,25zM1335.5,599.5h31l-15.5,25zM1332.8,601.3h31l-15.5,25zM1329.7,600.1h31l-15.5,25zM1328,603.8h31l-15.5,25zM1323.8,602.9h31l-15.5,25zM1321.3,605.8h31l-15.5,25zM1318.4,605h31l-15.5,25zM1316.2,606.1h31l-15.5,25zM1313,608.5h31l-15.5,25zM1310.2,608.4h31l-15.5,25zM1307.5,610.3h31l-15.5,25zM1304.8,611.9h31l-15.5,25zM1302.1,612.8h31l-15.5,25zM1298.7,615.5h31l-15.5,25zM1297.1,615.5h31l-15.5,25zM1293.1,615.7h31l-15.5,25zM1291.7,617.5h31l-15.5,25zM1287.8,619.7h31l-15.5,25zM1286.1,618.6h31l-15.5,25zM1282.7,621h31l-15.5,25zM1279.2,621.3h31l-15.5,25zM1277.2,623.5h31l-15.5,25zM1274.4,624.3h31l-15.5,25zM1271.2,623.6h31l-15.5,25zM1267.8,627.1h31l-15.5,25zM1266.3,628.3h31l-15.5,25zM1262.3,628.9h31l-15.5,25zM1259.6,628.5h31l-15.5,25zM1256.8,631.2h31l-15.5,25zM1255,632.1h31l-15.5,25zM1251.4,633.4h31l-15.5,25zM1248.4,633.3h31l-15.5,25zM1246.3,633.2h31l-15.5,25zM1243,633.7h31l-15.5,25zM1240.8,635h31l-15.5,25zM1236.9,636.3h31l-15.5,25zM1234.9,638.4h31l-15.5,25zM1231.8,640.1h31l-15.5,25zM1229.4,639h31l-15.5,25zM1226.2,639.8h31l-15.5,25zM1222.9,640.7h31l-15.5,25zM1219.8,642.3h31l-15.5,25zM1218.2,644.3h31l-15.5,25zM1214.1,643.8h31l-15.5,25zM1212.1,645.8h31l-15.5,25zM1208.3,645.4h31l-15.5,25zM1206.3,648h31l-15.5,25zM1202.7,649.5h31l-15.5,25zM1200.1,649.8h31l-15.5,25zM1197.8,650h31l-15.5,25zM1195.6,651.1h31l-15.5,25zM1191.9,652.6h31l-15.5,25zM1189.7,654.9h31l-15.5,25zM1186.8,654.5h31l-15.5,25zM1183.8,655.7h31l-15.5,25zM1181.4,657.7h31l-15.5,25zM1178.2,656.3h31l-15.5,25zM1175.1,657.9h31l-15.5,25zM1171.7,660h31l-15.5,25zM1168.8,660.7h31l-15.5,25zM1166.4,660.7h31l-15.5,25zM1163.9,662.6h31l-15.5,25zM1161.5,664.5h31l-15.5,25zM1158.3,663h31l-15.5,25zM1155.3,664.6h31l-15.5,25zM1152.8,665.4h31l-15.5,25zM1149,664.9h31l-15.5,25zM1146.3,667.4h31l-15.5,25zM1143.2,666.9h31l-15.5,25zM1140.6,667.6h31l-15.5,25zM1137.2,669.6h31l-15.5,25zM1134.6,670.6h31l-15.5,25zM1132,671h31l-15.5,25zM1128.5,670.7h31l-15.5,25zM1126.3,674.5h31l-15.5,25zM1122.9,673.3h31l-15.5,25zM1120.1,675.3h31l-15.5,25zM1117.4,676.2h31l-15.5,25zM1113.8,674.8h31l-15.5,25zM1111.2,676.3h31l-15.5,25zM1108.6,677h31l-15.5,25zM1106.5,677.9h31l-15.5,25zM1103,680.2h31l-15.5,25zM1100.2,679.7h31l-15.5,25zM1097.5,679.5h31l-15.5,25zM1093.3,682.2h31l-15.5,25zM1091.2,681.6h31l-15.5,25zM1087.5,682.7h31l-15.5,25zM1085.1,683h31l-15.5,25zM1082,684.5h31l-15.5,25zM1079.2,683.1h31l-15.5,25zM1077.1,683.6h31l-15.5,25zM1073.2,685h31l-15.5,25zM1071.4,684.4h31l-15.5,25zM1067.2,687.1h31l-15.5,25zM1064,686.5h31l-15.5,25zM1062.2,688h31l-15.5,25zM1059.3,686.7h31l-15.5,25zM1056.5,688h31l-15.5,25zM1053.4,688.9h31l-15.5,25zM1050.6,689.4h31l-15.5,25zM1046.6,688.9h31l-15.5,25zM1044,689.1h31l-15.5,25zM1040.6,692.2h31l-15.5,25zM1038.2,692.6h31l-15.5,25zM1034.6,691.9h31l-15.5,25zM1032.2,691.2h31l-15.5,25zM1028.9,694.2h31l-15.5,25zM1026.6,693.4h31l-15.5,25zM1023.5,695h31l-15.5,25zM1021.1,694.5h31l-15.5,25zM1016.7,695.9h31l-15.5,25zM1013.9,694.3h31l-15.5,25zM1010.9,695.6h31l-15.5,25zM1008.6,695.9h31l-15.5,25zM1005.5,695.3h31l-15.5,25zM1002.9,696.9h31l-15.5,25zM999.2,698.3h31l-15.5,25zM997.3,699h31l-15.5,25zM994.4,696.6h31l-15.5,25zM990.5,698.3h31l-15.5,25zM987.3,699.6h31l-15.5,25zM985.3,698.1h31l-15.5,25zM981.7,701.2h31l-15.5,25zM979.4,700h31l-15.5,25zM975.2,700.4h31l-15.5,25zM972.8,701.9h31l-15.5,25zM969.3,700.7h31l-15.5,25zM967.7,700.3h31l-15.5,25zM964.1,701h31l-15.5,25zM961.3,702.5h31l-15.5,25zM958.7,702.2h31l-15.5,25zM955.6,702.7h31l-15.5,25zM951.3,702.6h31l-15.5,25zM948.4,704h31l-15.5,25zM946.8,704.3h31l-15.5,25zM943.5,703.7h31l-15.5,25zM940.2,705.7h31l-15.5,25zM936.5,706.3h31l-15.5,25zM934.1,705.9h31l-15.5,25zM931.8,707.5h31l-15.5,25zM927.7,706h31l-15.5,25zM924.6,706.9h31l-15.5,25zM922.5,709.5h31l-15.5,25zM920.1,709.6h31l-15.5,25zM915.8,709.7h31l-15.5,25zM913.8,709.1h31l-15.5,25zM911.2,709.9h31l-15.5,25zM906.8,709h31l-15.5,25zM903.9,710.6h31l-15.5,25zM901.7,711.8h31l-15.5,25zM897.7,709.4h31l-15.5,25zM896.3,710.5h31l-15.5,25zM892.1,712.8h31l-15.5,25zM888.9,712.9h31l-15.5,25zM887.2,712.4h31l-15.5,25zM883.8,711h31l-15.5,25zM880.8,713.3h31l-15.5,25zM878,713.3h31l-15.5,25zM874,712.7h31l-15.5,25zM871.9,712.6h31l-15.5,25zM868,713.5h31l-15.5,25zM866.2,714.8h31l-15.5,25zM862.5,716.4h31l-15.5,25zM859.9,714.5h31l-15.5,25zM856.9,716.8h31l-15.5,25zM856.3,715.5h31l-15.5,25zM1833.5,79h31l-15.5,25zM1836.1,80.4h31l-15.5,25zM1838.8,81.8h31l-15.5,25zM1841.4,83.2h31l-15.5,25zM1844.1,84.7h31l-15.5,25zM1846.7,86.1h31l-15.5,25zM1849.4,87.5h31l-15.5,25zM1852,88.9h31l-15.5,25zM1854.7,90.3h31l-15.5,25zM1857.3,91.7h31l-15.5,25zM1860,93.1h31l-15.5,25zM1862.6,94.5h31l-15.5,25zM1865.3,95.9h31l-15.5,25zM1867.9,97.4h31l-15.5,25zM1870.4,99h31l-15.5,25zM1872.9,100.7h31l-15.5,25zM1875.2,102.6h31l-15.5,25zM1877.3,104.7h31l-15.5,25zM1879.3,107h31l-15.5,25zM1881.3,109.2h31l-15.5,25zM1883.3,111.4h31l-15.5,25zM1885.4,113.6h31l-15.5,25zM1887.4,115.8h31l-15.5,25zM1889.5,117.9h31l-15.5,25zM1891.6,120.1h31l-15.5,25zM1893.7,122.3h31l-15.5,25zM1895.7,124.5h31l-15.5,25zM1897.7,126.7h31l-15.5,25zM1899.7,128.9h31l-15.5,25zM1901.8,131.1h31l-15.5,25zM1903.8,133.3h31l-15.5,25zM1906,135.4h31l-15.5,25zM1908.1,137.5h31l-15.5,25zM1910.3,139.6h31l-15.5,25zM1912.5,141.5h31l-15.5,25zM1914.9,143.4h31l-15.5,25zM1917.2,145.3h31l-15.5,25zM1919.6,147.1h31l-15.5,25zM1922.1,148.8h31l-15.5,25zM1924.5,150.6h31l-15.5,25zM1926.9,152.3h31l-15.5,25zM1929.4,154.1h31l-15.5,25zM1931.9,155.8h31l-15.5,25zM1934.2,157.7h31l-15.5,25zM1936.3,159.8h31l-15.5,25zM1938.3,162h31l-15.5,25zM1940.1,164.4h31l-15.5,25zM1941.8,166.9h31l-15.5,25zM1943.3,169.5h31l-15.5,25zM1944.9,172h31l-15.5,25zM1946.5,174.5h31l-15.5,25zM1948.3,177h31l-15.5,25zM1950,179.4h31l-15.5,25zM1951.9,181.8h31l-15.5,25zM1953.7,184.1h31l-15.5,25zM1955.6,186.5h31l-15.5,25zM1956.5,187.7h31l-15.5,25zM889.7,738h31l-15.5,25zM893,738.7h31l-15.5,25zM895.9,738.7h31l-15.5,25zM898.3,739h31l-15.5,25zM901.7,738.9h31l-15.5,25zM904.2,739.3h31l-15.5,25zM907.6,739.6h31l-15.5,25zM909.9,741.1h31l-15.5,25zM913.2,741.2h31l-15.5,25zM915.6,744.1h31l-15.5,25zM918.4,744.8h31l-15.5,25zM921.3,744.4h31l-15.5,25zM924.3,746.8h31l-15.5,25zM927.5,746h31l-15.5,25zM930.3,747.9h31l-15.5,25zM933,748.8h31l-15.5,25zM936,748.5h31l-15.5,25zM939.1,749h31l-15.5,25zM941.6,751.1h31l-15.5,25zM944.8,751.1h31l-15.5,25zM947.9,751.8h31l-15.5,25zM950.4,752.7h31l-15.5,25zM952.9,753.2h31l-15.5,25zM955.8,755.4h31l-15.5,25zM959.5,755.7h31l-15.5,25zM961.6,757.1h31l-15.5,25zM964.5,758.2h31l-15.5,25zM967.6,758.9h31l-15.5,25zM970.5,759.3h31l-15.5,25zM973.4,760.9h31l-15.5,25zM976.1,762.6h31l-15.5,25zM978.4,762.8h31l-15.5,25zM981.3,763.2h31l-15.5,25zM984.6,765.5h31l-15.5,25zM987,766.4h31l-15.5,25zM990.2,766.6h31l-15.5,25zM992.4,769.1h31l-15.5,25zM995.3,770h31l-15.5,25zM997.7,770.8h31l-15.5,25zM1000.7,772.5h31l-15.5,25zM1003.6,775h31l-15.5,25zM1006.3,775.3h31l-15.5,25zM1008.4,776.5h31l-15.5,25zM1010.7,778.1h31l-15.5,25zM1013.4,781.5h31l-15.5,25zM1016.1,782h31l-15.5,25zM1018.1,784.8h31l-15.5,25zM1020.4,786.3h31l-15.5,25zM1023.7,786.4h31l-15.5,25zM1026.3,789.2h31l-15.5,25zM1028.2,790.4h31l-15.5,25zM1030.9,792.4h31l-15.5,25zM1033.6,794.9h31l-15.5,25zM1035.4,794.9h31l-15.5,25zM1038.2,798h31l-15.5,25zM1040.4,798.8h31l-15.5,25zM1042.2,802.3h31l-15.5,25zM1044.7,803.4h31l-15.5,25zM1047.6,804.8h31l-15.5,25zM1049.5,806.5h31l-15.5,25zM1051.7,809.9h31l-15.5,25zM1053.5,812h31l-15.5,25zM1056.5,814.1h31l-15.5,25zM1058.5,816.4h31l-15.5,25zM1060.6,817.7h31l-15.5,25zM1062.9,820.3h31l-15.5,25zM1064.8,822.2h31l-15.5,25zM1066.5,823.6h31l-15.5,25zM1068.8,826.7h31l-15.5,25zM1071.4,827.7h31l-15.5,25zM1073.9,829.2h31l-15.5,25zM1075.2,831.7h31l-15.5,25zM1077.5,834.9h31l-15.5,25zM1080.1,835.7h31l-15.5,25zM1083,837.8h31l-15.5,25zM1085.1,839.4h31l-15.5,25zM1087.4,842.2h31l-15.5,25zM1089.7,843h31l-15.5,25zM1092.5,843.8h31l-15.5,25zM1094.8,846h31l-15.5,25zM1098.1,847.3h31l-15.5,25zM1100.1,849.5h31l-15.5,25zM1102.9,850.5h31l-15.5,25zM1105.7,851h31l-15.5,25zM1108.6,851.1h31l-15.5,25zM1111.8,853h31l-15.5,25zM1114.7,853h31l-15.5,25zM1117.6,853.9h31l-15.5,25zM1120.4,855.4h31l-15.5,25zM1123.3,854.4h31l-15.5,25zM1126.6,855.4h31l-15.5,25zM1129.7,855.2h31l-15.5,25zM1132.6,856.4h31l-15.5,25zM1135.8,856.7h31l-15.5,25zM1138.3,857.3h31l-15.5,25zM1141.3,857.7h31l-15.5,25zM1144.4,858.5h31l-15.5,25zM1144.7,858.2h31l-15.5,25zM708.5,721.7h31l-15.5,25zM711.5,721.5h31l-15.5,25zM714.5,720.7h31l-15.5,25zM717.5,720.4h31l-15.5,25zM720.4,720.2h31l-15.5,25zM723.4,720.1h31l-15.5,25zM726.4,719.7h31l-15.5,25zM729.4,719.4h31l-15.5,25zM732.4,719.7h31l-15.5,25zM735.4,719.1h31l-15.5,25zM738.4,719.3h31l-15.5,25zM741.4,719.1h31l-15.5,25zM744.4,718.9h31l-15.5,25zM747.4,718.7h31l-15.5,25zM750.4,718.6h31l-15.5,25zM753.4,718.3h31l-15.5,25zM756.4,719h31l-15.5,25zM759.4,718.5h31l-15.5,25zM762.4,718.4h31l-15.5,25zM765.4,718.3h31l-15.5,25zM768.4,718.7h31l-15.5,25zM771.4,719.1h31l-15.5,25zM774.4,719.1h31l-15.5,25zM777.4,718.2h31l-15.5,25zM780.4,719.1h31l-15.5,25zM783.4,718.8h31l-15.5,25zM786.4,718.6h31l-15.5,25zM789.4,718.3h31l-15.5,25zM792.4,718.4h31l-15.5,25zM795.4,719h31l-15.5,25zM798.4,719h31l-15.5,25zM801.4,718.7h31l-15.5,25zM804.4,719h31l-15.5,25zM807.4,718.8h31l-15.5,25zM810.4,718.5h31l-15.5,25zM813.4,718.7h31l-15.5,25zM816.4,719h31l-15.5,25zM819,718.4h31l-15.5,25zM340,820.7h31l-15.5,25zM448.8,820.7h31l-15.5,25zM600,817.7h31l-15.5,25zM674.5,818.7h31l-15.5,25zM684.5,820.7h31l-15.5,25zM403.5,723.7h31l-15.5,25zM476.8,723.7h31l-15.5,25zM563,721.7h31l-15.5,25zM596.5,727.7h31l-15.5,25zM604.5,727.7h31l-15.5,25zM637.5,721.7h31l-15.5,25zM648.5,721.7h31l-15.5,25zM659.5,721.7h31l-15.5,25zM671,727.7h31l-15.5,25zM693.5,721.7h31l-15.5,25zM1119.5,167h31l-15.5,25zM1126.5,166.7h31l-15.5,25zM1134.5,166h31l-15.5,25zM1144.5,166h31l-15.5,25zM1155.5,166h31l-15.5,25zM1184.5,163h31l-15.5,25zM1221.5,163h31l-15.5,25zM1245.5,163h31l-15.5,25zM1255.5,163h31l-15.5,25zM1261.5,163h31l-15.5,25zM1273.5,160h31l-15.5,25zM1284.5,160.7h31l-15.5,25zM1295.5,160h31l-15.5,25zM1304.5,160.7h31l-15.5,25zM1313.5,160h31l-15.5,25zM1324.5,160h31l-15.5,25zM1331.5,158.2h31l-15.5,25zM1338.5,160h31l-15.5,25zM1350.5,157h31l-15.5,25zM1360.5,157h31l-15.5,25zM1369.5,157.2h31l-15.5,25zM1378.5,157h31l-15.5,25zM1386.5,155.7h31l-15.5,25zM1394.5,155.2h31l-15.5,25zM1402.5,154.7h31l-15.5,25zM1409.5,154h31l-15.5,25zM1418.5,152.7h31l-15.5,25zM1426.5,151.2h31l-15.5,25zM855,718.7h31l-15.5,25zM1963.8,204.7h31l-15.5,25zM1963.8,213.7h31l-15.5,25zM1963.8,221.7h31l-15.5,25zM722.5,726.7h31l-15.5,25zM737.5,729.7h31l-15.5,25zM756.5,729.7h31l-15.5,25zM774.5,728.7h31l-15.5,25zM793.5,732.7h31l-15.5,25zM814.5,732.7h31l-15.5,25zM831.5,735.7h31l-15.5,25zM844.5,735.7h31l-15.5,25zM858.5,735.7h31l-15.5,25zM873.5,738.7h31l-15.5,25zM884.5,738.7h31l-15.5,25zM750.5,819h31l-15.5,25zM771.5,819h31l-15.5,25zM793.5,816h31l-15.5,25zM815.5,823h31l-15.5,25zM840.5,823h31l-15.5,25zM858.5,823.2h31l-15.5,25zM871.5,823.2h31l-15.5,25zM889.5,826h31l-15.5,25zM896.5,825.7h31l-15.5,25zM917.5,825.2h31l-15.5,25zM929.5,827.2h31l-15.5,25zM942.5,829h31l-15.5,25z"/>
</g>
<g shape-rendering="crispEdges"><rect x="557" y="213.3" width="161" height="3" fill="#000"/><rect x="557" y="287.8" width="161" height="3" fill="#f00"/><rect x="557" y="358.7" width="161" height="3" fill="#0f0"/><rect x="557" y="433.2" width="161" height="3" fill="#00f"/><rect x="622" y="200.7" width="28" height="25" fill="#000"/><ellipse cx="637.4" cy="286" rx="15.3" ry="13.8" fill="#f00"/><path d="M619,370.9h37l-18.5,-30.6z" fill="#0f0"/><path d="M619,424h37l-18.5,30.8z" fill="#00f"/></g>
<g font-size="54.8"><text class="b" x="734.8 771.8 816.2" y="233.8">3Cr</text><text class="b" x="734.8 771.8 816.2" y="304.9">5Cr</text><text class="b" x="734.8 771.8 816.2" y="379.4">9Cr</text><text class="b" x="735.6 773.4 808.6 853.2" y="450.9">13Cr</text></g>
<g fill="#f00" stroke="none">
<rect x="932" y="690.4" width="322" height="6" fill="none"/>
<g shape-rendering="crispEdges"><rect x="932" y="690.4" width="25" height="6"/><rect x="975.3" y="690.4" width="6.5" height="6"/><rect x="1000" y="690.4" width="25" height="6"/><rect x="1043.3" y="690.4" width="6.5" height="6"/><rect x="1068" y="690.4" width="25" height="6"/><rect x="1111.3" y="690.4" width="6.5" height="6"/><rect x="1136" y="690.4" width="25" height="6"/><rect x="1179.3" y="690.4" width="6.5" height="6"/><rect x="1204" y="690.4" width="25" height="6"/><rect x="1247.3" y="690.4" width="6.5" height="6"/><rect x="944" y="774" width="25" height="6"/><rect x="987.3" y="774" width="6.5" height="6"/><rect x="1012" y="774" width="25" height="6"/><rect x="1055.3" y="774" width="6.5" height="6"/><rect x="1080" y="774" width="25" height="6"/><rect x="1123.3" y="774" width="6.5" height="6"/><rect x="1148" y="774" width="25" height="6"/><rect x="1191.3" y="774" width="6.5" height="6"/><rect x="1216" y="774" width="25" height="6"/><rect x="1259.3" y="774" width="6.5" height="6"/></g>
<circle cx="1066.5" cy="692.5" r="16.5"/>
<circle cx="1203" cy="971" r="17"/>
<path d="M1074,677L1090,633L1120,664z"/>
<path d="M1188,567L1105,648.5" stroke="#ff3a3a" stroke-width="3" fill="none"/>
</g>
<text class="se" x="1085" y="755" font-size="51" font-weight="bold" style="fill:#f00;stroke:#fff;stroke-opacity:.5;stroke-width:1.6px" textLength="555.5" lengthAdjust="spacingAndGlyphs">Stabilized passivation zone</text>
<text class="se" x="1198.5" y="551.5" font-size="72" font-style="italic" style="fill:#2a2a2a;stroke:#fff;stroke-width:1px">φ</text>
<text class="se" x="1235.2" y="555.3" font-size="54" style="fill:#333;stroke:#fff;stroke-width:.8px">rp</text>
</svg></body></html>
